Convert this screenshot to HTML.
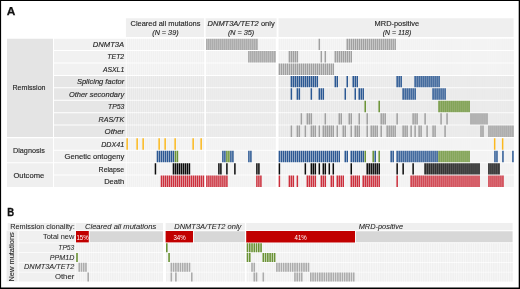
<!DOCTYPE html>
<html><head><meta charset="utf-8"><title>Figure</title>
<style>
html,body{margin:0;padding:0;background:#fff;}
body{width:520px;height:289px;overflow:hidden;font-family:"Liberation Sans",sans-serif;}
svg{display:block;will-change:transform;}
</style></head><body>
<svg width="520" height="289" viewBox="0 0 520 289" font-family="Liberation Sans, sans-serif">
<rect x="0" y="0" width="520" height="289" fill="#fff"/>
<text x="6.8" y="15.1" font-size="11.5" font-weight="bold" textLength="8.6" lengthAdjust="spacingAndGlyphs" fill="#111" stroke="#111" stroke-width="0.25">A</text>
<path fill="#efefef" d="M125.9 18.2h78.2v18.7h-78.2zM205.6 18.2h71v18.7h-71zM278.5 18.2h235.1v18.7h-235.1z"/>
<path fill="#e4e4e4" d="M7 38.65h46v98.39h-46z"/>
<path fill="#efefef" d="M7 138.31h46v23.87h-46zM7 163.15h46v23.87h-46z"/>
<path fill="#f1f1f1" d="M54 38.65h71.8v11.45h-71.8zM54 51.07h71.8v11.45h-71.8zM54 63.49h71.8v11.45h-71.8z"/>
<path fill="#e6e6e6" d="M54 75.91h71.8v11.45h-71.8zM54 88.33h71.8v11.45h-71.8zM54 100.75h71.8v11.45h-71.8zM54 113.17h71.8v11.45h-71.8zM54 125.59h71.8v11.45h-71.8z"/>
<path fill="#f1f1f1" d="M54 138.31h71.8v11.45h-71.8zM54 150.73h71.8v11.45h-71.8zM54 163.15h71.8v11.45h-71.8zM54 175.57h71.8v11.45h-71.8z"/>
<path fill="#f9f9f9" d="M126.7 38.65h77.5v11.45h-77.5zM206.15 38.65h69.5v11.45h-69.5zM278.65 38.65h235.03v11.45h-235.03z"/>
<path fill="#f1f1f1" d="M126.7 38.65h1.5v11.45h-1.5zM128.7 38.65h1.5v11.45h-1.5zM130.7 38.65h1.5v11.45h-1.5zM132.7 38.65h1.5v11.45h-1.5zM134.7 38.65h1.5v11.45h-1.5zM136.7 38.65h1.5v11.45h-1.5zM138.7 38.65h1.5v11.45h-1.5zM140.7 38.65h1.5v11.45h-1.5zM142.7 38.65h1.5v11.45h-1.5zM144.7 38.65h1.5v11.45h-1.5zM146.7 38.65h1.5v11.45h-1.5zM148.7 38.65h1.5v11.45h-1.5zM150.7 38.65h1.5v11.45h-1.5zM152.7 38.65h1.5v11.45h-1.5zM154.7 38.65h1.5v11.45h-1.5zM156.7 38.65h1.5v11.45h-1.5zM158.7 38.65h1.5v11.45h-1.5zM160.7 38.65h1.5v11.45h-1.5zM162.7 38.65h1.5v11.45h-1.5zM164.7 38.65h1.5v11.45h-1.5zM166.7 38.65h1.5v11.45h-1.5zM168.7 38.65h1.5v11.45h-1.5zM170.7 38.65h1.5v11.45h-1.5zM172.7 38.65h1.5v11.45h-1.5zM174.7 38.65h1.5v11.45h-1.5zM176.7 38.65h1.5v11.45h-1.5zM178.7 38.65h1.5v11.45h-1.5zM180.7 38.65h1.5v11.45h-1.5zM182.7 38.65h1.5v11.45h-1.5zM184.7 38.65h1.5v11.45h-1.5zM186.7 38.65h1.5v11.45h-1.5zM188.7 38.65h1.5v11.45h-1.5zM190.7 38.65h1.5v11.45h-1.5zM192.7 38.65h1.5v11.45h-1.5zM194.7 38.65h1.5v11.45h-1.5zM196.7 38.65h1.5v11.45h-1.5zM198.7 38.65h1.5v11.45h-1.5zM200.7 38.65h1.5v11.45h-1.5zM202.7 38.65h1.5v11.45h-1.5zM206.15 38.65h1.5v11.45h-1.5zM208.15 38.65h1.5v11.45h-1.5zM210.15 38.65h1.5v11.45h-1.5zM212.15 38.65h1.5v11.45h-1.5zM214.15 38.65h1.5v11.45h-1.5zM216.15 38.65h1.5v11.45h-1.5zM218.15 38.65h1.5v11.45h-1.5zM220.15 38.65h1.5v11.45h-1.5zM222.15 38.65h1.5v11.45h-1.5zM224.15 38.65h1.5v11.45h-1.5zM226.15 38.65h1.5v11.45h-1.5zM228.15 38.65h1.5v11.45h-1.5zM230.15 38.65h1.5v11.45h-1.5zM232.15 38.65h1.5v11.45h-1.5zM234.15 38.65h1.5v11.45h-1.5zM236.15 38.65h1.5v11.45h-1.5zM238.15 38.65h1.5v11.45h-1.5zM240.15 38.65h1.5v11.45h-1.5zM242.15 38.65h1.5v11.45h-1.5zM244.15 38.65h1.5v11.45h-1.5zM246.15 38.65h1.5v11.45h-1.5zM248.15 38.65h1.5v11.45h-1.5zM250.15 38.65h1.5v11.45h-1.5zM252.15 38.65h1.5v11.45h-1.5zM254.15 38.65h1.5v11.45h-1.5zM256.15 38.65h1.5v11.45h-1.5zM258.15 38.65h1.5v11.45h-1.5zM260.15 38.65h1.5v11.45h-1.5zM262.15 38.65h1.5v11.45h-1.5zM264.15 38.65h1.5v11.45h-1.5zM266.15 38.65h1.5v11.45h-1.5zM268.15 38.65h1.5v11.45h-1.5zM270.15 38.65h1.5v11.45h-1.5zM272.15 38.65h1.5v11.45h-1.5zM274.15 38.65h1.5v11.45h-1.5zM278.65 38.65h1.5v11.45h-1.5zM280.65 38.65h1.5v11.45h-1.5zM282.64 38.65h1.5v11.45h-1.5zM284.64 38.65h1.5v11.45h-1.5zM286.63 38.65h1.5v11.45h-1.5zM288.63 38.65h1.5v11.45h-1.5zM290.63 38.65h1.5v11.45h-1.5zM292.62 38.65h1.5v11.45h-1.5zM294.62 38.65h1.5v11.45h-1.5zM296.61 38.65h1.5v11.45h-1.5zM298.61 38.65h1.5v11.45h-1.5zM300.61 38.65h1.5v11.45h-1.5zM302.6 38.65h1.5v11.45h-1.5zM304.6 38.65h1.5v11.45h-1.5zM306.59 38.65h1.5v11.45h-1.5zM308.59 38.65h1.5v11.45h-1.5zM310.59 38.65h1.5v11.45h-1.5zM312.58 38.65h1.5v11.45h-1.5zM314.58 38.65h1.5v11.45h-1.5zM316.57 38.65h1.5v11.45h-1.5zM318.57 38.65h1.5v11.45h-1.5zM320.57 38.65h1.5v11.45h-1.5zM322.56 38.65h1.5v11.45h-1.5zM324.56 38.65h1.5v11.45h-1.5zM326.55 38.65h1.5v11.45h-1.5zM328.55 38.65h1.5v11.45h-1.5zM330.55 38.65h1.5v11.45h-1.5zM332.54 38.65h1.5v11.45h-1.5zM334.54 38.65h1.5v11.45h-1.5zM336.53 38.65h1.5v11.45h-1.5zM338.53 38.65h1.5v11.45h-1.5zM340.53 38.65h1.5v11.45h-1.5zM342.52 38.65h1.5v11.45h-1.5zM344.52 38.65h1.5v11.45h-1.5zM346.51 38.65h1.5v11.45h-1.5zM348.51 38.65h1.5v11.45h-1.5zM350.51 38.65h1.5v11.45h-1.5zM352.5 38.65h1.5v11.45h-1.5zM354.5 38.65h1.5v11.45h-1.5zM356.49 38.65h1.5v11.45h-1.5zM358.49 38.65h1.5v11.45h-1.5zM360.49 38.65h1.5v11.45h-1.5zM362.48 38.65h1.5v11.45h-1.5zM364.48 38.65h1.5v11.45h-1.5zM366.47 38.65h1.5v11.45h-1.5zM368.47 38.65h1.5v11.45h-1.5zM370.47 38.65h1.5v11.45h-1.5zM372.46 38.65h1.5v11.45h-1.5zM374.46 38.65h1.5v11.45h-1.5zM376.45 38.65h1.5v11.45h-1.5zM378.45 38.65h1.5v11.45h-1.5zM380.45 38.65h1.5v11.45h-1.5zM382.44 38.65h1.5v11.45h-1.5zM384.44 38.65h1.5v11.45h-1.5zM386.43 38.65h1.5v11.45h-1.5zM388.43 38.65h1.5v11.45h-1.5zM390.43 38.65h1.5v11.45h-1.5zM392.42 38.65h1.5v11.45h-1.5zM394.42 38.65h1.5v11.45h-1.5zM396.41 38.65h1.5v11.45h-1.5zM398.41 38.65h1.5v11.45h-1.5zM400.41 38.65h1.5v11.45h-1.5zM402.4 38.65h1.5v11.45h-1.5zM404.4 38.65h1.5v11.45h-1.5zM406.39 38.65h1.5v11.45h-1.5zM408.39 38.65h1.5v11.45h-1.5zM410.39 38.65h1.5v11.45h-1.5zM412.38 38.65h1.5v11.45h-1.5zM414.38 38.65h1.5v11.45h-1.5zM416.37 38.65h1.5v11.45h-1.5zM418.37 38.65h1.5v11.45h-1.5zM420.37 38.65h1.5v11.45h-1.5zM422.36 38.65h1.5v11.45h-1.5zM424.36 38.65h1.5v11.45h-1.5zM426.35 38.65h1.5v11.45h-1.5zM428.35 38.65h1.5v11.45h-1.5zM430.35 38.65h1.5v11.45h-1.5zM432.34 38.65h1.5v11.45h-1.5zM434.34 38.65h1.5v11.45h-1.5zM436.33 38.65h1.5v11.45h-1.5zM438.33 38.65h1.5v11.45h-1.5zM440.33 38.65h1.5v11.45h-1.5zM442.32 38.65h1.5v11.45h-1.5zM444.32 38.65h1.5v11.45h-1.5zM446.31 38.65h1.5v11.45h-1.5zM448.31 38.65h1.5v11.45h-1.5zM450.31 38.65h1.5v11.45h-1.5zM452.3 38.65h1.5v11.45h-1.5zM454.3 38.65h1.5v11.45h-1.5zM456.29 38.65h1.5v11.45h-1.5zM458.29 38.65h1.5v11.45h-1.5zM460.29 38.65h1.5v11.45h-1.5zM462.28 38.65h1.5v11.45h-1.5zM464.28 38.65h1.5v11.45h-1.5zM466.27 38.65h1.5v11.45h-1.5zM468.27 38.65h1.5v11.45h-1.5zM470.27 38.65h1.5v11.45h-1.5zM472.26 38.65h1.5v11.45h-1.5zM474.26 38.65h1.5v11.45h-1.5zM476.25 38.65h1.5v11.45h-1.5zM478.25 38.65h1.5v11.45h-1.5zM480.25 38.65h1.5v11.45h-1.5zM482.24 38.65h1.5v11.45h-1.5zM484.24 38.65h1.5v11.45h-1.5zM486.23 38.65h1.5v11.45h-1.5zM488.23 38.65h1.5v11.45h-1.5zM490.23 38.65h1.5v11.45h-1.5zM492.22 38.65h1.5v11.45h-1.5zM494.22 38.65h1.5v11.45h-1.5zM496.21 38.65h1.5v11.45h-1.5zM498.21 38.65h1.5v11.45h-1.5zM500.21 38.65h1.5v11.45h-1.5zM502.2 38.65h1.5v11.45h-1.5zM504.2 38.65h1.5v11.45h-1.5zM506.19 38.65h1.5v11.45h-1.5zM508.19 38.65h1.5v11.45h-1.5zM510.19 38.65h1.5v11.45h-1.5zM512.18 38.65h1.5v11.45h-1.5z"/>
<path fill="#f9f9f9" d="M126.7 51.07h77.5v11.45h-77.5zM206.15 51.07h69.5v11.45h-69.5zM278.65 51.07h235.03v11.45h-235.03z"/>
<path fill="#f1f1f1" d="M126.7 51.07h1.5v11.45h-1.5zM128.7 51.07h1.5v11.45h-1.5zM130.7 51.07h1.5v11.45h-1.5zM132.7 51.07h1.5v11.45h-1.5zM134.7 51.07h1.5v11.45h-1.5zM136.7 51.07h1.5v11.45h-1.5zM138.7 51.07h1.5v11.45h-1.5zM140.7 51.07h1.5v11.45h-1.5zM142.7 51.07h1.5v11.45h-1.5zM144.7 51.07h1.5v11.45h-1.5zM146.7 51.07h1.5v11.45h-1.5zM148.7 51.07h1.5v11.45h-1.5zM150.7 51.07h1.5v11.45h-1.5zM152.7 51.07h1.5v11.45h-1.5zM154.7 51.07h1.5v11.45h-1.5zM156.7 51.07h1.5v11.45h-1.5zM158.7 51.07h1.5v11.45h-1.5zM160.7 51.07h1.5v11.45h-1.5zM162.7 51.07h1.5v11.45h-1.5zM164.7 51.07h1.5v11.45h-1.5zM166.7 51.07h1.5v11.45h-1.5zM168.7 51.07h1.5v11.45h-1.5zM170.7 51.07h1.5v11.45h-1.5zM172.7 51.07h1.5v11.45h-1.5zM174.7 51.07h1.5v11.45h-1.5zM176.7 51.07h1.5v11.45h-1.5zM178.7 51.07h1.5v11.45h-1.5zM180.7 51.07h1.5v11.45h-1.5zM182.7 51.07h1.5v11.45h-1.5zM184.7 51.07h1.5v11.45h-1.5zM186.7 51.07h1.5v11.45h-1.5zM188.7 51.07h1.5v11.45h-1.5zM190.7 51.07h1.5v11.45h-1.5zM192.7 51.07h1.5v11.45h-1.5zM194.7 51.07h1.5v11.45h-1.5zM196.7 51.07h1.5v11.45h-1.5zM198.7 51.07h1.5v11.45h-1.5zM200.7 51.07h1.5v11.45h-1.5zM202.7 51.07h1.5v11.45h-1.5zM206.15 51.07h1.5v11.45h-1.5zM208.15 51.07h1.5v11.45h-1.5zM210.15 51.07h1.5v11.45h-1.5zM212.15 51.07h1.5v11.45h-1.5zM214.15 51.07h1.5v11.45h-1.5zM216.15 51.07h1.5v11.45h-1.5zM218.15 51.07h1.5v11.45h-1.5zM220.15 51.07h1.5v11.45h-1.5zM222.15 51.07h1.5v11.45h-1.5zM224.15 51.07h1.5v11.45h-1.5zM226.15 51.07h1.5v11.45h-1.5zM228.15 51.07h1.5v11.45h-1.5zM230.15 51.07h1.5v11.45h-1.5zM232.15 51.07h1.5v11.45h-1.5zM234.15 51.07h1.5v11.45h-1.5zM236.15 51.07h1.5v11.45h-1.5zM238.15 51.07h1.5v11.45h-1.5zM240.15 51.07h1.5v11.45h-1.5zM242.15 51.07h1.5v11.45h-1.5zM244.15 51.07h1.5v11.45h-1.5zM246.15 51.07h1.5v11.45h-1.5zM248.15 51.07h1.5v11.45h-1.5zM250.15 51.07h1.5v11.45h-1.5zM252.15 51.07h1.5v11.45h-1.5zM254.15 51.07h1.5v11.45h-1.5zM256.15 51.07h1.5v11.45h-1.5zM258.15 51.07h1.5v11.45h-1.5zM260.15 51.07h1.5v11.45h-1.5zM262.15 51.07h1.5v11.45h-1.5zM264.15 51.07h1.5v11.45h-1.5zM266.15 51.07h1.5v11.45h-1.5zM268.15 51.07h1.5v11.45h-1.5zM270.15 51.07h1.5v11.45h-1.5zM272.15 51.07h1.5v11.45h-1.5zM274.15 51.07h1.5v11.45h-1.5zM278.65 51.07h1.5v11.45h-1.5zM280.65 51.07h1.5v11.45h-1.5zM282.64 51.07h1.5v11.45h-1.5zM284.64 51.07h1.5v11.45h-1.5zM286.63 51.07h1.5v11.45h-1.5zM288.63 51.07h1.5v11.45h-1.5zM290.63 51.07h1.5v11.45h-1.5zM292.62 51.07h1.5v11.45h-1.5zM294.62 51.07h1.5v11.45h-1.5zM296.61 51.07h1.5v11.45h-1.5zM298.61 51.07h1.5v11.45h-1.5zM300.61 51.07h1.5v11.45h-1.5zM302.6 51.07h1.5v11.45h-1.5zM304.6 51.07h1.5v11.45h-1.5zM306.59 51.07h1.5v11.45h-1.5zM308.59 51.07h1.5v11.45h-1.5zM310.59 51.07h1.5v11.45h-1.5zM312.58 51.07h1.5v11.45h-1.5zM314.58 51.07h1.5v11.45h-1.5zM316.57 51.07h1.5v11.45h-1.5zM318.57 51.07h1.5v11.45h-1.5zM320.57 51.07h1.5v11.45h-1.5zM322.56 51.07h1.5v11.45h-1.5zM324.56 51.07h1.5v11.45h-1.5zM326.55 51.07h1.5v11.45h-1.5zM328.55 51.07h1.5v11.45h-1.5zM330.55 51.07h1.5v11.45h-1.5zM332.54 51.07h1.5v11.45h-1.5zM334.54 51.07h1.5v11.45h-1.5zM336.53 51.07h1.5v11.45h-1.5zM338.53 51.07h1.5v11.45h-1.5zM340.53 51.07h1.5v11.45h-1.5zM342.52 51.07h1.5v11.45h-1.5zM344.52 51.07h1.5v11.45h-1.5zM346.51 51.07h1.5v11.45h-1.5zM348.51 51.07h1.5v11.45h-1.5zM350.51 51.07h1.5v11.45h-1.5zM352.5 51.07h1.5v11.45h-1.5zM354.5 51.07h1.5v11.45h-1.5zM356.49 51.07h1.5v11.45h-1.5zM358.49 51.07h1.5v11.45h-1.5zM360.49 51.07h1.5v11.45h-1.5zM362.48 51.07h1.5v11.45h-1.5zM364.48 51.07h1.5v11.45h-1.5zM366.47 51.07h1.5v11.45h-1.5zM368.47 51.07h1.5v11.45h-1.5zM370.47 51.07h1.5v11.45h-1.5zM372.46 51.07h1.5v11.45h-1.5zM374.46 51.07h1.5v11.45h-1.5zM376.45 51.07h1.5v11.45h-1.5zM378.45 51.07h1.5v11.45h-1.5zM380.45 51.07h1.5v11.45h-1.5zM382.44 51.07h1.5v11.45h-1.5zM384.44 51.07h1.5v11.45h-1.5zM386.43 51.07h1.5v11.45h-1.5zM388.43 51.07h1.5v11.45h-1.5zM390.43 51.07h1.5v11.45h-1.5zM392.42 51.07h1.5v11.45h-1.5zM394.42 51.07h1.5v11.45h-1.5zM396.41 51.07h1.5v11.45h-1.5zM398.41 51.07h1.5v11.45h-1.5zM400.41 51.07h1.5v11.45h-1.5zM402.4 51.07h1.5v11.45h-1.5zM404.4 51.07h1.5v11.45h-1.5zM406.39 51.07h1.5v11.45h-1.5zM408.39 51.07h1.5v11.45h-1.5zM410.39 51.07h1.5v11.45h-1.5zM412.38 51.07h1.5v11.45h-1.5zM414.38 51.07h1.5v11.45h-1.5zM416.37 51.07h1.5v11.45h-1.5zM418.37 51.07h1.5v11.45h-1.5zM420.37 51.07h1.5v11.45h-1.5zM422.36 51.07h1.5v11.45h-1.5zM424.36 51.07h1.5v11.45h-1.5zM426.35 51.07h1.5v11.45h-1.5zM428.35 51.07h1.5v11.45h-1.5zM430.35 51.07h1.5v11.45h-1.5zM432.34 51.07h1.5v11.45h-1.5zM434.34 51.07h1.5v11.45h-1.5zM436.33 51.07h1.5v11.45h-1.5zM438.33 51.07h1.5v11.45h-1.5zM440.33 51.07h1.5v11.45h-1.5zM442.32 51.07h1.5v11.45h-1.5zM444.32 51.07h1.5v11.45h-1.5zM446.31 51.07h1.5v11.45h-1.5zM448.31 51.07h1.5v11.45h-1.5zM450.31 51.07h1.5v11.45h-1.5zM452.3 51.07h1.5v11.45h-1.5zM454.3 51.07h1.5v11.45h-1.5zM456.29 51.07h1.5v11.45h-1.5zM458.29 51.07h1.5v11.45h-1.5zM460.29 51.07h1.5v11.45h-1.5zM462.28 51.07h1.5v11.45h-1.5zM464.28 51.07h1.5v11.45h-1.5zM466.27 51.07h1.5v11.45h-1.5zM468.27 51.07h1.5v11.45h-1.5zM470.27 51.07h1.5v11.45h-1.5zM472.26 51.07h1.5v11.45h-1.5zM474.26 51.07h1.5v11.45h-1.5zM476.25 51.07h1.5v11.45h-1.5zM478.25 51.07h1.5v11.45h-1.5zM480.25 51.07h1.5v11.45h-1.5zM482.24 51.07h1.5v11.45h-1.5zM484.24 51.07h1.5v11.45h-1.5zM486.23 51.07h1.5v11.45h-1.5zM488.23 51.07h1.5v11.45h-1.5zM490.23 51.07h1.5v11.45h-1.5zM492.22 51.07h1.5v11.45h-1.5zM494.22 51.07h1.5v11.45h-1.5zM496.21 51.07h1.5v11.45h-1.5zM498.21 51.07h1.5v11.45h-1.5zM500.21 51.07h1.5v11.45h-1.5zM502.2 51.07h1.5v11.45h-1.5zM504.2 51.07h1.5v11.45h-1.5zM506.19 51.07h1.5v11.45h-1.5zM508.19 51.07h1.5v11.45h-1.5zM510.19 51.07h1.5v11.45h-1.5zM512.18 51.07h1.5v11.45h-1.5z"/>
<path fill="#f9f9f9" d="M126.7 63.49h77.5v11.45h-77.5zM206.15 63.49h69.5v11.45h-69.5zM278.65 63.49h235.03v11.45h-235.03z"/>
<path fill="#f1f1f1" d="M126.7 63.49h1.5v11.45h-1.5zM128.7 63.49h1.5v11.45h-1.5zM130.7 63.49h1.5v11.45h-1.5zM132.7 63.49h1.5v11.45h-1.5zM134.7 63.49h1.5v11.45h-1.5zM136.7 63.49h1.5v11.45h-1.5zM138.7 63.49h1.5v11.45h-1.5zM140.7 63.49h1.5v11.45h-1.5zM142.7 63.49h1.5v11.45h-1.5zM144.7 63.49h1.5v11.45h-1.5zM146.7 63.49h1.5v11.45h-1.5zM148.7 63.49h1.5v11.45h-1.5zM150.7 63.49h1.5v11.45h-1.5zM152.7 63.49h1.5v11.45h-1.5zM154.7 63.49h1.5v11.45h-1.5zM156.7 63.49h1.5v11.45h-1.5zM158.7 63.49h1.5v11.45h-1.5zM160.7 63.49h1.5v11.45h-1.5zM162.7 63.49h1.5v11.45h-1.5zM164.7 63.49h1.5v11.45h-1.5zM166.7 63.49h1.5v11.45h-1.5zM168.7 63.49h1.5v11.45h-1.5zM170.7 63.49h1.5v11.45h-1.5zM172.7 63.49h1.5v11.45h-1.5zM174.7 63.49h1.5v11.45h-1.5zM176.7 63.49h1.5v11.45h-1.5zM178.7 63.49h1.5v11.45h-1.5zM180.7 63.49h1.5v11.45h-1.5zM182.7 63.49h1.5v11.45h-1.5zM184.7 63.49h1.5v11.45h-1.5zM186.7 63.49h1.5v11.45h-1.5zM188.7 63.49h1.5v11.45h-1.5zM190.7 63.49h1.5v11.45h-1.5zM192.7 63.49h1.5v11.45h-1.5zM194.7 63.49h1.5v11.45h-1.5zM196.7 63.49h1.5v11.45h-1.5zM198.7 63.49h1.5v11.45h-1.5zM200.7 63.49h1.5v11.45h-1.5zM202.7 63.49h1.5v11.45h-1.5zM206.15 63.49h1.5v11.45h-1.5zM208.15 63.49h1.5v11.45h-1.5zM210.15 63.49h1.5v11.45h-1.5zM212.15 63.49h1.5v11.45h-1.5zM214.15 63.49h1.5v11.45h-1.5zM216.15 63.49h1.5v11.45h-1.5zM218.15 63.49h1.5v11.45h-1.5zM220.15 63.49h1.5v11.45h-1.5zM222.15 63.49h1.5v11.45h-1.5zM224.15 63.49h1.5v11.45h-1.5zM226.15 63.49h1.5v11.45h-1.5zM228.15 63.49h1.5v11.45h-1.5zM230.15 63.49h1.5v11.45h-1.5zM232.15 63.49h1.5v11.45h-1.5zM234.15 63.49h1.5v11.45h-1.5zM236.15 63.49h1.5v11.45h-1.5zM238.15 63.49h1.5v11.45h-1.5zM240.15 63.49h1.5v11.45h-1.5zM242.15 63.49h1.5v11.45h-1.5zM244.15 63.49h1.5v11.45h-1.5zM246.15 63.49h1.5v11.45h-1.5zM248.15 63.49h1.5v11.45h-1.5zM250.15 63.49h1.5v11.45h-1.5zM252.15 63.49h1.5v11.45h-1.5zM254.15 63.49h1.5v11.45h-1.5zM256.15 63.49h1.5v11.45h-1.5zM258.15 63.49h1.5v11.45h-1.5zM260.15 63.49h1.5v11.45h-1.5zM262.15 63.49h1.5v11.45h-1.5zM264.15 63.49h1.5v11.45h-1.5zM266.15 63.49h1.5v11.45h-1.5zM268.15 63.49h1.5v11.45h-1.5zM270.15 63.49h1.5v11.45h-1.5zM272.15 63.49h1.5v11.45h-1.5zM274.15 63.49h1.5v11.45h-1.5zM278.65 63.49h1.5v11.45h-1.5zM280.65 63.49h1.5v11.45h-1.5zM282.64 63.49h1.5v11.45h-1.5zM284.64 63.49h1.5v11.45h-1.5zM286.63 63.49h1.5v11.45h-1.5zM288.63 63.49h1.5v11.45h-1.5zM290.63 63.49h1.5v11.45h-1.5zM292.62 63.49h1.5v11.45h-1.5zM294.62 63.49h1.5v11.45h-1.5zM296.61 63.49h1.5v11.45h-1.5zM298.61 63.49h1.5v11.45h-1.5zM300.61 63.49h1.5v11.45h-1.5zM302.6 63.49h1.5v11.45h-1.5zM304.6 63.49h1.5v11.45h-1.5zM306.59 63.49h1.5v11.45h-1.5zM308.59 63.49h1.5v11.45h-1.5zM310.59 63.49h1.5v11.45h-1.5zM312.58 63.49h1.5v11.45h-1.5zM314.58 63.49h1.5v11.45h-1.5zM316.57 63.49h1.5v11.45h-1.5zM318.57 63.49h1.5v11.45h-1.5zM320.57 63.49h1.5v11.45h-1.5zM322.56 63.49h1.5v11.45h-1.5zM324.56 63.49h1.5v11.45h-1.5zM326.55 63.49h1.5v11.45h-1.5zM328.55 63.49h1.5v11.45h-1.5zM330.55 63.49h1.5v11.45h-1.5zM332.54 63.49h1.5v11.45h-1.5zM334.54 63.49h1.5v11.45h-1.5zM336.53 63.49h1.5v11.45h-1.5zM338.53 63.49h1.5v11.45h-1.5zM340.53 63.49h1.5v11.45h-1.5zM342.52 63.49h1.5v11.45h-1.5zM344.52 63.49h1.5v11.45h-1.5zM346.51 63.49h1.5v11.45h-1.5zM348.51 63.49h1.5v11.45h-1.5zM350.51 63.49h1.5v11.45h-1.5zM352.5 63.49h1.5v11.45h-1.5zM354.5 63.49h1.5v11.45h-1.5zM356.49 63.49h1.5v11.45h-1.5zM358.49 63.49h1.5v11.45h-1.5zM360.49 63.49h1.5v11.45h-1.5zM362.48 63.49h1.5v11.45h-1.5zM364.48 63.49h1.5v11.45h-1.5zM366.47 63.49h1.5v11.45h-1.5zM368.47 63.49h1.5v11.45h-1.5zM370.47 63.49h1.5v11.45h-1.5zM372.46 63.49h1.5v11.45h-1.5zM374.46 63.49h1.5v11.45h-1.5zM376.45 63.49h1.5v11.45h-1.5zM378.45 63.49h1.5v11.45h-1.5zM380.45 63.49h1.5v11.45h-1.5zM382.44 63.49h1.5v11.45h-1.5zM384.44 63.49h1.5v11.45h-1.5zM386.43 63.49h1.5v11.45h-1.5zM388.43 63.49h1.5v11.45h-1.5zM390.43 63.49h1.5v11.45h-1.5zM392.42 63.49h1.5v11.45h-1.5zM394.42 63.49h1.5v11.45h-1.5zM396.41 63.49h1.5v11.45h-1.5zM398.41 63.49h1.5v11.45h-1.5zM400.41 63.49h1.5v11.45h-1.5zM402.4 63.49h1.5v11.45h-1.5zM404.4 63.49h1.5v11.45h-1.5zM406.39 63.49h1.5v11.45h-1.5zM408.39 63.49h1.5v11.45h-1.5zM410.39 63.49h1.5v11.45h-1.5zM412.38 63.49h1.5v11.45h-1.5zM414.38 63.49h1.5v11.45h-1.5zM416.37 63.49h1.5v11.45h-1.5zM418.37 63.49h1.5v11.45h-1.5zM420.37 63.49h1.5v11.45h-1.5zM422.36 63.49h1.5v11.45h-1.5zM424.36 63.49h1.5v11.45h-1.5zM426.35 63.49h1.5v11.45h-1.5zM428.35 63.49h1.5v11.45h-1.5zM430.35 63.49h1.5v11.45h-1.5zM432.34 63.49h1.5v11.45h-1.5zM434.34 63.49h1.5v11.45h-1.5zM436.33 63.49h1.5v11.45h-1.5zM438.33 63.49h1.5v11.45h-1.5zM440.33 63.49h1.5v11.45h-1.5zM442.32 63.49h1.5v11.45h-1.5zM444.32 63.49h1.5v11.45h-1.5zM446.31 63.49h1.5v11.45h-1.5zM448.31 63.49h1.5v11.45h-1.5zM450.31 63.49h1.5v11.45h-1.5zM452.3 63.49h1.5v11.45h-1.5zM454.3 63.49h1.5v11.45h-1.5zM456.29 63.49h1.5v11.45h-1.5zM458.29 63.49h1.5v11.45h-1.5zM460.29 63.49h1.5v11.45h-1.5zM462.28 63.49h1.5v11.45h-1.5zM464.28 63.49h1.5v11.45h-1.5zM466.27 63.49h1.5v11.45h-1.5zM468.27 63.49h1.5v11.45h-1.5zM470.27 63.49h1.5v11.45h-1.5zM472.26 63.49h1.5v11.45h-1.5zM474.26 63.49h1.5v11.45h-1.5zM476.25 63.49h1.5v11.45h-1.5zM478.25 63.49h1.5v11.45h-1.5zM480.25 63.49h1.5v11.45h-1.5zM482.24 63.49h1.5v11.45h-1.5zM484.24 63.49h1.5v11.45h-1.5zM486.23 63.49h1.5v11.45h-1.5zM488.23 63.49h1.5v11.45h-1.5zM490.23 63.49h1.5v11.45h-1.5zM492.22 63.49h1.5v11.45h-1.5zM494.22 63.49h1.5v11.45h-1.5zM496.21 63.49h1.5v11.45h-1.5zM498.21 63.49h1.5v11.45h-1.5zM500.21 63.49h1.5v11.45h-1.5zM502.2 63.49h1.5v11.45h-1.5zM504.2 63.49h1.5v11.45h-1.5zM506.19 63.49h1.5v11.45h-1.5zM508.19 63.49h1.5v11.45h-1.5zM510.19 63.49h1.5v11.45h-1.5zM512.18 63.49h1.5v11.45h-1.5z"/>
<path fill="#f3f3f3" d="M126.7 75.91h77.5v11.45h-77.5zM206.15 75.91h69.5v11.45h-69.5zM278.65 75.91h235.03v11.45h-235.03z"/>
<path fill="#e8e8e8" d="M126.7 75.91h1.5v11.45h-1.5zM128.7 75.91h1.5v11.45h-1.5zM130.7 75.91h1.5v11.45h-1.5zM132.7 75.91h1.5v11.45h-1.5zM134.7 75.91h1.5v11.45h-1.5zM136.7 75.91h1.5v11.45h-1.5zM138.7 75.91h1.5v11.45h-1.5zM140.7 75.91h1.5v11.45h-1.5zM142.7 75.91h1.5v11.45h-1.5zM144.7 75.91h1.5v11.45h-1.5zM146.7 75.91h1.5v11.45h-1.5zM148.7 75.91h1.5v11.45h-1.5zM150.7 75.91h1.5v11.45h-1.5zM152.7 75.91h1.5v11.45h-1.5zM154.7 75.91h1.5v11.45h-1.5zM156.7 75.91h1.5v11.45h-1.5zM158.7 75.91h1.5v11.45h-1.5zM160.7 75.91h1.5v11.45h-1.5zM162.7 75.91h1.5v11.45h-1.5zM164.7 75.91h1.5v11.45h-1.5zM166.7 75.91h1.5v11.45h-1.5zM168.7 75.91h1.5v11.45h-1.5zM170.7 75.91h1.5v11.45h-1.5zM172.7 75.91h1.5v11.45h-1.5zM174.7 75.91h1.5v11.45h-1.5zM176.7 75.91h1.5v11.45h-1.5zM178.7 75.91h1.5v11.45h-1.5zM180.7 75.91h1.5v11.45h-1.5zM182.7 75.91h1.5v11.45h-1.5zM184.7 75.91h1.5v11.45h-1.5zM186.7 75.91h1.5v11.45h-1.5zM188.7 75.91h1.5v11.45h-1.5zM190.7 75.91h1.5v11.45h-1.5zM192.7 75.91h1.5v11.45h-1.5zM194.7 75.91h1.5v11.45h-1.5zM196.7 75.91h1.5v11.45h-1.5zM198.7 75.91h1.5v11.45h-1.5zM200.7 75.91h1.5v11.45h-1.5zM202.7 75.91h1.5v11.45h-1.5zM206.15 75.91h1.5v11.45h-1.5zM208.15 75.91h1.5v11.45h-1.5zM210.15 75.91h1.5v11.45h-1.5zM212.15 75.91h1.5v11.45h-1.5zM214.15 75.91h1.5v11.45h-1.5zM216.15 75.91h1.5v11.45h-1.5zM218.15 75.91h1.5v11.45h-1.5zM220.15 75.91h1.5v11.45h-1.5zM222.15 75.91h1.5v11.45h-1.5zM224.15 75.91h1.5v11.45h-1.5zM226.15 75.91h1.5v11.45h-1.5zM228.15 75.91h1.5v11.45h-1.5zM230.15 75.91h1.5v11.45h-1.5zM232.15 75.91h1.5v11.45h-1.5zM234.15 75.91h1.5v11.45h-1.5zM236.15 75.91h1.5v11.45h-1.5zM238.15 75.91h1.5v11.45h-1.5zM240.15 75.91h1.5v11.45h-1.5zM242.15 75.91h1.5v11.45h-1.5zM244.15 75.91h1.5v11.45h-1.5zM246.15 75.91h1.5v11.45h-1.5zM248.15 75.91h1.5v11.45h-1.5zM250.15 75.91h1.5v11.45h-1.5zM252.15 75.91h1.5v11.45h-1.5zM254.15 75.91h1.5v11.45h-1.5zM256.15 75.91h1.5v11.45h-1.5zM258.15 75.91h1.5v11.45h-1.5zM260.15 75.91h1.5v11.45h-1.5zM262.15 75.91h1.5v11.45h-1.5zM264.15 75.91h1.5v11.45h-1.5zM266.15 75.91h1.5v11.45h-1.5zM268.15 75.91h1.5v11.45h-1.5zM270.15 75.91h1.5v11.45h-1.5zM272.15 75.91h1.5v11.45h-1.5zM274.15 75.91h1.5v11.45h-1.5zM278.65 75.91h1.5v11.45h-1.5zM280.65 75.91h1.5v11.45h-1.5zM282.64 75.91h1.5v11.45h-1.5zM284.64 75.91h1.5v11.45h-1.5zM286.63 75.91h1.5v11.45h-1.5zM288.63 75.91h1.5v11.45h-1.5zM290.63 75.91h1.5v11.45h-1.5zM292.62 75.91h1.5v11.45h-1.5zM294.62 75.91h1.5v11.45h-1.5zM296.61 75.91h1.5v11.45h-1.5zM298.61 75.91h1.5v11.45h-1.5zM300.61 75.91h1.5v11.45h-1.5zM302.6 75.91h1.5v11.45h-1.5zM304.6 75.91h1.5v11.45h-1.5zM306.59 75.91h1.5v11.45h-1.5zM308.59 75.91h1.5v11.45h-1.5zM310.59 75.91h1.5v11.45h-1.5zM312.58 75.91h1.5v11.45h-1.5zM314.58 75.91h1.5v11.45h-1.5zM316.57 75.91h1.5v11.45h-1.5zM318.57 75.91h1.5v11.45h-1.5zM320.57 75.91h1.5v11.45h-1.5zM322.56 75.91h1.5v11.45h-1.5zM324.56 75.91h1.5v11.45h-1.5zM326.55 75.91h1.5v11.45h-1.5zM328.55 75.91h1.5v11.45h-1.5zM330.55 75.91h1.5v11.45h-1.5zM332.54 75.91h1.5v11.45h-1.5zM334.54 75.91h1.5v11.45h-1.5zM336.53 75.91h1.5v11.45h-1.5zM338.53 75.91h1.5v11.45h-1.5zM340.53 75.91h1.5v11.45h-1.5zM342.52 75.91h1.5v11.45h-1.5zM344.52 75.91h1.5v11.45h-1.5zM346.51 75.91h1.5v11.45h-1.5zM348.51 75.91h1.5v11.45h-1.5zM350.51 75.91h1.5v11.45h-1.5zM352.5 75.91h1.5v11.45h-1.5zM354.5 75.91h1.5v11.45h-1.5zM356.49 75.91h1.5v11.45h-1.5zM358.49 75.91h1.5v11.45h-1.5zM360.49 75.91h1.5v11.45h-1.5zM362.48 75.91h1.5v11.45h-1.5zM364.48 75.91h1.5v11.45h-1.5zM366.47 75.91h1.5v11.45h-1.5zM368.47 75.91h1.5v11.45h-1.5zM370.47 75.91h1.5v11.45h-1.5zM372.46 75.91h1.5v11.45h-1.5zM374.46 75.91h1.5v11.45h-1.5zM376.45 75.91h1.5v11.45h-1.5zM378.45 75.91h1.5v11.45h-1.5zM380.45 75.91h1.5v11.45h-1.5zM382.44 75.91h1.5v11.45h-1.5zM384.44 75.91h1.5v11.45h-1.5zM386.43 75.91h1.5v11.45h-1.5zM388.43 75.91h1.5v11.45h-1.5zM390.43 75.91h1.5v11.45h-1.5zM392.42 75.91h1.5v11.45h-1.5zM394.42 75.91h1.5v11.45h-1.5zM396.41 75.91h1.5v11.45h-1.5zM398.41 75.91h1.5v11.45h-1.5zM400.41 75.91h1.5v11.45h-1.5zM402.4 75.91h1.5v11.45h-1.5zM404.4 75.91h1.5v11.45h-1.5zM406.39 75.91h1.5v11.45h-1.5zM408.39 75.91h1.5v11.45h-1.5zM410.39 75.91h1.5v11.45h-1.5zM412.38 75.91h1.5v11.45h-1.5zM414.38 75.91h1.5v11.45h-1.5zM416.37 75.91h1.5v11.45h-1.5zM418.37 75.91h1.5v11.45h-1.5zM420.37 75.91h1.5v11.45h-1.5zM422.36 75.91h1.5v11.45h-1.5zM424.36 75.91h1.5v11.45h-1.5zM426.35 75.91h1.5v11.45h-1.5zM428.35 75.91h1.5v11.45h-1.5zM430.35 75.91h1.5v11.45h-1.5zM432.34 75.91h1.5v11.45h-1.5zM434.34 75.91h1.5v11.45h-1.5zM436.33 75.91h1.5v11.45h-1.5zM438.33 75.91h1.5v11.45h-1.5zM440.33 75.91h1.5v11.45h-1.5zM442.32 75.91h1.5v11.45h-1.5zM444.32 75.91h1.5v11.45h-1.5zM446.31 75.91h1.5v11.45h-1.5zM448.31 75.91h1.5v11.45h-1.5zM450.31 75.91h1.5v11.45h-1.5zM452.3 75.91h1.5v11.45h-1.5zM454.3 75.91h1.5v11.45h-1.5zM456.29 75.91h1.5v11.45h-1.5zM458.29 75.91h1.5v11.45h-1.5zM460.29 75.91h1.5v11.45h-1.5zM462.28 75.91h1.5v11.45h-1.5zM464.28 75.91h1.5v11.45h-1.5zM466.27 75.91h1.5v11.45h-1.5zM468.27 75.91h1.5v11.45h-1.5zM470.27 75.91h1.5v11.45h-1.5zM472.26 75.91h1.5v11.45h-1.5zM474.26 75.91h1.5v11.45h-1.5zM476.25 75.91h1.5v11.45h-1.5zM478.25 75.91h1.5v11.45h-1.5zM480.25 75.91h1.5v11.45h-1.5zM482.24 75.91h1.5v11.45h-1.5zM484.24 75.91h1.5v11.45h-1.5zM486.23 75.91h1.5v11.45h-1.5zM488.23 75.91h1.5v11.45h-1.5zM490.23 75.91h1.5v11.45h-1.5zM492.22 75.91h1.5v11.45h-1.5zM494.22 75.91h1.5v11.45h-1.5zM496.21 75.91h1.5v11.45h-1.5zM498.21 75.91h1.5v11.45h-1.5zM500.21 75.91h1.5v11.45h-1.5zM502.2 75.91h1.5v11.45h-1.5zM504.2 75.91h1.5v11.45h-1.5zM506.19 75.91h1.5v11.45h-1.5zM508.19 75.91h1.5v11.45h-1.5zM510.19 75.91h1.5v11.45h-1.5zM512.18 75.91h1.5v11.45h-1.5z"/>
<path fill="#f3f3f3" d="M126.7 88.33h77.5v11.45h-77.5zM206.15 88.33h69.5v11.45h-69.5zM278.65 88.33h235.03v11.45h-235.03z"/>
<path fill="#e8e8e8" d="M126.7 88.33h1.5v11.45h-1.5zM128.7 88.33h1.5v11.45h-1.5zM130.7 88.33h1.5v11.45h-1.5zM132.7 88.33h1.5v11.45h-1.5zM134.7 88.33h1.5v11.45h-1.5zM136.7 88.33h1.5v11.45h-1.5zM138.7 88.33h1.5v11.45h-1.5zM140.7 88.33h1.5v11.45h-1.5zM142.7 88.33h1.5v11.45h-1.5zM144.7 88.33h1.5v11.45h-1.5zM146.7 88.33h1.5v11.45h-1.5zM148.7 88.33h1.5v11.45h-1.5zM150.7 88.33h1.5v11.45h-1.5zM152.7 88.33h1.5v11.45h-1.5zM154.7 88.33h1.5v11.45h-1.5zM156.7 88.33h1.5v11.45h-1.5zM158.7 88.33h1.5v11.45h-1.5zM160.7 88.33h1.5v11.45h-1.5zM162.7 88.33h1.5v11.45h-1.5zM164.7 88.33h1.5v11.45h-1.5zM166.7 88.33h1.5v11.45h-1.5zM168.7 88.33h1.5v11.45h-1.5zM170.7 88.33h1.5v11.45h-1.5zM172.7 88.33h1.5v11.45h-1.5zM174.7 88.33h1.5v11.45h-1.5zM176.7 88.33h1.5v11.45h-1.5zM178.7 88.33h1.5v11.45h-1.5zM180.7 88.33h1.5v11.45h-1.5zM182.7 88.33h1.5v11.45h-1.5zM184.7 88.33h1.5v11.45h-1.5zM186.7 88.33h1.5v11.45h-1.5zM188.7 88.33h1.5v11.45h-1.5zM190.7 88.33h1.5v11.45h-1.5zM192.7 88.33h1.5v11.45h-1.5zM194.7 88.33h1.5v11.45h-1.5zM196.7 88.33h1.5v11.45h-1.5zM198.7 88.33h1.5v11.45h-1.5zM200.7 88.33h1.5v11.45h-1.5zM202.7 88.33h1.5v11.45h-1.5zM206.15 88.33h1.5v11.45h-1.5zM208.15 88.33h1.5v11.45h-1.5zM210.15 88.33h1.5v11.45h-1.5zM212.15 88.33h1.5v11.45h-1.5zM214.15 88.33h1.5v11.45h-1.5zM216.15 88.33h1.5v11.45h-1.5zM218.15 88.33h1.5v11.45h-1.5zM220.15 88.33h1.5v11.45h-1.5zM222.15 88.33h1.5v11.45h-1.5zM224.15 88.33h1.5v11.45h-1.5zM226.15 88.33h1.5v11.45h-1.5zM228.15 88.33h1.5v11.45h-1.5zM230.15 88.33h1.5v11.45h-1.5zM232.15 88.33h1.5v11.45h-1.5zM234.15 88.33h1.5v11.45h-1.5zM236.15 88.33h1.5v11.45h-1.5zM238.15 88.33h1.5v11.45h-1.5zM240.15 88.33h1.5v11.45h-1.5zM242.15 88.33h1.5v11.45h-1.5zM244.15 88.33h1.5v11.45h-1.5zM246.15 88.33h1.5v11.45h-1.5zM248.15 88.33h1.5v11.45h-1.5zM250.15 88.33h1.5v11.45h-1.5zM252.15 88.33h1.5v11.45h-1.5zM254.15 88.33h1.5v11.45h-1.5zM256.15 88.33h1.5v11.45h-1.5zM258.15 88.33h1.5v11.45h-1.5zM260.15 88.33h1.5v11.45h-1.5zM262.15 88.33h1.5v11.45h-1.5zM264.15 88.33h1.5v11.45h-1.5zM266.15 88.33h1.5v11.45h-1.5zM268.15 88.33h1.5v11.45h-1.5zM270.15 88.33h1.5v11.45h-1.5zM272.15 88.33h1.5v11.45h-1.5zM274.15 88.33h1.5v11.45h-1.5zM278.65 88.33h1.5v11.45h-1.5zM280.65 88.33h1.5v11.45h-1.5zM282.64 88.33h1.5v11.45h-1.5zM284.64 88.33h1.5v11.45h-1.5zM286.63 88.33h1.5v11.45h-1.5zM288.63 88.33h1.5v11.45h-1.5zM290.63 88.33h1.5v11.45h-1.5zM292.62 88.33h1.5v11.45h-1.5zM294.62 88.33h1.5v11.45h-1.5zM296.61 88.33h1.5v11.45h-1.5zM298.61 88.33h1.5v11.45h-1.5zM300.61 88.33h1.5v11.45h-1.5zM302.6 88.33h1.5v11.45h-1.5zM304.6 88.33h1.5v11.45h-1.5zM306.59 88.33h1.5v11.45h-1.5zM308.59 88.33h1.5v11.45h-1.5zM310.59 88.33h1.5v11.45h-1.5zM312.58 88.33h1.5v11.45h-1.5zM314.58 88.33h1.5v11.45h-1.5zM316.57 88.33h1.5v11.45h-1.5zM318.57 88.33h1.5v11.45h-1.5zM320.57 88.33h1.5v11.45h-1.5zM322.56 88.33h1.5v11.45h-1.5zM324.56 88.33h1.5v11.45h-1.5zM326.55 88.33h1.5v11.45h-1.5zM328.55 88.33h1.5v11.45h-1.5zM330.55 88.33h1.5v11.45h-1.5zM332.54 88.33h1.5v11.45h-1.5zM334.54 88.33h1.5v11.45h-1.5zM336.53 88.33h1.5v11.45h-1.5zM338.53 88.33h1.5v11.45h-1.5zM340.53 88.33h1.5v11.45h-1.5zM342.52 88.33h1.5v11.45h-1.5zM344.52 88.33h1.5v11.45h-1.5zM346.51 88.33h1.5v11.45h-1.5zM348.51 88.33h1.5v11.45h-1.5zM350.51 88.33h1.5v11.45h-1.5zM352.5 88.33h1.5v11.45h-1.5zM354.5 88.33h1.5v11.45h-1.5zM356.49 88.33h1.5v11.45h-1.5zM358.49 88.33h1.5v11.45h-1.5zM360.49 88.33h1.5v11.45h-1.5zM362.48 88.33h1.5v11.45h-1.5zM364.48 88.33h1.5v11.45h-1.5zM366.47 88.33h1.5v11.45h-1.5zM368.47 88.33h1.5v11.45h-1.5zM370.47 88.33h1.5v11.45h-1.5zM372.46 88.33h1.5v11.45h-1.5zM374.46 88.33h1.5v11.45h-1.5zM376.45 88.33h1.5v11.45h-1.5zM378.45 88.33h1.5v11.45h-1.5zM380.45 88.33h1.5v11.45h-1.5zM382.44 88.33h1.5v11.45h-1.5zM384.44 88.33h1.5v11.45h-1.5zM386.43 88.33h1.5v11.45h-1.5zM388.43 88.33h1.5v11.45h-1.5zM390.43 88.33h1.5v11.45h-1.5zM392.42 88.33h1.5v11.45h-1.5zM394.42 88.33h1.5v11.45h-1.5zM396.41 88.33h1.5v11.45h-1.5zM398.41 88.33h1.5v11.45h-1.5zM400.41 88.33h1.5v11.45h-1.5zM402.4 88.33h1.5v11.45h-1.5zM404.4 88.33h1.5v11.45h-1.5zM406.39 88.33h1.5v11.45h-1.5zM408.39 88.33h1.5v11.45h-1.5zM410.39 88.33h1.5v11.45h-1.5zM412.38 88.33h1.5v11.45h-1.5zM414.38 88.33h1.5v11.45h-1.5zM416.37 88.33h1.5v11.45h-1.5zM418.37 88.33h1.5v11.45h-1.5zM420.37 88.33h1.5v11.45h-1.5zM422.36 88.33h1.5v11.45h-1.5zM424.36 88.33h1.5v11.45h-1.5zM426.35 88.33h1.5v11.45h-1.5zM428.35 88.33h1.5v11.45h-1.5zM430.35 88.33h1.5v11.45h-1.5zM432.34 88.33h1.5v11.45h-1.5zM434.34 88.33h1.5v11.45h-1.5zM436.33 88.33h1.5v11.45h-1.5zM438.33 88.33h1.5v11.45h-1.5zM440.33 88.33h1.5v11.45h-1.5zM442.32 88.33h1.5v11.45h-1.5zM444.32 88.33h1.5v11.45h-1.5zM446.31 88.33h1.5v11.45h-1.5zM448.31 88.33h1.5v11.45h-1.5zM450.31 88.33h1.5v11.45h-1.5zM452.3 88.33h1.5v11.45h-1.5zM454.3 88.33h1.5v11.45h-1.5zM456.29 88.33h1.5v11.45h-1.5zM458.29 88.33h1.5v11.45h-1.5zM460.29 88.33h1.5v11.45h-1.5zM462.28 88.33h1.5v11.45h-1.5zM464.28 88.33h1.5v11.45h-1.5zM466.27 88.33h1.5v11.45h-1.5zM468.27 88.33h1.5v11.45h-1.5zM470.27 88.33h1.5v11.45h-1.5zM472.26 88.33h1.5v11.45h-1.5zM474.26 88.33h1.5v11.45h-1.5zM476.25 88.33h1.5v11.45h-1.5zM478.25 88.33h1.5v11.45h-1.5zM480.25 88.33h1.5v11.45h-1.5zM482.24 88.33h1.5v11.45h-1.5zM484.24 88.33h1.5v11.45h-1.5zM486.23 88.33h1.5v11.45h-1.5zM488.23 88.33h1.5v11.45h-1.5zM490.23 88.33h1.5v11.45h-1.5zM492.22 88.33h1.5v11.45h-1.5zM494.22 88.33h1.5v11.45h-1.5zM496.21 88.33h1.5v11.45h-1.5zM498.21 88.33h1.5v11.45h-1.5zM500.21 88.33h1.5v11.45h-1.5zM502.2 88.33h1.5v11.45h-1.5zM504.2 88.33h1.5v11.45h-1.5zM506.19 88.33h1.5v11.45h-1.5zM508.19 88.33h1.5v11.45h-1.5zM510.19 88.33h1.5v11.45h-1.5zM512.18 88.33h1.5v11.45h-1.5z"/>
<path fill="#f3f3f3" d="M126.7 100.75h77.5v11.45h-77.5zM206.15 100.75h69.5v11.45h-69.5zM278.65 100.75h235.03v11.45h-235.03z"/>
<path fill="#e8e8e8" d="M126.7 100.75h1.5v11.45h-1.5zM128.7 100.75h1.5v11.45h-1.5zM130.7 100.75h1.5v11.45h-1.5zM132.7 100.75h1.5v11.45h-1.5zM134.7 100.75h1.5v11.45h-1.5zM136.7 100.75h1.5v11.45h-1.5zM138.7 100.75h1.5v11.45h-1.5zM140.7 100.75h1.5v11.45h-1.5zM142.7 100.75h1.5v11.45h-1.5zM144.7 100.75h1.5v11.45h-1.5zM146.7 100.75h1.5v11.45h-1.5zM148.7 100.75h1.5v11.45h-1.5zM150.7 100.75h1.5v11.45h-1.5zM152.7 100.75h1.5v11.45h-1.5zM154.7 100.75h1.5v11.45h-1.5zM156.7 100.75h1.5v11.45h-1.5zM158.7 100.75h1.5v11.45h-1.5zM160.7 100.75h1.5v11.45h-1.5zM162.7 100.75h1.5v11.45h-1.5zM164.7 100.75h1.5v11.45h-1.5zM166.7 100.75h1.5v11.45h-1.5zM168.7 100.75h1.5v11.45h-1.5zM170.7 100.75h1.5v11.45h-1.5zM172.7 100.75h1.5v11.45h-1.5zM174.7 100.75h1.5v11.45h-1.5zM176.7 100.75h1.5v11.45h-1.5zM178.7 100.75h1.5v11.45h-1.5zM180.7 100.75h1.5v11.45h-1.5zM182.7 100.75h1.5v11.45h-1.5zM184.7 100.75h1.5v11.45h-1.5zM186.7 100.75h1.5v11.45h-1.5zM188.7 100.75h1.5v11.45h-1.5zM190.7 100.75h1.5v11.45h-1.5zM192.7 100.75h1.5v11.45h-1.5zM194.7 100.75h1.5v11.45h-1.5zM196.7 100.75h1.5v11.45h-1.5zM198.7 100.75h1.5v11.45h-1.5zM200.7 100.75h1.5v11.45h-1.5zM202.7 100.75h1.5v11.45h-1.5zM206.15 100.75h1.5v11.45h-1.5zM208.15 100.75h1.5v11.45h-1.5zM210.15 100.75h1.5v11.45h-1.5zM212.15 100.75h1.5v11.45h-1.5zM214.15 100.75h1.5v11.45h-1.5zM216.15 100.75h1.5v11.45h-1.5zM218.15 100.75h1.5v11.45h-1.5zM220.15 100.75h1.5v11.45h-1.5zM222.15 100.75h1.5v11.45h-1.5zM224.15 100.75h1.5v11.45h-1.5zM226.15 100.75h1.5v11.45h-1.5zM228.15 100.75h1.5v11.45h-1.5zM230.15 100.75h1.5v11.45h-1.5zM232.15 100.75h1.5v11.45h-1.5zM234.15 100.75h1.5v11.45h-1.5zM236.15 100.75h1.5v11.45h-1.5zM238.15 100.75h1.5v11.45h-1.5zM240.15 100.75h1.5v11.45h-1.5zM242.15 100.75h1.5v11.45h-1.5zM244.15 100.75h1.5v11.45h-1.5zM246.15 100.75h1.5v11.45h-1.5zM248.15 100.75h1.5v11.45h-1.5zM250.15 100.75h1.5v11.45h-1.5zM252.15 100.75h1.5v11.45h-1.5zM254.15 100.75h1.5v11.45h-1.5zM256.15 100.75h1.5v11.45h-1.5zM258.15 100.75h1.5v11.45h-1.5zM260.15 100.75h1.5v11.45h-1.5zM262.15 100.75h1.5v11.45h-1.5zM264.15 100.75h1.5v11.45h-1.5zM266.15 100.75h1.5v11.45h-1.5zM268.15 100.75h1.5v11.45h-1.5zM270.15 100.75h1.5v11.45h-1.5zM272.15 100.75h1.5v11.45h-1.5zM274.15 100.75h1.5v11.45h-1.5zM278.65 100.75h1.5v11.45h-1.5zM280.65 100.75h1.5v11.45h-1.5zM282.64 100.75h1.5v11.45h-1.5zM284.64 100.75h1.5v11.45h-1.5zM286.63 100.75h1.5v11.45h-1.5zM288.63 100.75h1.5v11.45h-1.5zM290.63 100.75h1.5v11.45h-1.5zM292.62 100.75h1.5v11.45h-1.5zM294.62 100.75h1.5v11.45h-1.5zM296.61 100.75h1.5v11.45h-1.5zM298.61 100.75h1.5v11.45h-1.5zM300.61 100.75h1.5v11.45h-1.5zM302.6 100.75h1.5v11.45h-1.5zM304.6 100.75h1.5v11.45h-1.5zM306.59 100.75h1.5v11.45h-1.5zM308.59 100.75h1.5v11.45h-1.5zM310.59 100.75h1.5v11.45h-1.5zM312.58 100.75h1.5v11.45h-1.5zM314.58 100.75h1.5v11.45h-1.5zM316.57 100.75h1.5v11.45h-1.5zM318.57 100.75h1.5v11.45h-1.5zM320.57 100.75h1.5v11.45h-1.5zM322.56 100.75h1.5v11.45h-1.5zM324.56 100.75h1.5v11.45h-1.5zM326.55 100.75h1.5v11.45h-1.5zM328.55 100.75h1.5v11.45h-1.5zM330.55 100.75h1.5v11.45h-1.5zM332.54 100.75h1.5v11.45h-1.5zM334.54 100.75h1.5v11.45h-1.5zM336.53 100.75h1.5v11.45h-1.5zM338.53 100.75h1.5v11.45h-1.5zM340.53 100.75h1.5v11.45h-1.5zM342.52 100.75h1.5v11.45h-1.5zM344.52 100.75h1.5v11.45h-1.5zM346.51 100.75h1.5v11.45h-1.5zM348.51 100.75h1.5v11.45h-1.5zM350.51 100.75h1.5v11.45h-1.5zM352.5 100.75h1.5v11.45h-1.5zM354.5 100.75h1.5v11.45h-1.5zM356.49 100.75h1.5v11.45h-1.5zM358.49 100.75h1.5v11.45h-1.5zM360.49 100.75h1.5v11.45h-1.5zM362.48 100.75h1.5v11.45h-1.5zM364.48 100.75h1.5v11.45h-1.5zM366.47 100.75h1.5v11.45h-1.5zM368.47 100.75h1.5v11.45h-1.5zM370.47 100.75h1.5v11.45h-1.5zM372.46 100.75h1.5v11.45h-1.5zM374.46 100.75h1.5v11.45h-1.5zM376.45 100.75h1.5v11.45h-1.5zM378.45 100.75h1.5v11.45h-1.5zM380.45 100.75h1.5v11.45h-1.5zM382.44 100.75h1.5v11.45h-1.5zM384.44 100.75h1.5v11.45h-1.5zM386.43 100.75h1.5v11.45h-1.5zM388.43 100.75h1.5v11.45h-1.5zM390.43 100.75h1.5v11.45h-1.5zM392.42 100.75h1.5v11.45h-1.5zM394.42 100.75h1.5v11.45h-1.5zM396.41 100.75h1.5v11.45h-1.5zM398.41 100.75h1.5v11.45h-1.5zM400.41 100.75h1.5v11.45h-1.5zM402.4 100.75h1.5v11.45h-1.5zM404.4 100.75h1.5v11.45h-1.5zM406.39 100.75h1.5v11.45h-1.5zM408.39 100.75h1.5v11.45h-1.5zM410.39 100.75h1.5v11.45h-1.5zM412.38 100.75h1.5v11.45h-1.5zM414.38 100.75h1.5v11.45h-1.5zM416.37 100.75h1.5v11.45h-1.5zM418.37 100.75h1.5v11.45h-1.5zM420.37 100.75h1.5v11.45h-1.5zM422.36 100.75h1.5v11.45h-1.5zM424.36 100.75h1.5v11.45h-1.5zM426.35 100.75h1.5v11.45h-1.5zM428.35 100.75h1.5v11.45h-1.5zM430.35 100.75h1.5v11.45h-1.5zM432.34 100.75h1.5v11.45h-1.5zM434.34 100.75h1.5v11.45h-1.5zM436.33 100.75h1.5v11.45h-1.5zM438.33 100.75h1.5v11.45h-1.5zM440.33 100.75h1.5v11.45h-1.5zM442.32 100.75h1.5v11.45h-1.5zM444.32 100.75h1.5v11.45h-1.5zM446.31 100.75h1.5v11.45h-1.5zM448.31 100.75h1.5v11.45h-1.5zM450.31 100.75h1.5v11.45h-1.5zM452.3 100.75h1.5v11.45h-1.5zM454.3 100.75h1.5v11.45h-1.5zM456.29 100.75h1.5v11.45h-1.5zM458.29 100.75h1.5v11.45h-1.5zM460.29 100.75h1.5v11.45h-1.5zM462.28 100.75h1.5v11.45h-1.5zM464.28 100.75h1.5v11.45h-1.5zM466.27 100.75h1.5v11.45h-1.5zM468.27 100.75h1.5v11.45h-1.5zM470.27 100.75h1.5v11.45h-1.5zM472.26 100.75h1.5v11.45h-1.5zM474.26 100.75h1.5v11.45h-1.5zM476.25 100.75h1.5v11.45h-1.5zM478.25 100.75h1.5v11.45h-1.5zM480.25 100.75h1.5v11.45h-1.5zM482.24 100.75h1.5v11.45h-1.5zM484.24 100.75h1.5v11.45h-1.5zM486.23 100.75h1.5v11.45h-1.5zM488.23 100.75h1.5v11.45h-1.5zM490.23 100.75h1.5v11.45h-1.5zM492.22 100.75h1.5v11.45h-1.5zM494.22 100.75h1.5v11.45h-1.5zM496.21 100.75h1.5v11.45h-1.5zM498.21 100.75h1.5v11.45h-1.5zM500.21 100.75h1.5v11.45h-1.5zM502.2 100.75h1.5v11.45h-1.5zM504.2 100.75h1.5v11.45h-1.5zM506.19 100.75h1.5v11.45h-1.5zM508.19 100.75h1.5v11.45h-1.5zM510.19 100.75h1.5v11.45h-1.5zM512.18 100.75h1.5v11.45h-1.5z"/>
<path fill="#f3f3f3" d="M126.7 113.17h77.5v11.45h-77.5zM206.15 113.17h69.5v11.45h-69.5zM278.65 113.17h235.03v11.45h-235.03z"/>
<path fill="#e8e8e8" d="M126.7 113.17h1.5v11.45h-1.5zM128.7 113.17h1.5v11.45h-1.5zM130.7 113.17h1.5v11.45h-1.5zM132.7 113.17h1.5v11.45h-1.5zM134.7 113.17h1.5v11.45h-1.5zM136.7 113.17h1.5v11.45h-1.5zM138.7 113.17h1.5v11.45h-1.5zM140.7 113.17h1.5v11.45h-1.5zM142.7 113.17h1.5v11.45h-1.5zM144.7 113.17h1.5v11.45h-1.5zM146.7 113.17h1.5v11.45h-1.5zM148.7 113.17h1.5v11.45h-1.5zM150.7 113.17h1.5v11.45h-1.5zM152.7 113.17h1.5v11.45h-1.5zM154.7 113.17h1.5v11.45h-1.5zM156.7 113.17h1.5v11.45h-1.5zM158.7 113.17h1.5v11.45h-1.5zM160.7 113.17h1.5v11.45h-1.5zM162.7 113.17h1.5v11.45h-1.5zM164.7 113.17h1.5v11.45h-1.5zM166.7 113.17h1.5v11.45h-1.5zM168.7 113.17h1.5v11.45h-1.5zM170.7 113.17h1.5v11.45h-1.5zM172.7 113.17h1.5v11.45h-1.5zM174.7 113.17h1.5v11.45h-1.5zM176.7 113.17h1.5v11.45h-1.5zM178.7 113.17h1.5v11.45h-1.5zM180.7 113.17h1.5v11.45h-1.5zM182.7 113.17h1.5v11.45h-1.5zM184.7 113.17h1.5v11.45h-1.5zM186.7 113.17h1.5v11.45h-1.5zM188.7 113.17h1.5v11.45h-1.5zM190.7 113.17h1.5v11.45h-1.5zM192.7 113.17h1.5v11.45h-1.5zM194.7 113.17h1.5v11.45h-1.5zM196.7 113.17h1.5v11.45h-1.5zM198.7 113.17h1.5v11.45h-1.5zM200.7 113.17h1.5v11.45h-1.5zM202.7 113.17h1.5v11.45h-1.5zM206.15 113.17h1.5v11.45h-1.5zM208.15 113.17h1.5v11.45h-1.5zM210.15 113.17h1.5v11.45h-1.5zM212.15 113.17h1.5v11.45h-1.5zM214.15 113.17h1.5v11.45h-1.5zM216.15 113.17h1.5v11.45h-1.5zM218.15 113.17h1.5v11.45h-1.5zM220.15 113.17h1.5v11.45h-1.5zM222.15 113.17h1.5v11.45h-1.5zM224.15 113.17h1.5v11.45h-1.5zM226.15 113.17h1.5v11.45h-1.5zM228.15 113.17h1.5v11.45h-1.5zM230.15 113.17h1.5v11.45h-1.5zM232.15 113.17h1.5v11.45h-1.5zM234.15 113.17h1.5v11.45h-1.5zM236.15 113.17h1.5v11.45h-1.5zM238.15 113.17h1.5v11.45h-1.5zM240.15 113.17h1.5v11.45h-1.5zM242.15 113.17h1.5v11.45h-1.5zM244.15 113.17h1.5v11.45h-1.5zM246.15 113.17h1.5v11.45h-1.5zM248.15 113.17h1.5v11.45h-1.5zM250.15 113.17h1.5v11.45h-1.5zM252.15 113.17h1.5v11.45h-1.5zM254.15 113.17h1.5v11.45h-1.5zM256.15 113.17h1.5v11.45h-1.5zM258.15 113.17h1.5v11.45h-1.5zM260.15 113.17h1.5v11.45h-1.5zM262.15 113.17h1.5v11.45h-1.5zM264.15 113.17h1.5v11.45h-1.5zM266.15 113.17h1.5v11.45h-1.5zM268.15 113.17h1.5v11.45h-1.5zM270.15 113.17h1.5v11.45h-1.5zM272.15 113.17h1.5v11.45h-1.5zM274.15 113.17h1.5v11.45h-1.5zM278.65 113.17h1.5v11.45h-1.5zM280.65 113.17h1.5v11.45h-1.5zM282.64 113.17h1.5v11.45h-1.5zM284.64 113.17h1.5v11.45h-1.5zM286.63 113.17h1.5v11.45h-1.5zM288.63 113.17h1.5v11.45h-1.5zM290.63 113.17h1.5v11.45h-1.5zM292.62 113.17h1.5v11.45h-1.5zM294.62 113.17h1.5v11.45h-1.5zM296.61 113.17h1.5v11.45h-1.5zM298.61 113.17h1.5v11.45h-1.5zM300.61 113.17h1.5v11.45h-1.5zM302.6 113.17h1.5v11.45h-1.5zM304.6 113.17h1.5v11.45h-1.5zM306.59 113.17h1.5v11.45h-1.5zM308.59 113.17h1.5v11.45h-1.5zM310.59 113.17h1.5v11.45h-1.5zM312.58 113.17h1.5v11.45h-1.5zM314.58 113.17h1.5v11.45h-1.5zM316.57 113.17h1.5v11.45h-1.5zM318.57 113.17h1.5v11.45h-1.5zM320.57 113.17h1.5v11.45h-1.5zM322.56 113.17h1.5v11.45h-1.5zM324.56 113.17h1.5v11.45h-1.5zM326.55 113.17h1.5v11.45h-1.5zM328.55 113.17h1.5v11.45h-1.5zM330.55 113.17h1.5v11.45h-1.5zM332.54 113.17h1.5v11.45h-1.5zM334.54 113.17h1.5v11.45h-1.5zM336.53 113.17h1.5v11.45h-1.5zM338.53 113.17h1.5v11.45h-1.5zM340.53 113.17h1.5v11.45h-1.5zM342.52 113.17h1.5v11.45h-1.5zM344.52 113.17h1.5v11.45h-1.5zM346.51 113.17h1.5v11.45h-1.5zM348.51 113.17h1.5v11.45h-1.5zM350.51 113.17h1.5v11.45h-1.5zM352.5 113.17h1.5v11.45h-1.5zM354.5 113.17h1.5v11.45h-1.5zM356.49 113.17h1.5v11.45h-1.5zM358.49 113.17h1.5v11.45h-1.5zM360.49 113.17h1.5v11.45h-1.5zM362.48 113.17h1.5v11.45h-1.5zM364.48 113.17h1.5v11.45h-1.5zM366.47 113.17h1.5v11.45h-1.5zM368.47 113.17h1.5v11.45h-1.5zM370.47 113.17h1.5v11.45h-1.5zM372.46 113.17h1.5v11.45h-1.5zM374.46 113.17h1.5v11.45h-1.5zM376.45 113.17h1.5v11.45h-1.5zM378.45 113.17h1.5v11.45h-1.5zM380.45 113.17h1.5v11.45h-1.5zM382.44 113.17h1.5v11.45h-1.5zM384.44 113.17h1.5v11.45h-1.5zM386.43 113.17h1.5v11.45h-1.5zM388.43 113.17h1.5v11.45h-1.5zM390.43 113.17h1.5v11.45h-1.5zM392.42 113.17h1.5v11.45h-1.5zM394.42 113.17h1.5v11.45h-1.5zM396.41 113.17h1.5v11.45h-1.5zM398.41 113.17h1.5v11.45h-1.5zM400.41 113.17h1.5v11.45h-1.5zM402.4 113.17h1.5v11.45h-1.5zM404.4 113.17h1.5v11.45h-1.5zM406.39 113.17h1.5v11.45h-1.5zM408.39 113.17h1.5v11.45h-1.5zM410.39 113.17h1.5v11.45h-1.5zM412.38 113.17h1.5v11.45h-1.5zM414.38 113.17h1.5v11.45h-1.5zM416.37 113.17h1.5v11.45h-1.5zM418.37 113.17h1.5v11.45h-1.5zM420.37 113.17h1.5v11.45h-1.5zM422.36 113.17h1.5v11.45h-1.5zM424.36 113.17h1.5v11.45h-1.5zM426.35 113.17h1.5v11.45h-1.5zM428.35 113.17h1.5v11.45h-1.5zM430.35 113.17h1.5v11.45h-1.5zM432.34 113.17h1.5v11.45h-1.5zM434.34 113.17h1.5v11.45h-1.5zM436.33 113.17h1.5v11.45h-1.5zM438.33 113.17h1.5v11.45h-1.5zM440.33 113.17h1.5v11.45h-1.5zM442.32 113.17h1.5v11.45h-1.5zM444.32 113.17h1.5v11.45h-1.5zM446.31 113.17h1.5v11.45h-1.5zM448.31 113.17h1.5v11.45h-1.5zM450.31 113.17h1.5v11.45h-1.5zM452.3 113.17h1.5v11.45h-1.5zM454.3 113.17h1.5v11.45h-1.5zM456.29 113.17h1.5v11.45h-1.5zM458.29 113.17h1.5v11.45h-1.5zM460.29 113.17h1.5v11.45h-1.5zM462.28 113.17h1.5v11.45h-1.5zM464.28 113.17h1.5v11.45h-1.5zM466.27 113.17h1.5v11.45h-1.5zM468.27 113.17h1.5v11.45h-1.5zM470.27 113.17h1.5v11.45h-1.5zM472.26 113.17h1.5v11.45h-1.5zM474.26 113.17h1.5v11.45h-1.5zM476.25 113.17h1.5v11.45h-1.5zM478.25 113.17h1.5v11.45h-1.5zM480.25 113.17h1.5v11.45h-1.5zM482.24 113.17h1.5v11.45h-1.5zM484.24 113.17h1.5v11.45h-1.5zM486.23 113.17h1.5v11.45h-1.5zM488.23 113.17h1.5v11.45h-1.5zM490.23 113.17h1.5v11.45h-1.5zM492.22 113.17h1.5v11.45h-1.5zM494.22 113.17h1.5v11.45h-1.5zM496.21 113.17h1.5v11.45h-1.5zM498.21 113.17h1.5v11.45h-1.5zM500.21 113.17h1.5v11.45h-1.5zM502.2 113.17h1.5v11.45h-1.5zM504.2 113.17h1.5v11.45h-1.5zM506.19 113.17h1.5v11.45h-1.5zM508.19 113.17h1.5v11.45h-1.5zM510.19 113.17h1.5v11.45h-1.5zM512.18 113.17h1.5v11.45h-1.5z"/>
<path fill="#f3f3f3" d="M126.7 125.59h77.5v11.45h-77.5zM206.15 125.59h69.5v11.45h-69.5zM278.65 125.59h235.03v11.45h-235.03z"/>
<path fill="#e8e8e8" d="M126.7 125.59h1.5v11.45h-1.5zM128.7 125.59h1.5v11.45h-1.5zM130.7 125.59h1.5v11.45h-1.5zM132.7 125.59h1.5v11.45h-1.5zM134.7 125.59h1.5v11.45h-1.5zM136.7 125.59h1.5v11.45h-1.5zM138.7 125.59h1.5v11.45h-1.5zM140.7 125.59h1.5v11.45h-1.5zM142.7 125.59h1.5v11.45h-1.5zM144.7 125.59h1.5v11.45h-1.5zM146.7 125.59h1.5v11.45h-1.5zM148.7 125.59h1.5v11.45h-1.5zM150.7 125.59h1.5v11.45h-1.5zM152.7 125.59h1.5v11.45h-1.5zM154.7 125.59h1.5v11.45h-1.5zM156.7 125.59h1.5v11.45h-1.5zM158.7 125.59h1.5v11.45h-1.5zM160.7 125.59h1.5v11.45h-1.5zM162.7 125.59h1.5v11.45h-1.5zM164.7 125.59h1.5v11.45h-1.5zM166.7 125.59h1.5v11.45h-1.5zM168.7 125.59h1.5v11.45h-1.5zM170.7 125.59h1.5v11.45h-1.5zM172.7 125.59h1.5v11.45h-1.5zM174.7 125.59h1.5v11.45h-1.5zM176.7 125.59h1.5v11.45h-1.5zM178.7 125.59h1.5v11.45h-1.5zM180.7 125.59h1.5v11.45h-1.5zM182.7 125.59h1.5v11.45h-1.5zM184.7 125.59h1.5v11.45h-1.5zM186.7 125.59h1.5v11.45h-1.5zM188.7 125.59h1.5v11.45h-1.5zM190.7 125.59h1.5v11.45h-1.5zM192.7 125.59h1.5v11.45h-1.5zM194.7 125.59h1.5v11.45h-1.5zM196.7 125.59h1.5v11.45h-1.5zM198.7 125.59h1.5v11.45h-1.5zM200.7 125.59h1.5v11.45h-1.5zM202.7 125.59h1.5v11.45h-1.5zM206.15 125.59h1.5v11.45h-1.5zM208.15 125.59h1.5v11.45h-1.5zM210.15 125.59h1.5v11.45h-1.5zM212.15 125.59h1.5v11.45h-1.5zM214.15 125.59h1.5v11.45h-1.5zM216.15 125.59h1.5v11.45h-1.5zM218.15 125.59h1.5v11.45h-1.5zM220.15 125.59h1.5v11.45h-1.5zM222.15 125.59h1.5v11.45h-1.5zM224.15 125.59h1.5v11.45h-1.5zM226.15 125.59h1.5v11.45h-1.5zM228.15 125.59h1.5v11.45h-1.5zM230.15 125.59h1.5v11.45h-1.5zM232.15 125.59h1.5v11.45h-1.5zM234.15 125.59h1.5v11.45h-1.5zM236.15 125.59h1.5v11.45h-1.5zM238.15 125.59h1.5v11.45h-1.5zM240.15 125.59h1.5v11.45h-1.5zM242.15 125.59h1.5v11.45h-1.5zM244.15 125.59h1.5v11.45h-1.5zM246.15 125.59h1.5v11.45h-1.5zM248.15 125.59h1.5v11.45h-1.5zM250.15 125.59h1.5v11.45h-1.5zM252.15 125.59h1.5v11.45h-1.5zM254.15 125.59h1.5v11.45h-1.5zM256.15 125.59h1.5v11.45h-1.5zM258.15 125.59h1.5v11.45h-1.5zM260.15 125.59h1.5v11.45h-1.5zM262.15 125.59h1.5v11.45h-1.5zM264.15 125.59h1.5v11.45h-1.5zM266.15 125.59h1.5v11.45h-1.5zM268.15 125.59h1.5v11.45h-1.5zM270.15 125.59h1.5v11.45h-1.5zM272.15 125.59h1.5v11.45h-1.5zM274.15 125.59h1.5v11.45h-1.5zM278.65 125.59h1.5v11.45h-1.5zM280.65 125.59h1.5v11.45h-1.5zM282.64 125.59h1.5v11.45h-1.5zM284.64 125.59h1.5v11.45h-1.5zM286.63 125.59h1.5v11.45h-1.5zM288.63 125.59h1.5v11.45h-1.5zM290.63 125.59h1.5v11.45h-1.5zM292.62 125.59h1.5v11.45h-1.5zM294.62 125.59h1.5v11.45h-1.5zM296.61 125.59h1.5v11.45h-1.5zM298.61 125.59h1.5v11.45h-1.5zM300.61 125.59h1.5v11.45h-1.5zM302.6 125.59h1.5v11.45h-1.5zM304.6 125.59h1.5v11.45h-1.5zM306.59 125.59h1.5v11.45h-1.5zM308.59 125.59h1.5v11.45h-1.5zM310.59 125.59h1.5v11.45h-1.5zM312.58 125.59h1.5v11.45h-1.5zM314.58 125.59h1.5v11.45h-1.5zM316.57 125.59h1.5v11.45h-1.5zM318.57 125.59h1.5v11.45h-1.5zM320.57 125.59h1.5v11.45h-1.5zM322.56 125.59h1.5v11.45h-1.5zM324.56 125.59h1.5v11.45h-1.5zM326.55 125.59h1.5v11.45h-1.5zM328.55 125.59h1.5v11.45h-1.5zM330.55 125.59h1.5v11.45h-1.5zM332.54 125.59h1.5v11.45h-1.5zM334.54 125.59h1.5v11.45h-1.5zM336.53 125.59h1.5v11.45h-1.5zM338.53 125.59h1.5v11.45h-1.5zM340.53 125.59h1.5v11.45h-1.5zM342.52 125.59h1.5v11.45h-1.5zM344.52 125.59h1.5v11.45h-1.5zM346.51 125.59h1.5v11.45h-1.5zM348.51 125.59h1.5v11.45h-1.5zM350.51 125.59h1.5v11.45h-1.5zM352.5 125.59h1.5v11.45h-1.5zM354.5 125.59h1.5v11.45h-1.5zM356.49 125.59h1.5v11.45h-1.5zM358.49 125.59h1.5v11.45h-1.5zM360.49 125.59h1.5v11.45h-1.5zM362.48 125.59h1.5v11.45h-1.5zM364.48 125.59h1.5v11.45h-1.5zM366.47 125.59h1.5v11.45h-1.5zM368.47 125.59h1.5v11.45h-1.5zM370.47 125.59h1.5v11.45h-1.5zM372.46 125.59h1.5v11.45h-1.5zM374.46 125.59h1.5v11.45h-1.5zM376.45 125.59h1.5v11.45h-1.5zM378.45 125.59h1.5v11.45h-1.5zM380.45 125.59h1.5v11.45h-1.5zM382.44 125.59h1.5v11.45h-1.5zM384.44 125.59h1.5v11.45h-1.5zM386.43 125.59h1.5v11.45h-1.5zM388.43 125.59h1.5v11.45h-1.5zM390.43 125.59h1.5v11.45h-1.5zM392.42 125.59h1.5v11.45h-1.5zM394.42 125.59h1.5v11.45h-1.5zM396.41 125.59h1.5v11.45h-1.5zM398.41 125.59h1.5v11.45h-1.5zM400.41 125.59h1.5v11.45h-1.5zM402.4 125.59h1.5v11.45h-1.5zM404.4 125.59h1.5v11.45h-1.5zM406.39 125.59h1.5v11.45h-1.5zM408.39 125.59h1.5v11.45h-1.5zM410.39 125.59h1.5v11.45h-1.5zM412.38 125.59h1.5v11.45h-1.5zM414.38 125.59h1.5v11.45h-1.5zM416.37 125.59h1.5v11.45h-1.5zM418.37 125.59h1.5v11.45h-1.5zM420.37 125.59h1.5v11.45h-1.5zM422.36 125.59h1.5v11.45h-1.5zM424.36 125.59h1.5v11.45h-1.5zM426.35 125.59h1.5v11.45h-1.5zM428.35 125.59h1.5v11.45h-1.5zM430.35 125.59h1.5v11.45h-1.5zM432.34 125.59h1.5v11.45h-1.5zM434.34 125.59h1.5v11.45h-1.5zM436.33 125.59h1.5v11.45h-1.5zM438.33 125.59h1.5v11.45h-1.5zM440.33 125.59h1.5v11.45h-1.5zM442.32 125.59h1.5v11.45h-1.5zM444.32 125.59h1.5v11.45h-1.5zM446.31 125.59h1.5v11.45h-1.5zM448.31 125.59h1.5v11.45h-1.5zM450.31 125.59h1.5v11.45h-1.5zM452.3 125.59h1.5v11.45h-1.5zM454.3 125.59h1.5v11.45h-1.5zM456.29 125.59h1.5v11.45h-1.5zM458.29 125.59h1.5v11.45h-1.5zM460.29 125.59h1.5v11.45h-1.5zM462.28 125.59h1.5v11.45h-1.5zM464.28 125.59h1.5v11.45h-1.5zM466.27 125.59h1.5v11.45h-1.5zM468.27 125.59h1.5v11.45h-1.5zM470.27 125.59h1.5v11.45h-1.5zM472.26 125.59h1.5v11.45h-1.5zM474.26 125.59h1.5v11.45h-1.5zM476.25 125.59h1.5v11.45h-1.5zM478.25 125.59h1.5v11.45h-1.5zM480.25 125.59h1.5v11.45h-1.5zM482.24 125.59h1.5v11.45h-1.5zM484.24 125.59h1.5v11.45h-1.5zM486.23 125.59h1.5v11.45h-1.5zM488.23 125.59h1.5v11.45h-1.5zM490.23 125.59h1.5v11.45h-1.5zM492.22 125.59h1.5v11.45h-1.5zM494.22 125.59h1.5v11.45h-1.5zM496.21 125.59h1.5v11.45h-1.5zM498.21 125.59h1.5v11.45h-1.5zM500.21 125.59h1.5v11.45h-1.5zM502.2 125.59h1.5v11.45h-1.5zM504.2 125.59h1.5v11.45h-1.5zM506.19 125.59h1.5v11.45h-1.5zM508.19 125.59h1.5v11.45h-1.5zM510.19 125.59h1.5v11.45h-1.5zM512.18 125.59h1.5v11.45h-1.5z"/>
<path fill="#f9f9f9" d="M126.7 138.31h77.5v11.45h-77.5zM206.15 138.31h69.5v11.45h-69.5zM278.65 138.31h235.03v11.45h-235.03z"/>
<path fill="#f1f1f1" d="M126.7 138.31h1.5v11.45h-1.5zM128.7 138.31h1.5v11.45h-1.5zM130.7 138.31h1.5v11.45h-1.5zM132.7 138.31h1.5v11.45h-1.5zM134.7 138.31h1.5v11.45h-1.5zM136.7 138.31h1.5v11.45h-1.5zM138.7 138.31h1.5v11.45h-1.5zM140.7 138.31h1.5v11.45h-1.5zM142.7 138.31h1.5v11.45h-1.5zM144.7 138.31h1.5v11.45h-1.5zM146.7 138.31h1.5v11.45h-1.5zM148.7 138.31h1.5v11.45h-1.5zM150.7 138.31h1.5v11.45h-1.5zM152.7 138.31h1.5v11.45h-1.5zM154.7 138.31h1.5v11.45h-1.5zM156.7 138.31h1.5v11.45h-1.5zM158.7 138.31h1.5v11.45h-1.5zM160.7 138.31h1.5v11.45h-1.5zM162.7 138.31h1.5v11.45h-1.5zM164.7 138.31h1.5v11.45h-1.5zM166.7 138.31h1.5v11.45h-1.5zM168.7 138.31h1.5v11.45h-1.5zM170.7 138.31h1.5v11.45h-1.5zM172.7 138.31h1.5v11.45h-1.5zM174.7 138.31h1.5v11.45h-1.5zM176.7 138.31h1.5v11.45h-1.5zM178.7 138.31h1.5v11.45h-1.5zM180.7 138.31h1.5v11.45h-1.5zM182.7 138.31h1.5v11.45h-1.5zM184.7 138.31h1.5v11.45h-1.5zM186.7 138.31h1.5v11.45h-1.5zM188.7 138.31h1.5v11.45h-1.5zM190.7 138.31h1.5v11.45h-1.5zM192.7 138.31h1.5v11.45h-1.5zM194.7 138.31h1.5v11.45h-1.5zM196.7 138.31h1.5v11.45h-1.5zM198.7 138.31h1.5v11.45h-1.5zM200.7 138.31h1.5v11.45h-1.5zM202.7 138.31h1.5v11.45h-1.5zM206.15 138.31h1.5v11.45h-1.5zM208.15 138.31h1.5v11.45h-1.5zM210.15 138.31h1.5v11.45h-1.5zM212.15 138.31h1.5v11.45h-1.5zM214.15 138.31h1.5v11.45h-1.5zM216.15 138.31h1.5v11.45h-1.5zM218.15 138.31h1.5v11.45h-1.5zM220.15 138.31h1.5v11.45h-1.5zM222.15 138.31h1.5v11.45h-1.5zM224.15 138.31h1.5v11.45h-1.5zM226.15 138.31h1.5v11.45h-1.5zM228.15 138.31h1.5v11.45h-1.5zM230.15 138.31h1.5v11.45h-1.5zM232.15 138.31h1.5v11.45h-1.5zM234.15 138.31h1.5v11.45h-1.5zM236.15 138.31h1.5v11.45h-1.5zM238.15 138.31h1.5v11.45h-1.5zM240.15 138.31h1.5v11.45h-1.5zM242.15 138.31h1.5v11.45h-1.5zM244.15 138.31h1.5v11.45h-1.5zM246.15 138.31h1.5v11.45h-1.5zM248.15 138.31h1.5v11.45h-1.5zM250.15 138.31h1.5v11.45h-1.5zM252.15 138.31h1.5v11.45h-1.5zM254.15 138.31h1.5v11.45h-1.5zM256.15 138.31h1.5v11.45h-1.5zM258.15 138.31h1.5v11.45h-1.5zM260.15 138.31h1.5v11.45h-1.5zM262.15 138.31h1.5v11.45h-1.5zM264.15 138.31h1.5v11.45h-1.5zM266.15 138.31h1.5v11.45h-1.5zM268.15 138.31h1.5v11.45h-1.5zM270.15 138.31h1.5v11.45h-1.5zM272.15 138.31h1.5v11.45h-1.5zM274.15 138.31h1.5v11.45h-1.5zM278.65 138.31h1.5v11.45h-1.5zM280.65 138.31h1.5v11.45h-1.5zM282.64 138.31h1.5v11.45h-1.5zM284.64 138.31h1.5v11.45h-1.5zM286.63 138.31h1.5v11.45h-1.5zM288.63 138.31h1.5v11.45h-1.5zM290.63 138.31h1.5v11.45h-1.5zM292.62 138.31h1.5v11.45h-1.5zM294.62 138.31h1.5v11.45h-1.5zM296.61 138.31h1.5v11.45h-1.5zM298.61 138.31h1.5v11.45h-1.5zM300.61 138.31h1.5v11.45h-1.5zM302.6 138.31h1.5v11.45h-1.5zM304.6 138.31h1.5v11.45h-1.5zM306.59 138.31h1.5v11.45h-1.5zM308.59 138.31h1.5v11.45h-1.5zM310.59 138.31h1.5v11.45h-1.5zM312.58 138.31h1.5v11.45h-1.5zM314.58 138.31h1.5v11.45h-1.5zM316.57 138.31h1.5v11.45h-1.5zM318.57 138.31h1.5v11.45h-1.5zM320.57 138.31h1.5v11.45h-1.5zM322.56 138.31h1.5v11.45h-1.5zM324.56 138.31h1.5v11.45h-1.5zM326.55 138.31h1.5v11.45h-1.5zM328.55 138.31h1.5v11.45h-1.5zM330.55 138.31h1.5v11.45h-1.5zM332.54 138.31h1.5v11.45h-1.5zM334.54 138.31h1.5v11.45h-1.5zM336.53 138.31h1.5v11.45h-1.5zM338.53 138.31h1.5v11.45h-1.5zM340.53 138.31h1.5v11.45h-1.5zM342.52 138.31h1.5v11.45h-1.5zM344.52 138.31h1.5v11.45h-1.5zM346.51 138.31h1.5v11.45h-1.5zM348.51 138.31h1.5v11.45h-1.5zM350.51 138.31h1.5v11.45h-1.5zM352.5 138.31h1.5v11.45h-1.5zM354.5 138.31h1.5v11.45h-1.5zM356.49 138.31h1.5v11.45h-1.5zM358.49 138.31h1.5v11.45h-1.5zM360.49 138.31h1.5v11.45h-1.5zM362.48 138.31h1.5v11.45h-1.5zM364.48 138.31h1.5v11.45h-1.5zM366.47 138.31h1.5v11.45h-1.5zM368.47 138.31h1.5v11.45h-1.5zM370.47 138.31h1.5v11.45h-1.5zM372.46 138.31h1.5v11.45h-1.5zM374.46 138.31h1.5v11.45h-1.5zM376.45 138.31h1.5v11.45h-1.5zM378.45 138.31h1.5v11.45h-1.5zM380.45 138.31h1.5v11.45h-1.5zM382.44 138.31h1.5v11.45h-1.5zM384.44 138.31h1.5v11.45h-1.5zM386.43 138.31h1.5v11.45h-1.5zM388.43 138.31h1.5v11.45h-1.5zM390.43 138.31h1.5v11.45h-1.5zM392.42 138.31h1.5v11.45h-1.5zM394.42 138.31h1.5v11.45h-1.5zM396.41 138.31h1.5v11.45h-1.5zM398.41 138.31h1.5v11.45h-1.5zM400.41 138.31h1.5v11.45h-1.5zM402.4 138.31h1.5v11.45h-1.5zM404.4 138.31h1.5v11.45h-1.5zM406.39 138.31h1.5v11.45h-1.5zM408.39 138.31h1.5v11.45h-1.5zM410.39 138.31h1.5v11.45h-1.5zM412.38 138.31h1.5v11.45h-1.5zM414.38 138.31h1.5v11.45h-1.5zM416.37 138.31h1.5v11.45h-1.5zM418.37 138.31h1.5v11.45h-1.5zM420.37 138.31h1.5v11.45h-1.5zM422.36 138.31h1.5v11.45h-1.5zM424.36 138.31h1.5v11.45h-1.5zM426.35 138.31h1.5v11.45h-1.5zM428.35 138.31h1.5v11.45h-1.5zM430.35 138.31h1.5v11.45h-1.5zM432.34 138.31h1.5v11.45h-1.5zM434.34 138.31h1.5v11.45h-1.5zM436.33 138.31h1.5v11.45h-1.5zM438.33 138.31h1.5v11.45h-1.5zM440.33 138.31h1.5v11.45h-1.5zM442.32 138.31h1.5v11.45h-1.5zM444.32 138.31h1.5v11.45h-1.5zM446.31 138.31h1.5v11.45h-1.5zM448.31 138.31h1.5v11.45h-1.5zM450.31 138.31h1.5v11.45h-1.5zM452.3 138.31h1.5v11.45h-1.5zM454.3 138.31h1.5v11.45h-1.5zM456.29 138.31h1.5v11.45h-1.5zM458.29 138.31h1.5v11.45h-1.5zM460.29 138.31h1.5v11.45h-1.5zM462.28 138.31h1.5v11.45h-1.5zM464.28 138.31h1.5v11.45h-1.5zM466.27 138.31h1.5v11.45h-1.5zM468.27 138.31h1.5v11.45h-1.5zM470.27 138.31h1.5v11.45h-1.5zM472.26 138.31h1.5v11.45h-1.5zM474.26 138.31h1.5v11.45h-1.5zM476.25 138.31h1.5v11.45h-1.5zM478.25 138.31h1.5v11.45h-1.5zM480.25 138.31h1.5v11.45h-1.5zM482.24 138.31h1.5v11.45h-1.5zM484.24 138.31h1.5v11.45h-1.5zM486.23 138.31h1.5v11.45h-1.5zM488.23 138.31h1.5v11.45h-1.5zM490.23 138.31h1.5v11.45h-1.5zM492.22 138.31h1.5v11.45h-1.5zM494.22 138.31h1.5v11.45h-1.5zM496.21 138.31h1.5v11.45h-1.5zM498.21 138.31h1.5v11.45h-1.5zM500.21 138.31h1.5v11.45h-1.5zM502.2 138.31h1.5v11.45h-1.5zM504.2 138.31h1.5v11.45h-1.5zM506.19 138.31h1.5v11.45h-1.5zM508.19 138.31h1.5v11.45h-1.5zM510.19 138.31h1.5v11.45h-1.5zM512.18 138.31h1.5v11.45h-1.5z"/>
<path fill="#f9f9f9" d="M126.7 150.73h77.5v11.45h-77.5zM206.15 150.73h69.5v11.45h-69.5zM278.65 150.73h235.03v11.45h-235.03z"/>
<path fill="#f1f1f1" d="M126.7 150.73h1.5v11.45h-1.5zM128.7 150.73h1.5v11.45h-1.5zM130.7 150.73h1.5v11.45h-1.5zM132.7 150.73h1.5v11.45h-1.5zM134.7 150.73h1.5v11.45h-1.5zM136.7 150.73h1.5v11.45h-1.5zM138.7 150.73h1.5v11.45h-1.5zM140.7 150.73h1.5v11.45h-1.5zM142.7 150.73h1.5v11.45h-1.5zM144.7 150.73h1.5v11.45h-1.5zM146.7 150.73h1.5v11.45h-1.5zM148.7 150.73h1.5v11.45h-1.5zM150.7 150.73h1.5v11.45h-1.5zM152.7 150.73h1.5v11.45h-1.5zM154.7 150.73h1.5v11.45h-1.5zM156.7 150.73h1.5v11.45h-1.5zM158.7 150.73h1.5v11.45h-1.5zM160.7 150.73h1.5v11.45h-1.5zM162.7 150.73h1.5v11.45h-1.5zM164.7 150.73h1.5v11.45h-1.5zM166.7 150.73h1.5v11.45h-1.5zM168.7 150.73h1.5v11.45h-1.5zM170.7 150.73h1.5v11.45h-1.5zM172.7 150.73h1.5v11.45h-1.5zM174.7 150.73h1.5v11.45h-1.5zM176.7 150.73h1.5v11.45h-1.5zM178.7 150.73h1.5v11.45h-1.5zM180.7 150.73h1.5v11.45h-1.5zM182.7 150.73h1.5v11.45h-1.5zM184.7 150.73h1.5v11.45h-1.5zM186.7 150.73h1.5v11.45h-1.5zM188.7 150.73h1.5v11.45h-1.5zM190.7 150.73h1.5v11.45h-1.5zM192.7 150.73h1.5v11.45h-1.5zM194.7 150.73h1.5v11.45h-1.5zM196.7 150.73h1.5v11.45h-1.5zM198.7 150.73h1.5v11.45h-1.5zM200.7 150.73h1.5v11.45h-1.5zM202.7 150.73h1.5v11.45h-1.5zM206.15 150.73h1.5v11.45h-1.5zM208.15 150.73h1.5v11.45h-1.5zM210.15 150.73h1.5v11.45h-1.5zM212.15 150.73h1.5v11.45h-1.5zM214.15 150.73h1.5v11.45h-1.5zM216.15 150.73h1.5v11.45h-1.5zM218.15 150.73h1.5v11.45h-1.5zM220.15 150.73h1.5v11.45h-1.5zM222.15 150.73h1.5v11.45h-1.5zM224.15 150.73h1.5v11.45h-1.5zM226.15 150.73h1.5v11.45h-1.5zM228.15 150.73h1.5v11.45h-1.5zM230.15 150.73h1.5v11.45h-1.5zM232.15 150.73h1.5v11.45h-1.5zM234.15 150.73h1.5v11.45h-1.5zM236.15 150.73h1.5v11.45h-1.5zM238.15 150.73h1.5v11.45h-1.5zM240.15 150.73h1.5v11.45h-1.5zM242.15 150.73h1.5v11.45h-1.5zM244.15 150.73h1.5v11.45h-1.5zM246.15 150.73h1.5v11.45h-1.5zM248.15 150.73h1.5v11.45h-1.5zM250.15 150.73h1.5v11.45h-1.5zM252.15 150.73h1.5v11.45h-1.5zM254.15 150.73h1.5v11.45h-1.5zM256.15 150.73h1.5v11.45h-1.5zM258.15 150.73h1.5v11.45h-1.5zM260.15 150.73h1.5v11.45h-1.5zM262.15 150.73h1.5v11.45h-1.5zM264.15 150.73h1.5v11.45h-1.5zM266.15 150.73h1.5v11.45h-1.5zM268.15 150.73h1.5v11.45h-1.5zM270.15 150.73h1.5v11.45h-1.5zM272.15 150.73h1.5v11.45h-1.5zM274.15 150.73h1.5v11.45h-1.5zM278.65 150.73h1.5v11.45h-1.5zM280.65 150.73h1.5v11.45h-1.5zM282.64 150.73h1.5v11.45h-1.5zM284.64 150.73h1.5v11.45h-1.5zM286.63 150.73h1.5v11.45h-1.5zM288.63 150.73h1.5v11.45h-1.5zM290.63 150.73h1.5v11.45h-1.5zM292.62 150.73h1.5v11.45h-1.5zM294.62 150.73h1.5v11.45h-1.5zM296.61 150.73h1.5v11.45h-1.5zM298.61 150.73h1.5v11.45h-1.5zM300.61 150.73h1.5v11.45h-1.5zM302.6 150.73h1.5v11.45h-1.5zM304.6 150.73h1.5v11.45h-1.5zM306.59 150.73h1.5v11.45h-1.5zM308.59 150.73h1.5v11.45h-1.5zM310.59 150.73h1.5v11.45h-1.5zM312.58 150.73h1.5v11.45h-1.5zM314.58 150.73h1.5v11.45h-1.5zM316.57 150.73h1.5v11.45h-1.5zM318.57 150.73h1.5v11.45h-1.5zM320.57 150.73h1.5v11.45h-1.5zM322.56 150.73h1.5v11.45h-1.5zM324.56 150.73h1.5v11.45h-1.5zM326.55 150.73h1.5v11.45h-1.5zM328.55 150.73h1.5v11.45h-1.5zM330.55 150.73h1.5v11.45h-1.5zM332.54 150.73h1.5v11.45h-1.5zM334.54 150.73h1.5v11.45h-1.5zM336.53 150.73h1.5v11.45h-1.5zM338.53 150.73h1.5v11.45h-1.5zM340.53 150.73h1.5v11.45h-1.5zM342.52 150.73h1.5v11.45h-1.5zM344.52 150.73h1.5v11.45h-1.5zM346.51 150.73h1.5v11.45h-1.5zM348.51 150.73h1.5v11.45h-1.5zM350.51 150.73h1.5v11.45h-1.5zM352.5 150.73h1.5v11.45h-1.5zM354.5 150.73h1.5v11.45h-1.5zM356.49 150.73h1.5v11.45h-1.5zM358.49 150.73h1.5v11.45h-1.5zM360.49 150.73h1.5v11.45h-1.5zM362.48 150.73h1.5v11.45h-1.5zM364.48 150.73h1.5v11.45h-1.5zM366.47 150.73h1.5v11.45h-1.5zM368.47 150.73h1.5v11.45h-1.5zM370.47 150.73h1.5v11.45h-1.5zM372.46 150.73h1.5v11.45h-1.5zM374.46 150.73h1.5v11.45h-1.5zM376.45 150.73h1.5v11.45h-1.5zM378.45 150.73h1.5v11.45h-1.5zM380.45 150.73h1.5v11.45h-1.5zM382.44 150.73h1.5v11.45h-1.5zM384.44 150.73h1.5v11.45h-1.5zM386.43 150.73h1.5v11.45h-1.5zM388.43 150.73h1.5v11.45h-1.5zM390.43 150.73h1.5v11.45h-1.5zM392.42 150.73h1.5v11.45h-1.5zM394.42 150.73h1.5v11.45h-1.5zM396.41 150.73h1.5v11.45h-1.5zM398.41 150.73h1.5v11.45h-1.5zM400.41 150.73h1.5v11.45h-1.5zM402.4 150.73h1.5v11.45h-1.5zM404.4 150.73h1.5v11.45h-1.5zM406.39 150.73h1.5v11.45h-1.5zM408.39 150.73h1.5v11.45h-1.5zM410.39 150.73h1.5v11.45h-1.5zM412.38 150.73h1.5v11.45h-1.5zM414.38 150.73h1.5v11.45h-1.5zM416.37 150.73h1.5v11.45h-1.5zM418.37 150.73h1.5v11.45h-1.5zM420.37 150.73h1.5v11.45h-1.5zM422.36 150.73h1.5v11.45h-1.5zM424.36 150.73h1.5v11.45h-1.5zM426.35 150.73h1.5v11.45h-1.5zM428.35 150.73h1.5v11.45h-1.5zM430.35 150.73h1.5v11.45h-1.5zM432.34 150.73h1.5v11.45h-1.5zM434.34 150.73h1.5v11.45h-1.5zM436.33 150.73h1.5v11.45h-1.5zM438.33 150.73h1.5v11.45h-1.5zM440.33 150.73h1.5v11.45h-1.5zM442.32 150.73h1.5v11.45h-1.5zM444.32 150.73h1.5v11.45h-1.5zM446.31 150.73h1.5v11.45h-1.5zM448.31 150.73h1.5v11.45h-1.5zM450.31 150.73h1.5v11.45h-1.5zM452.3 150.73h1.5v11.45h-1.5zM454.3 150.73h1.5v11.45h-1.5zM456.29 150.73h1.5v11.45h-1.5zM458.29 150.73h1.5v11.45h-1.5zM460.29 150.73h1.5v11.45h-1.5zM462.28 150.73h1.5v11.45h-1.5zM464.28 150.73h1.5v11.45h-1.5zM466.27 150.73h1.5v11.45h-1.5zM468.27 150.73h1.5v11.45h-1.5zM470.27 150.73h1.5v11.45h-1.5zM472.26 150.73h1.5v11.45h-1.5zM474.26 150.73h1.5v11.45h-1.5zM476.25 150.73h1.5v11.45h-1.5zM478.25 150.73h1.5v11.45h-1.5zM480.25 150.73h1.5v11.45h-1.5zM482.24 150.73h1.5v11.45h-1.5zM484.24 150.73h1.5v11.45h-1.5zM486.23 150.73h1.5v11.45h-1.5zM488.23 150.73h1.5v11.45h-1.5zM490.23 150.73h1.5v11.45h-1.5zM492.22 150.73h1.5v11.45h-1.5zM494.22 150.73h1.5v11.45h-1.5zM496.21 150.73h1.5v11.45h-1.5zM498.21 150.73h1.5v11.45h-1.5zM500.21 150.73h1.5v11.45h-1.5zM502.2 150.73h1.5v11.45h-1.5zM504.2 150.73h1.5v11.45h-1.5zM506.19 150.73h1.5v11.45h-1.5zM508.19 150.73h1.5v11.45h-1.5zM510.19 150.73h1.5v11.45h-1.5zM512.18 150.73h1.5v11.45h-1.5z"/>
<path fill="#f9f9f9" d="M126.7 163.15h77.5v11.45h-77.5zM206.15 163.15h69.5v11.45h-69.5zM278.65 163.15h235.03v11.45h-235.03z"/>
<path fill="#f1f1f1" d="M126.7 163.15h1.5v11.45h-1.5zM128.7 163.15h1.5v11.45h-1.5zM130.7 163.15h1.5v11.45h-1.5zM132.7 163.15h1.5v11.45h-1.5zM134.7 163.15h1.5v11.45h-1.5zM136.7 163.15h1.5v11.45h-1.5zM138.7 163.15h1.5v11.45h-1.5zM140.7 163.15h1.5v11.45h-1.5zM142.7 163.15h1.5v11.45h-1.5zM144.7 163.15h1.5v11.45h-1.5zM146.7 163.15h1.5v11.45h-1.5zM148.7 163.15h1.5v11.45h-1.5zM150.7 163.15h1.5v11.45h-1.5zM152.7 163.15h1.5v11.45h-1.5zM154.7 163.15h1.5v11.45h-1.5zM156.7 163.15h1.5v11.45h-1.5zM158.7 163.15h1.5v11.45h-1.5zM160.7 163.15h1.5v11.45h-1.5zM162.7 163.15h1.5v11.45h-1.5zM164.7 163.15h1.5v11.45h-1.5zM166.7 163.15h1.5v11.45h-1.5zM168.7 163.15h1.5v11.45h-1.5zM170.7 163.15h1.5v11.45h-1.5zM172.7 163.15h1.5v11.45h-1.5zM174.7 163.15h1.5v11.45h-1.5zM176.7 163.15h1.5v11.45h-1.5zM178.7 163.15h1.5v11.45h-1.5zM180.7 163.15h1.5v11.45h-1.5zM182.7 163.15h1.5v11.45h-1.5zM184.7 163.15h1.5v11.45h-1.5zM186.7 163.15h1.5v11.45h-1.5zM188.7 163.15h1.5v11.45h-1.5zM190.7 163.15h1.5v11.45h-1.5zM192.7 163.15h1.5v11.45h-1.5zM194.7 163.15h1.5v11.45h-1.5zM196.7 163.15h1.5v11.45h-1.5zM198.7 163.15h1.5v11.45h-1.5zM200.7 163.15h1.5v11.45h-1.5zM202.7 163.15h1.5v11.45h-1.5zM206.15 163.15h1.5v11.45h-1.5zM208.15 163.15h1.5v11.45h-1.5zM210.15 163.15h1.5v11.45h-1.5zM212.15 163.15h1.5v11.45h-1.5zM214.15 163.15h1.5v11.45h-1.5zM216.15 163.15h1.5v11.45h-1.5zM218.15 163.15h1.5v11.45h-1.5zM220.15 163.15h1.5v11.45h-1.5zM222.15 163.15h1.5v11.45h-1.5zM224.15 163.15h1.5v11.45h-1.5zM226.15 163.15h1.5v11.45h-1.5zM228.15 163.15h1.5v11.45h-1.5zM230.15 163.15h1.5v11.45h-1.5zM232.15 163.15h1.5v11.45h-1.5zM234.15 163.15h1.5v11.45h-1.5zM236.15 163.15h1.5v11.45h-1.5zM238.15 163.15h1.5v11.45h-1.5zM240.15 163.15h1.5v11.45h-1.5zM242.15 163.15h1.5v11.45h-1.5zM244.15 163.15h1.5v11.45h-1.5zM246.15 163.15h1.5v11.45h-1.5zM248.15 163.15h1.5v11.45h-1.5zM250.15 163.15h1.5v11.45h-1.5zM252.15 163.15h1.5v11.45h-1.5zM254.15 163.15h1.5v11.45h-1.5zM256.15 163.15h1.5v11.45h-1.5zM258.15 163.15h1.5v11.45h-1.5zM260.15 163.15h1.5v11.45h-1.5zM262.15 163.15h1.5v11.45h-1.5zM264.15 163.15h1.5v11.45h-1.5zM266.15 163.15h1.5v11.45h-1.5zM268.15 163.15h1.5v11.45h-1.5zM270.15 163.15h1.5v11.45h-1.5zM272.15 163.15h1.5v11.45h-1.5zM274.15 163.15h1.5v11.45h-1.5zM278.65 163.15h1.5v11.45h-1.5zM280.65 163.15h1.5v11.45h-1.5zM282.64 163.15h1.5v11.45h-1.5zM284.64 163.15h1.5v11.45h-1.5zM286.63 163.15h1.5v11.45h-1.5zM288.63 163.15h1.5v11.45h-1.5zM290.63 163.15h1.5v11.45h-1.5zM292.62 163.15h1.5v11.45h-1.5zM294.62 163.15h1.5v11.45h-1.5zM296.61 163.15h1.5v11.45h-1.5zM298.61 163.15h1.5v11.45h-1.5zM300.61 163.15h1.5v11.45h-1.5zM302.6 163.15h1.5v11.45h-1.5zM304.6 163.15h1.5v11.45h-1.5zM306.59 163.15h1.5v11.45h-1.5zM308.59 163.15h1.5v11.45h-1.5zM310.59 163.15h1.5v11.45h-1.5zM312.58 163.15h1.5v11.45h-1.5zM314.58 163.15h1.5v11.45h-1.5zM316.57 163.15h1.5v11.45h-1.5zM318.57 163.15h1.5v11.45h-1.5zM320.57 163.15h1.5v11.45h-1.5zM322.56 163.15h1.5v11.45h-1.5zM324.56 163.15h1.5v11.45h-1.5zM326.55 163.15h1.5v11.45h-1.5zM328.55 163.15h1.5v11.45h-1.5zM330.55 163.15h1.5v11.45h-1.5zM332.54 163.15h1.5v11.45h-1.5zM334.54 163.15h1.5v11.45h-1.5zM336.53 163.15h1.5v11.45h-1.5zM338.53 163.15h1.5v11.45h-1.5zM340.53 163.15h1.5v11.45h-1.5zM342.52 163.15h1.5v11.45h-1.5zM344.52 163.15h1.5v11.45h-1.5zM346.51 163.15h1.5v11.45h-1.5zM348.51 163.15h1.5v11.45h-1.5zM350.51 163.15h1.5v11.45h-1.5zM352.5 163.15h1.5v11.45h-1.5zM354.5 163.15h1.5v11.45h-1.5zM356.49 163.15h1.5v11.45h-1.5zM358.49 163.15h1.5v11.45h-1.5zM360.49 163.15h1.5v11.45h-1.5zM362.48 163.15h1.5v11.45h-1.5zM364.48 163.15h1.5v11.45h-1.5zM366.47 163.15h1.5v11.45h-1.5zM368.47 163.15h1.5v11.45h-1.5zM370.47 163.15h1.5v11.45h-1.5zM372.46 163.15h1.5v11.45h-1.5zM374.46 163.15h1.5v11.45h-1.5zM376.45 163.15h1.5v11.45h-1.5zM378.45 163.15h1.5v11.45h-1.5zM380.45 163.15h1.5v11.45h-1.5zM382.44 163.15h1.5v11.45h-1.5zM384.44 163.15h1.5v11.45h-1.5zM386.43 163.15h1.5v11.45h-1.5zM388.43 163.15h1.5v11.45h-1.5zM390.43 163.15h1.5v11.45h-1.5zM392.42 163.15h1.5v11.45h-1.5zM394.42 163.15h1.5v11.45h-1.5zM396.41 163.15h1.5v11.45h-1.5zM398.41 163.15h1.5v11.45h-1.5zM400.41 163.15h1.5v11.45h-1.5zM402.4 163.15h1.5v11.45h-1.5zM404.4 163.15h1.5v11.45h-1.5zM406.39 163.15h1.5v11.45h-1.5zM408.39 163.15h1.5v11.45h-1.5zM410.39 163.15h1.5v11.45h-1.5zM412.38 163.15h1.5v11.45h-1.5zM414.38 163.15h1.5v11.45h-1.5zM416.37 163.15h1.5v11.45h-1.5zM418.37 163.15h1.5v11.45h-1.5zM420.37 163.15h1.5v11.45h-1.5zM422.36 163.15h1.5v11.45h-1.5zM424.36 163.15h1.5v11.45h-1.5zM426.35 163.15h1.5v11.45h-1.5zM428.35 163.15h1.5v11.45h-1.5zM430.35 163.15h1.5v11.45h-1.5zM432.34 163.15h1.5v11.45h-1.5zM434.34 163.15h1.5v11.45h-1.5zM436.33 163.15h1.5v11.45h-1.5zM438.33 163.15h1.5v11.45h-1.5zM440.33 163.15h1.5v11.45h-1.5zM442.32 163.15h1.5v11.45h-1.5zM444.32 163.15h1.5v11.45h-1.5zM446.31 163.15h1.5v11.45h-1.5zM448.31 163.15h1.5v11.45h-1.5zM450.31 163.15h1.5v11.45h-1.5zM452.3 163.15h1.5v11.45h-1.5zM454.3 163.15h1.5v11.45h-1.5zM456.29 163.15h1.5v11.45h-1.5zM458.29 163.15h1.5v11.45h-1.5zM460.29 163.15h1.5v11.45h-1.5zM462.28 163.15h1.5v11.45h-1.5zM464.28 163.15h1.5v11.45h-1.5zM466.27 163.15h1.5v11.45h-1.5zM468.27 163.15h1.5v11.45h-1.5zM470.27 163.15h1.5v11.45h-1.5zM472.26 163.15h1.5v11.45h-1.5zM474.26 163.15h1.5v11.45h-1.5zM476.25 163.15h1.5v11.45h-1.5zM478.25 163.15h1.5v11.45h-1.5zM480.25 163.15h1.5v11.45h-1.5zM482.24 163.15h1.5v11.45h-1.5zM484.24 163.15h1.5v11.45h-1.5zM486.23 163.15h1.5v11.45h-1.5zM488.23 163.15h1.5v11.45h-1.5zM490.23 163.15h1.5v11.45h-1.5zM492.22 163.15h1.5v11.45h-1.5zM494.22 163.15h1.5v11.45h-1.5zM496.21 163.15h1.5v11.45h-1.5zM498.21 163.15h1.5v11.45h-1.5zM500.21 163.15h1.5v11.45h-1.5zM502.2 163.15h1.5v11.45h-1.5zM504.2 163.15h1.5v11.45h-1.5zM506.19 163.15h1.5v11.45h-1.5zM508.19 163.15h1.5v11.45h-1.5zM510.19 163.15h1.5v11.45h-1.5zM512.18 163.15h1.5v11.45h-1.5z"/>
<path fill="#f9f9f9" d="M126.7 175.57h77.5v11.45h-77.5zM206.15 175.57h69.5v11.45h-69.5zM278.65 175.57h235.03v11.45h-235.03z"/>
<path fill="#f1f1f1" d="M126.7 175.57h1.5v11.45h-1.5zM128.7 175.57h1.5v11.45h-1.5zM130.7 175.57h1.5v11.45h-1.5zM132.7 175.57h1.5v11.45h-1.5zM134.7 175.57h1.5v11.45h-1.5zM136.7 175.57h1.5v11.45h-1.5zM138.7 175.57h1.5v11.45h-1.5zM140.7 175.57h1.5v11.45h-1.5zM142.7 175.57h1.5v11.45h-1.5zM144.7 175.57h1.5v11.45h-1.5zM146.7 175.57h1.5v11.45h-1.5zM148.7 175.57h1.5v11.45h-1.5zM150.7 175.57h1.5v11.45h-1.5zM152.7 175.57h1.5v11.45h-1.5zM154.7 175.57h1.5v11.45h-1.5zM156.7 175.57h1.5v11.45h-1.5zM158.7 175.57h1.5v11.45h-1.5zM160.7 175.57h1.5v11.45h-1.5zM162.7 175.57h1.5v11.45h-1.5zM164.7 175.57h1.5v11.45h-1.5zM166.7 175.57h1.5v11.45h-1.5zM168.7 175.57h1.5v11.45h-1.5zM170.7 175.57h1.5v11.45h-1.5zM172.7 175.57h1.5v11.45h-1.5zM174.7 175.57h1.5v11.45h-1.5zM176.7 175.57h1.5v11.45h-1.5zM178.7 175.57h1.5v11.45h-1.5zM180.7 175.57h1.5v11.45h-1.5zM182.7 175.57h1.5v11.45h-1.5zM184.7 175.57h1.5v11.45h-1.5zM186.7 175.57h1.5v11.45h-1.5zM188.7 175.57h1.5v11.45h-1.5zM190.7 175.57h1.5v11.45h-1.5zM192.7 175.57h1.5v11.45h-1.5zM194.7 175.57h1.5v11.45h-1.5zM196.7 175.57h1.5v11.45h-1.5zM198.7 175.57h1.5v11.45h-1.5zM200.7 175.57h1.5v11.45h-1.5zM202.7 175.57h1.5v11.45h-1.5zM206.15 175.57h1.5v11.45h-1.5zM208.15 175.57h1.5v11.45h-1.5zM210.15 175.57h1.5v11.45h-1.5zM212.15 175.57h1.5v11.45h-1.5zM214.15 175.57h1.5v11.45h-1.5zM216.15 175.57h1.5v11.45h-1.5zM218.15 175.57h1.5v11.45h-1.5zM220.15 175.57h1.5v11.45h-1.5zM222.15 175.57h1.5v11.45h-1.5zM224.15 175.57h1.5v11.45h-1.5zM226.15 175.57h1.5v11.45h-1.5zM228.15 175.57h1.5v11.45h-1.5zM230.15 175.57h1.5v11.45h-1.5zM232.15 175.57h1.5v11.45h-1.5zM234.15 175.57h1.5v11.45h-1.5zM236.15 175.57h1.5v11.45h-1.5zM238.15 175.57h1.5v11.45h-1.5zM240.15 175.57h1.5v11.45h-1.5zM242.15 175.57h1.5v11.45h-1.5zM244.15 175.57h1.5v11.45h-1.5zM246.15 175.57h1.5v11.45h-1.5zM248.15 175.57h1.5v11.45h-1.5zM250.15 175.57h1.5v11.45h-1.5zM252.15 175.57h1.5v11.45h-1.5zM254.15 175.57h1.5v11.45h-1.5zM256.15 175.57h1.5v11.45h-1.5zM258.15 175.57h1.5v11.45h-1.5zM260.15 175.57h1.5v11.45h-1.5zM262.15 175.57h1.5v11.45h-1.5zM264.15 175.57h1.5v11.45h-1.5zM266.15 175.57h1.5v11.45h-1.5zM268.15 175.57h1.5v11.45h-1.5zM270.15 175.57h1.5v11.45h-1.5zM272.15 175.57h1.5v11.45h-1.5zM274.15 175.57h1.5v11.45h-1.5zM278.65 175.57h1.5v11.45h-1.5zM280.65 175.57h1.5v11.45h-1.5zM282.64 175.57h1.5v11.45h-1.5zM284.64 175.57h1.5v11.45h-1.5zM286.63 175.57h1.5v11.45h-1.5zM288.63 175.57h1.5v11.45h-1.5zM290.63 175.57h1.5v11.45h-1.5zM292.62 175.57h1.5v11.45h-1.5zM294.62 175.57h1.5v11.45h-1.5zM296.61 175.57h1.5v11.45h-1.5zM298.61 175.57h1.5v11.45h-1.5zM300.61 175.57h1.5v11.45h-1.5zM302.6 175.57h1.5v11.45h-1.5zM304.6 175.57h1.5v11.45h-1.5zM306.59 175.57h1.5v11.45h-1.5zM308.59 175.57h1.5v11.45h-1.5zM310.59 175.57h1.5v11.45h-1.5zM312.58 175.57h1.5v11.45h-1.5zM314.58 175.57h1.5v11.45h-1.5zM316.57 175.57h1.5v11.45h-1.5zM318.57 175.57h1.5v11.45h-1.5zM320.57 175.57h1.5v11.45h-1.5zM322.56 175.57h1.5v11.45h-1.5zM324.56 175.57h1.5v11.45h-1.5zM326.55 175.57h1.5v11.45h-1.5zM328.55 175.57h1.5v11.45h-1.5zM330.55 175.57h1.5v11.45h-1.5zM332.54 175.57h1.5v11.45h-1.5zM334.54 175.57h1.5v11.45h-1.5zM336.53 175.57h1.5v11.45h-1.5zM338.53 175.57h1.5v11.45h-1.5zM340.53 175.57h1.5v11.45h-1.5zM342.52 175.57h1.5v11.45h-1.5zM344.52 175.57h1.5v11.45h-1.5zM346.51 175.57h1.5v11.45h-1.5zM348.51 175.57h1.5v11.45h-1.5zM350.51 175.57h1.5v11.45h-1.5zM352.5 175.57h1.5v11.45h-1.5zM354.5 175.57h1.5v11.45h-1.5zM356.49 175.57h1.5v11.45h-1.5zM358.49 175.57h1.5v11.45h-1.5zM360.49 175.57h1.5v11.45h-1.5zM362.48 175.57h1.5v11.45h-1.5zM364.48 175.57h1.5v11.45h-1.5zM366.47 175.57h1.5v11.45h-1.5zM368.47 175.57h1.5v11.45h-1.5zM370.47 175.57h1.5v11.45h-1.5zM372.46 175.57h1.5v11.45h-1.5zM374.46 175.57h1.5v11.45h-1.5zM376.45 175.57h1.5v11.45h-1.5zM378.45 175.57h1.5v11.45h-1.5zM380.45 175.57h1.5v11.45h-1.5zM382.44 175.57h1.5v11.45h-1.5zM384.44 175.57h1.5v11.45h-1.5zM386.43 175.57h1.5v11.45h-1.5zM388.43 175.57h1.5v11.45h-1.5zM390.43 175.57h1.5v11.45h-1.5zM392.42 175.57h1.5v11.45h-1.5zM394.42 175.57h1.5v11.45h-1.5zM396.41 175.57h1.5v11.45h-1.5zM398.41 175.57h1.5v11.45h-1.5zM400.41 175.57h1.5v11.45h-1.5zM402.4 175.57h1.5v11.45h-1.5zM404.4 175.57h1.5v11.45h-1.5zM406.39 175.57h1.5v11.45h-1.5zM408.39 175.57h1.5v11.45h-1.5zM410.39 175.57h1.5v11.45h-1.5zM412.38 175.57h1.5v11.45h-1.5zM414.38 175.57h1.5v11.45h-1.5zM416.37 175.57h1.5v11.45h-1.5zM418.37 175.57h1.5v11.45h-1.5zM420.37 175.57h1.5v11.45h-1.5zM422.36 175.57h1.5v11.45h-1.5zM424.36 175.57h1.5v11.45h-1.5zM426.35 175.57h1.5v11.45h-1.5zM428.35 175.57h1.5v11.45h-1.5zM430.35 175.57h1.5v11.45h-1.5zM432.34 175.57h1.5v11.45h-1.5zM434.34 175.57h1.5v11.45h-1.5zM436.33 175.57h1.5v11.45h-1.5zM438.33 175.57h1.5v11.45h-1.5zM440.33 175.57h1.5v11.45h-1.5zM442.32 175.57h1.5v11.45h-1.5zM444.32 175.57h1.5v11.45h-1.5zM446.31 175.57h1.5v11.45h-1.5zM448.31 175.57h1.5v11.45h-1.5zM450.31 175.57h1.5v11.45h-1.5zM452.3 175.57h1.5v11.45h-1.5zM454.3 175.57h1.5v11.45h-1.5zM456.29 175.57h1.5v11.45h-1.5zM458.29 175.57h1.5v11.45h-1.5zM460.29 175.57h1.5v11.45h-1.5zM462.28 175.57h1.5v11.45h-1.5zM464.28 175.57h1.5v11.45h-1.5zM466.27 175.57h1.5v11.45h-1.5zM468.27 175.57h1.5v11.45h-1.5zM470.27 175.57h1.5v11.45h-1.5zM472.26 175.57h1.5v11.45h-1.5zM474.26 175.57h1.5v11.45h-1.5zM476.25 175.57h1.5v11.45h-1.5zM478.25 175.57h1.5v11.45h-1.5zM480.25 175.57h1.5v11.45h-1.5zM482.24 175.57h1.5v11.45h-1.5zM484.24 175.57h1.5v11.45h-1.5zM486.23 175.57h1.5v11.45h-1.5zM488.23 175.57h1.5v11.45h-1.5zM490.23 175.57h1.5v11.45h-1.5zM492.22 175.57h1.5v11.45h-1.5zM494.22 175.57h1.5v11.45h-1.5zM496.21 175.57h1.5v11.45h-1.5zM498.21 175.57h1.5v11.45h-1.5zM500.21 175.57h1.5v11.45h-1.5zM502.2 175.57h1.5v11.45h-1.5zM504.2 175.57h1.5v11.45h-1.5zM506.19 175.57h1.5v11.45h-1.5zM508.19 175.57h1.5v11.45h-1.5zM510.19 175.57h1.5v11.45h-1.5zM512.18 175.57h1.5v11.45h-1.5z"/>
<path fill="#a0a0a0" d="M206.15 38.65h1.5v11.45h-1.5zM208.15 38.65h1.5v11.45h-1.5zM210.15 38.65h1.5v11.45h-1.5zM212.15 38.65h1.5v11.45h-1.5zM214.15 38.65h1.5v11.45h-1.5zM216.15 38.65h1.5v11.45h-1.5zM218.15 38.65h1.5v11.45h-1.5zM220.15 38.65h1.5v11.45h-1.5zM222.15 38.65h1.5v11.45h-1.5zM224.15 38.65h1.5v11.45h-1.5zM226.15 38.65h1.5v11.45h-1.5zM228.15 38.65h1.5v11.45h-1.5zM230.15 38.65h1.5v11.45h-1.5zM232.15 38.65h1.5v11.45h-1.5zM234.15 38.65h1.5v11.45h-1.5zM236.15 38.65h1.5v11.45h-1.5zM238.15 38.65h1.5v11.45h-1.5zM240.15 38.65h1.5v11.45h-1.5zM242.15 38.65h1.5v11.45h-1.5zM244.15 38.65h1.5v11.45h-1.5zM246.15 38.65h1.5v11.45h-1.5zM248.15 38.65h1.5v11.45h-1.5zM250.15 38.65h1.5v11.45h-1.5zM252.15 38.65h1.5v11.45h-1.5zM254.15 38.65h1.5v11.45h-1.5zM256.15 38.65h1.5v11.45h-1.5zM318.57 38.65h1.5v11.45h-1.5zM346.51 38.65h1.5v11.45h-1.5zM348.51 38.65h1.5v11.45h-1.5zM350.51 38.65h1.5v11.45h-1.5zM352.5 38.65h1.5v11.45h-1.5zM354.5 38.65h1.5v11.45h-1.5zM356.49 38.65h1.5v11.45h-1.5zM358.49 38.65h1.5v11.45h-1.5zM360.49 38.65h1.5v11.45h-1.5zM362.48 38.65h1.5v11.45h-1.5zM364.48 38.65h1.5v11.45h-1.5zM366.47 38.65h1.5v11.45h-1.5zM368.47 38.65h1.5v11.45h-1.5zM370.47 38.65h1.5v11.45h-1.5zM372.46 38.65h1.5v11.45h-1.5zM374.46 38.65h1.5v11.45h-1.5zM376.45 38.65h1.5v11.45h-1.5zM378.45 38.65h1.5v11.45h-1.5zM380.45 38.65h1.5v11.45h-1.5zM382.44 38.65h1.5v11.45h-1.5zM384.44 38.65h1.5v11.45h-1.5zM386.43 38.65h1.5v11.45h-1.5zM388.43 38.65h1.5v11.45h-1.5zM390.43 38.65h1.5v11.45h-1.5zM392.42 38.65h1.5v11.45h-1.5zM394.42 38.65h1.5v11.45h-1.5zM248.15 51.07h1.5v11.45h-1.5zM250.15 51.07h1.5v11.45h-1.5zM252.15 51.07h1.5v11.45h-1.5zM254.15 51.07h1.5v11.45h-1.5zM256.15 51.07h1.5v11.45h-1.5zM258.15 51.07h1.5v11.45h-1.5zM260.15 51.07h1.5v11.45h-1.5zM262.15 51.07h1.5v11.45h-1.5zM264.15 51.07h1.5v11.45h-1.5zM266.15 51.07h1.5v11.45h-1.5zM268.15 51.07h1.5v11.45h-1.5zM270.15 51.07h1.5v11.45h-1.5zM272.15 51.07h1.5v11.45h-1.5zM274.15 51.07h1.5v11.45h-1.5zM288.63 51.07h1.5v11.45h-1.5zM290.63 51.07h1.5v11.45h-1.5zM292.62 51.07h1.5v11.45h-1.5zM294.62 51.07h1.5v11.45h-1.5zM296.61 51.07h1.5v11.45h-1.5zM320.57 51.07h1.5v11.45h-1.5zM324.56 51.07h1.5v11.45h-1.5zM334.54 51.07h1.5v11.45h-1.5zM336.53 51.07h1.5v11.45h-1.5zM338.53 51.07h1.5v11.45h-1.5zM340.53 51.07h1.5v11.45h-1.5zM342.52 51.07h1.5v11.45h-1.5zM344.52 51.07h1.5v11.45h-1.5zM346.51 51.07h1.5v11.45h-1.5zM348.51 51.07h1.5v11.45h-1.5zM350.51 51.07h1.5v11.45h-1.5zM278.65 63.49h1.5v11.45h-1.5zM280.65 63.49h1.5v11.45h-1.5zM282.64 63.49h1.5v11.45h-1.5zM284.64 63.49h1.5v11.45h-1.5zM286.63 63.49h1.5v11.45h-1.5zM288.63 63.49h1.5v11.45h-1.5zM290.63 63.49h1.5v11.45h-1.5zM292.62 63.49h1.5v11.45h-1.5zM294.62 63.49h1.5v11.45h-1.5zM296.61 63.49h1.5v11.45h-1.5zM298.61 63.49h1.5v11.45h-1.5zM300.61 63.49h1.5v11.45h-1.5zM302.6 63.49h1.5v11.45h-1.5zM304.6 63.49h1.5v11.45h-1.5zM306.59 63.49h1.5v11.45h-1.5zM308.59 63.49h1.5v11.45h-1.5zM310.59 63.49h1.5v11.45h-1.5zM312.58 63.49h1.5v11.45h-1.5zM314.58 63.49h1.5v11.45h-1.5zM316.57 63.49h1.5v11.45h-1.5zM318.57 63.49h1.5v11.45h-1.5zM320.57 63.49h1.5v11.45h-1.5zM322.56 63.49h1.5v11.45h-1.5zM324.56 63.49h1.5v11.45h-1.5zM326.55 63.49h1.5v11.45h-1.5zM328.55 63.49h1.5v11.45h-1.5zM330.55 63.49h1.5v11.45h-1.5zM332.54 63.49h1.5v11.45h-1.5z"/>
<path fill="#2b5893" d="M290.63 75.91h1.5v11.45h-1.5zM292.62 75.91h1.5v11.45h-1.5zM294.62 75.91h1.5v11.45h-1.5zM296.61 75.91h1.5v11.45h-1.5zM298.61 75.91h1.5v11.45h-1.5zM300.61 75.91h1.5v11.45h-1.5zM302.6 75.91h1.5v11.45h-1.5zM304.6 75.91h1.5v11.45h-1.5zM306.59 75.91h1.5v11.45h-1.5zM308.59 75.91h1.5v11.45h-1.5zM310.59 75.91h1.5v11.45h-1.5zM312.58 75.91h1.5v11.45h-1.5zM314.58 75.91h1.5v11.45h-1.5zM316.57 75.91h1.5v11.45h-1.5zM334.54 75.91h1.5v11.45h-1.5zM336.53 75.91h1.5v11.45h-1.5zM346.51 75.91h1.5v11.45h-1.5zM352.5 75.91h1.5v11.45h-1.5zM354.5 75.91h1.5v11.45h-1.5zM356.49 75.91h1.5v11.45h-1.5zM396.41 75.91h1.5v11.45h-1.5zM398.41 75.91h1.5v11.45h-1.5zM400.41 75.91h1.5v11.45h-1.5zM414.38 75.91h1.5v11.45h-1.5zM416.37 75.91h1.5v11.45h-1.5zM418.37 75.91h1.5v11.45h-1.5zM420.37 75.91h1.5v11.45h-1.5zM422.36 75.91h1.5v11.45h-1.5zM424.36 75.91h1.5v11.45h-1.5zM426.35 75.91h1.5v11.45h-1.5zM428.35 75.91h1.5v11.45h-1.5zM430.35 75.91h1.5v11.45h-1.5zM432.34 75.91h1.5v11.45h-1.5zM434.34 75.91h1.5v11.45h-1.5zM436.33 75.91h1.5v11.45h-1.5zM438.33 75.91h1.5v11.45h-1.5zM290.63 88.33h1.5v11.45h-1.5zM296.61 88.33h1.5v11.45h-1.5zM298.61 88.33h1.5v11.45h-1.5zM310.59 88.33h1.5v11.45h-1.5zM318.57 88.33h1.5v11.45h-1.5zM320.57 88.33h1.5v11.45h-1.5zM322.56 88.33h1.5v11.45h-1.5zM344.52 88.33h1.5v11.45h-1.5zM354.5 88.33h1.5v11.45h-1.5zM358.49 88.33h1.5v11.45h-1.5zM360.49 88.33h1.5v11.45h-1.5zM362.48 88.33h1.5v11.45h-1.5zM402.4 88.33h1.5v11.45h-1.5zM404.4 88.33h1.5v11.45h-1.5zM406.39 88.33h1.5v11.45h-1.5zM408.39 88.33h1.5v11.45h-1.5zM410.39 88.33h1.5v11.45h-1.5zM412.38 88.33h1.5v11.45h-1.5zM414.38 88.33h1.5v11.45h-1.5zM432.34 88.33h1.5v11.45h-1.5zM434.34 88.33h1.5v11.45h-1.5zM436.33 88.33h1.5v11.45h-1.5zM438.33 88.33h1.5v11.45h-1.5zM440.33 88.33h1.5v11.45h-1.5zM442.32 88.33h1.5v11.45h-1.5zM444.32 88.33h1.5v11.45h-1.5z"/>
<path fill="#6a9234" d="M364.48 100.75h1.5v11.45h-1.5zM378.45 100.75h1.5v11.45h-1.5zM438.33 100.75h1.5v11.45h-1.5zM440.33 100.75h1.5v11.45h-1.5zM442.32 100.75h1.5v11.45h-1.5zM444.32 100.75h1.5v11.45h-1.5zM446.31 100.75h1.5v11.45h-1.5zM448.31 100.75h1.5v11.45h-1.5zM450.31 100.75h1.5v11.45h-1.5zM452.3 100.75h1.5v11.45h-1.5zM454.3 100.75h1.5v11.45h-1.5zM456.29 100.75h1.5v11.45h-1.5zM458.29 100.75h1.5v11.45h-1.5zM460.29 100.75h1.5v11.45h-1.5zM462.28 100.75h1.5v11.45h-1.5zM464.28 100.75h1.5v11.45h-1.5zM466.27 100.75h1.5v11.45h-1.5zM468.27 100.75h1.5v11.45h-1.5z"/>
<path fill="#a0a0a0" d="M300.61 113.17h1.5v11.45h-1.5zM306.59 113.17h1.5v11.45h-1.5zM308.59 113.17h1.5v11.45h-1.5zM310.59 113.17h1.5v11.45h-1.5zM324.56 113.17h1.5v11.45h-1.5zM338.53 113.17h1.5v11.45h-1.5zM340.53 113.17h1.5v11.45h-1.5zM348.51 113.17h1.5v11.45h-1.5zM350.51 113.17h1.5v11.45h-1.5zM358.49 113.17h1.5v11.45h-1.5zM366.47 113.17h1.5v11.45h-1.5zM380.45 113.17h1.5v11.45h-1.5zM382.44 113.17h1.5v11.45h-1.5zM384.44 113.17h1.5v11.45h-1.5zM396.41 113.17h1.5v11.45h-1.5zM412.38 113.17h1.5v11.45h-1.5zM414.38 113.17h1.5v11.45h-1.5zM416.37 113.17h1.5v11.45h-1.5zM424.36 113.17h1.5v11.45h-1.5zM440.33 113.17h1.5v11.45h-1.5zM446.31 113.17h1.5v11.45h-1.5zM470.27 113.17h1.5v11.45h-1.5zM472.26 113.17h1.5v11.45h-1.5zM474.26 113.17h1.5v11.45h-1.5zM476.25 113.17h1.5v11.45h-1.5zM478.25 113.17h1.5v11.45h-1.5zM480.25 113.17h1.5v11.45h-1.5zM482.24 113.17h1.5v11.45h-1.5zM484.24 113.17h1.5v11.45h-1.5zM486.23 113.17h1.5v11.45h-1.5zM290.63 125.59h1.5v11.45h-1.5zM296.61 125.59h1.5v11.45h-1.5zM298.61 125.59h1.5v11.45h-1.5zM304.6 125.59h1.5v11.45h-1.5zM310.59 125.59h1.5v11.45h-1.5zM312.58 125.59h1.5v11.45h-1.5zM314.58 125.59h1.5v11.45h-1.5zM318.57 125.59h1.5v11.45h-1.5zM322.56 125.59h1.5v11.45h-1.5zM324.56 125.59h1.5v11.45h-1.5zM326.55 125.59h1.5v11.45h-1.5zM328.55 125.59h1.5v11.45h-1.5zM330.55 125.59h1.5v11.45h-1.5zM332.54 125.59h1.5v11.45h-1.5zM336.53 125.59h1.5v11.45h-1.5zM342.52 125.59h1.5v11.45h-1.5zM344.52 125.59h1.5v11.45h-1.5zM350.51 125.59h1.5v11.45h-1.5zM354.5 125.59h1.5v11.45h-1.5zM356.49 125.59h1.5v11.45h-1.5zM358.49 125.59h1.5v11.45h-1.5zM366.47 125.59h1.5v11.45h-1.5zM370.47 125.59h1.5v11.45h-1.5zM372.46 125.59h1.5v11.45h-1.5zM374.46 125.59h1.5v11.45h-1.5zM376.45 125.59h1.5v11.45h-1.5zM380.45 125.59h1.5v11.45h-1.5zM386.43 125.59h1.5v11.45h-1.5zM388.43 125.59h1.5v11.45h-1.5zM390.43 125.59h1.5v11.45h-1.5zM392.42 125.59h1.5v11.45h-1.5zM394.42 125.59h1.5v11.45h-1.5zM402.4 125.59h1.5v11.45h-1.5zM404.4 125.59h1.5v11.45h-1.5zM406.39 125.59h1.5v11.45h-1.5zM410.39 125.59h1.5v11.45h-1.5zM414.38 125.59h1.5v11.45h-1.5zM418.37 125.59h1.5v11.45h-1.5zM420.37 125.59h1.5v11.45h-1.5zM426.35 125.59h1.5v11.45h-1.5zM432.34 125.59h1.5v11.45h-1.5zM434.34 125.59h1.5v11.45h-1.5zM444.32 125.59h1.5v11.45h-1.5zM480.25 125.59h1.5v11.45h-1.5zM482.24 125.59h1.5v11.45h-1.5zM488.23 125.59h1.5v11.45h-1.5zM490.23 125.59h1.5v11.45h-1.5zM492.22 125.59h1.5v11.45h-1.5zM494.22 125.59h1.5v11.45h-1.5zM496.21 125.59h1.5v11.45h-1.5zM498.21 125.59h1.5v11.45h-1.5zM500.21 125.59h1.5v11.45h-1.5zM502.2 125.59h1.5v11.45h-1.5zM504.2 125.59h1.5v11.45h-1.5zM506.19 125.59h1.5v11.45h-1.5zM508.19 125.59h1.5v11.45h-1.5zM510.19 125.59h1.5v11.45h-1.5zM512.18 125.59h1.5v11.45h-1.5z"/>
<path fill="#fbb81f" d="M126.4 138.31h1.5v11.45h-1.5zM136.4 138.31h1.5v11.45h-1.5zM142.4 138.31h1.5v11.45h-1.5zM158.4 138.31h1.5v11.45h-1.5zM164.4 138.31h1.5v11.45h-1.5zM174.4 138.31h1.5v11.45h-1.5zM192.4 138.31h1.5v11.45h-1.5zM200.4 138.31h1.5v11.45h-1.5zM493.92 138.31h1.5v11.45h-1.5zM501.9 138.31h1.5v11.45h-1.5z"/>
<path fill="#2b5893" d="M156.7 150.73h1.5v11.45h-1.5zM158.7 150.73h1.5v11.45h-1.5zM160.7 150.73h1.5v11.45h-1.5zM162.7 150.73h1.5v11.45h-1.5zM164.7 150.73h1.5v11.45h-1.5zM166.7 150.73h1.5v11.45h-1.5zM168.7 150.73h1.5v11.45h-1.5zM170.7 150.73h1.5v11.45h-1.5zM172.7 150.73h1.5v11.45h-1.5z"/>
<path fill="#6a9234" d="M174.7 150.73h1.5v11.45h-1.5zM176.7 150.73h1.5v11.45h-1.5z"/>
<path fill="#2b5893" d="M222.15 150.73h1.5v11.45h-1.5zM224.15 150.73h1.5v11.45h-1.5zM230.15 150.73h1.5v11.45h-1.5zM232.15 150.73h1.5v11.45h-1.5zM248.15 150.73h1.5v11.45h-1.5zM250.15 150.73h1.5v11.45h-1.5z"/>
<path fill="#6a9234" d="M226.15 150.73h1.5v11.45h-1.5zM228.15 150.73h1.5v11.45h-1.5z"/>
<path fill="#2b5893" d="M278.65 150.73h1.5v11.45h-1.5zM280.65 150.73h1.5v11.45h-1.5zM282.64 150.73h1.5v11.45h-1.5zM284.64 150.73h1.5v11.45h-1.5zM286.63 150.73h1.5v11.45h-1.5zM288.63 150.73h1.5v11.45h-1.5zM290.63 150.73h1.5v11.45h-1.5zM292.62 150.73h1.5v11.45h-1.5zM294.62 150.73h1.5v11.45h-1.5zM296.61 150.73h1.5v11.45h-1.5zM298.61 150.73h1.5v11.45h-1.5zM300.61 150.73h1.5v11.45h-1.5zM302.6 150.73h1.5v11.45h-1.5zM304.6 150.73h1.5v11.45h-1.5zM306.59 150.73h1.5v11.45h-1.5zM308.59 150.73h1.5v11.45h-1.5zM310.59 150.73h1.5v11.45h-1.5zM312.58 150.73h1.5v11.45h-1.5zM314.58 150.73h1.5v11.45h-1.5zM316.57 150.73h1.5v11.45h-1.5zM318.57 150.73h1.5v11.45h-1.5zM320.57 150.73h1.5v11.45h-1.5zM322.56 150.73h1.5v11.45h-1.5zM324.56 150.73h1.5v11.45h-1.5zM326.55 150.73h1.5v11.45h-1.5zM328.55 150.73h1.5v11.45h-1.5zM330.55 150.73h1.5v11.45h-1.5zM332.54 150.73h1.5v11.45h-1.5zM334.54 150.73h1.5v11.45h-1.5zM336.53 150.73h1.5v11.45h-1.5zM338.53 150.73h1.5v11.45h-1.5zM344.52 150.73h1.5v11.45h-1.5zM346.51 150.73h1.5v11.45h-1.5zM350.51 150.73h1.5v11.45h-1.5zM352.5 150.73h1.5v11.45h-1.5zM354.5 150.73h1.5v11.45h-1.5zM356.49 150.73h1.5v11.45h-1.5zM358.49 150.73h1.5v11.45h-1.5zM360.49 150.73h1.5v11.45h-1.5zM362.48 150.73h1.5v11.45h-1.5zM374.46 150.73h1.5v11.45h-1.5zM390.43 150.73h1.5v11.45h-1.5zM392.42 150.73h1.5v11.45h-1.5zM396.41 150.73h1.5v11.45h-1.5zM398.41 150.73h1.5v11.45h-1.5zM400.41 150.73h1.5v11.45h-1.5zM402.4 150.73h1.5v11.45h-1.5zM404.4 150.73h1.5v11.45h-1.5zM406.39 150.73h1.5v11.45h-1.5zM408.39 150.73h1.5v11.45h-1.5zM410.39 150.73h1.5v11.45h-1.5zM412.38 150.73h1.5v11.45h-1.5zM414.38 150.73h1.5v11.45h-1.5zM416.37 150.73h1.5v11.45h-1.5zM418.37 150.73h1.5v11.45h-1.5zM420.37 150.73h1.5v11.45h-1.5zM422.36 150.73h1.5v11.45h-1.5zM424.36 150.73h1.5v11.45h-1.5zM426.35 150.73h1.5v11.45h-1.5zM428.35 150.73h1.5v11.45h-1.5zM430.35 150.73h1.5v11.45h-1.5zM432.34 150.73h1.5v11.45h-1.5zM434.34 150.73h1.5v11.45h-1.5zM436.33 150.73h1.5v11.45h-1.5zM494.22 150.73h1.5v11.45h-1.5zM496.21 150.73h1.5v11.45h-1.5zM502.2 150.73h1.5v11.45h-1.5zM512.18 150.73h1.5v11.45h-1.5z"/>
<path fill="#6a9234" d="M364.48 150.73h1.5v11.45h-1.5zM372.46 150.73h1.5v11.45h-1.5zM378.45 150.73h1.5v11.45h-1.5zM438.33 150.73h1.5v11.45h-1.5zM440.33 150.73h1.5v11.45h-1.5zM442.32 150.73h1.5v11.45h-1.5zM444.32 150.73h1.5v11.45h-1.5zM446.31 150.73h1.5v11.45h-1.5zM448.31 150.73h1.5v11.45h-1.5zM450.31 150.73h1.5v11.45h-1.5zM452.3 150.73h1.5v11.45h-1.5zM454.3 150.73h1.5v11.45h-1.5zM456.29 150.73h1.5v11.45h-1.5zM458.29 150.73h1.5v11.45h-1.5zM460.29 150.73h1.5v11.45h-1.5zM462.28 150.73h1.5v11.45h-1.5zM464.28 150.73h1.5v11.45h-1.5zM466.27 150.73h1.5v11.45h-1.5zM468.27 150.73h1.5v11.45h-1.5z"/>
<path fill="#0c0c0c" d="M154.7 163.15h1.5v11.45h-1.5zM172.7 163.15h1.5v11.45h-1.5zM174.7 163.15h1.5v11.45h-1.5zM176.7 163.15h1.5v11.45h-1.5zM178.7 163.15h1.5v11.45h-1.5zM180.7 163.15h1.5v11.45h-1.5zM182.7 163.15h1.5v11.45h-1.5zM184.7 163.15h1.5v11.45h-1.5zM186.7 163.15h1.5v11.45h-1.5zM188.7 163.15h1.5v11.45h-1.5zM218.15 163.15h1.5v11.45h-1.5zM220.15 163.15h1.5v11.45h-1.5zM226.15 163.15h1.5v11.45h-1.5zM234.15 163.15h1.5v11.45h-1.5zM256.15 163.15h1.5v11.45h-1.5zM258.15 163.15h1.5v11.45h-1.5zM278.65 163.15h1.5v11.45h-1.5zM304.6 163.15h1.5v11.45h-1.5zM310.59 163.15h1.5v11.45h-1.5zM312.58 163.15h1.5v11.45h-1.5zM314.58 163.15h1.5v11.45h-1.5zM318.57 163.15h1.5v11.45h-1.5zM322.56 163.15h1.5v11.45h-1.5zM324.56 163.15h1.5v11.45h-1.5zM328.55 163.15h1.5v11.45h-1.5zM332.54 163.15h1.5v11.45h-1.5zM350.51 163.15h1.5v11.45h-1.5zM366.47 163.15h1.5v11.45h-1.5zM368.47 163.15h1.5v11.45h-1.5zM370.47 163.15h1.5v11.45h-1.5zM372.46 163.15h1.5v11.45h-1.5zM374.46 163.15h1.5v11.45h-1.5zM376.45 163.15h1.5v11.45h-1.5zM378.45 163.15h1.5v11.45h-1.5zM396.41 163.15h1.5v11.45h-1.5zM402.4 163.15h1.5v11.45h-1.5zM412.38 163.15h1.5v11.45h-1.5zM424.36 163.15h1.5v11.45h-1.5zM426.35 163.15h1.5v11.45h-1.5zM428.35 163.15h1.5v11.45h-1.5zM430.35 163.15h1.5v11.45h-1.5zM432.34 163.15h1.5v11.45h-1.5zM434.34 163.15h1.5v11.45h-1.5zM436.33 163.15h1.5v11.45h-1.5zM438.33 163.15h1.5v11.45h-1.5zM440.33 163.15h1.5v11.45h-1.5zM442.32 163.15h1.5v11.45h-1.5zM444.32 163.15h1.5v11.45h-1.5zM446.31 163.15h1.5v11.45h-1.5zM448.31 163.15h1.5v11.45h-1.5zM450.31 163.15h1.5v11.45h-1.5zM452.3 163.15h1.5v11.45h-1.5zM454.3 163.15h1.5v11.45h-1.5zM456.29 163.15h1.5v11.45h-1.5zM458.29 163.15h1.5v11.45h-1.5zM460.29 163.15h1.5v11.45h-1.5zM462.28 163.15h1.5v11.45h-1.5zM464.28 163.15h1.5v11.45h-1.5zM466.27 163.15h1.5v11.45h-1.5zM468.27 163.15h1.5v11.45h-1.5zM470.27 163.15h1.5v11.45h-1.5zM472.26 163.15h1.5v11.45h-1.5zM474.26 163.15h1.5v11.45h-1.5zM476.25 163.15h1.5v11.45h-1.5zM478.25 163.15h1.5v11.45h-1.5zM488.23 163.15h1.5v11.45h-1.5zM490.23 163.15h1.5v11.45h-1.5zM492.22 163.15h1.5v11.45h-1.5zM494.22 163.15h1.5v11.45h-1.5zM496.21 163.15h1.5v11.45h-1.5zM498.21 163.15h1.5v11.45h-1.5z"/>
<path fill="#cc2f3c" d="M160.7 175.57h1.5v11.45h-1.5zM162.7 175.57h1.5v11.45h-1.5zM164.7 175.57h1.5v11.45h-1.5zM166.7 175.57h1.5v11.45h-1.5zM168.7 175.57h1.5v11.45h-1.5zM170.7 175.57h1.5v11.45h-1.5zM172.7 175.57h1.5v11.45h-1.5zM174.7 175.57h1.5v11.45h-1.5zM176.7 175.57h1.5v11.45h-1.5zM178.7 175.57h1.5v11.45h-1.5zM180.7 175.57h1.5v11.45h-1.5zM182.7 175.57h1.5v11.45h-1.5zM184.7 175.57h1.5v11.45h-1.5zM186.7 175.57h1.5v11.45h-1.5zM188.7 175.57h1.5v11.45h-1.5zM190.7 175.57h1.5v11.45h-1.5zM192.7 175.57h1.5v11.45h-1.5zM194.7 175.57h1.5v11.45h-1.5zM196.7 175.57h1.5v11.45h-1.5zM198.7 175.57h1.5v11.45h-1.5zM200.7 175.57h1.5v11.45h-1.5zM202.7 175.57h1.5v11.45h-1.5zM206.15 175.57h1.5v11.45h-1.5zM208.15 175.57h1.5v11.45h-1.5zM210.15 175.57h1.5v11.45h-1.5zM212.15 175.57h1.5v11.45h-1.5zM214.15 175.57h1.5v11.45h-1.5zM216.15 175.57h1.5v11.45h-1.5zM218.15 175.57h1.5v11.45h-1.5zM220.15 175.57h1.5v11.45h-1.5zM222.15 175.57h1.5v11.45h-1.5zM224.15 175.57h1.5v11.45h-1.5zM226.15 175.57h1.5v11.45h-1.5zM256.15 175.57h1.5v11.45h-1.5zM258.15 175.57h1.5v11.45h-1.5zM260.15 175.57h1.5v11.45h-1.5zM278.65 175.57h1.5v11.45h-1.5zM288.63 175.57h1.5v11.45h-1.5zM290.63 175.57h1.5v11.45h-1.5zM292.62 175.57h1.5v11.45h-1.5zM296.61 175.57h1.5v11.45h-1.5zM306.59 175.57h1.5v11.45h-1.5zM308.59 175.57h1.5v11.45h-1.5zM310.59 175.57h1.5v11.45h-1.5zM312.58 175.57h1.5v11.45h-1.5zM314.58 175.57h1.5v11.45h-1.5zM320.57 175.57h1.5v11.45h-1.5zM322.56 175.57h1.5v11.45h-1.5zM324.56 175.57h1.5v11.45h-1.5zM330.55 175.57h1.5v11.45h-1.5zM332.54 175.57h1.5v11.45h-1.5zM336.53 175.57h1.5v11.45h-1.5zM338.53 175.57h1.5v11.45h-1.5zM340.53 175.57h1.5v11.45h-1.5zM342.52 175.57h1.5v11.45h-1.5zM350.51 175.57h1.5v11.45h-1.5zM352.5 175.57h1.5v11.45h-1.5zM354.5 175.57h1.5v11.45h-1.5zM356.49 175.57h1.5v11.45h-1.5zM358.49 175.57h1.5v11.45h-1.5zM362.48 175.57h1.5v11.45h-1.5zM364.48 175.57h1.5v11.45h-1.5zM366.47 175.57h1.5v11.45h-1.5zM368.47 175.57h1.5v11.45h-1.5zM370.47 175.57h1.5v11.45h-1.5zM372.46 175.57h1.5v11.45h-1.5zM374.46 175.57h1.5v11.45h-1.5zM376.45 175.57h1.5v11.45h-1.5zM378.45 175.57h1.5v11.45h-1.5zM396.41 175.57h1.5v11.45h-1.5zM410.39 175.57h1.5v11.45h-1.5zM412.38 175.57h1.5v11.45h-1.5zM414.38 175.57h1.5v11.45h-1.5zM416.37 175.57h1.5v11.45h-1.5zM418.37 175.57h1.5v11.45h-1.5zM420.37 175.57h1.5v11.45h-1.5zM422.36 175.57h1.5v11.45h-1.5zM424.36 175.57h1.5v11.45h-1.5zM426.35 175.57h1.5v11.45h-1.5zM428.35 175.57h1.5v11.45h-1.5zM430.35 175.57h1.5v11.45h-1.5zM432.34 175.57h1.5v11.45h-1.5zM434.34 175.57h1.5v11.45h-1.5zM436.33 175.57h1.5v11.45h-1.5zM438.33 175.57h1.5v11.45h-1.5zM440.33 175.57h1.5v11.45h-1.5zM442.32 175.57h1.5v11.45h-1.5zM444.32 175.57h1.5v11.45h-1.5zM446.31 175.57h1.5v11.45h-1.5zM448.31 175.57h1.5v11.45h-1.5zM450.31 175.57h1.5v11.45h-1.5zM452.3 175.57h1.5v11.45h-1.5zM454.3 175.57h1.5v11.45h-1.5zM456.29 175.57h1.5v11.45h-1.5zM458.29 175.57h1.5v11.45h-1.5zM460.29 175.57h1.5v11.45h-1.5zM462.28 175.57h1.5v11.45h-1.5zM464.28 175.57h1.5v11.45h-1.5zM466.27 175.57h1.5v11.45h-1.5zM468.27 175.57h1.5v11.45h-1.5zM470.27 175.57h1.5v11.45h-1.5zM472.26 175.57h1.5v11.45h-1.5zM474.26 175.57h1.5v11.45h-1.5zM476.25 175.57h1.5v11.45h-1.5zM478.25 175.57h1.5v11.45h-1.5zM488.23 175.57h1.5v11.45h-1.5zM490.23 175.57h1.5v11.45h-1.5zM492.22 175.57h1.5v11.45h-1.5zM494.22 175.57h1.5v11.45h-1.5zM496.21 175.57h1.5v11.45h-1.5zM498.21 175.57h1.5v11.45h-1.5zM500.21 175.57h1.5v11.45h-1.5zM502.2 175.57h1.5v11.45h-1.5z"/>
<text x="165.5" y="26.3" font-size="7.8" text-anchor="middle" textLength="70" lengthAdjust="spacingAndGlyphs" fill="#262626" stroke="#262626" stroke-width="0.14">Cleared all mutations</text>
<text x="165.4" y="35.1" font-size="7.8" text-anchor="middle" font-style="italic" textLength="26.4" lengthAdjust="spacingAndGlyphs" fill="#262626" stroke="#262626" stroke-width="0.14">(<tspan font-style="italic">N</tspan> = 39)</text>
<text x="241.1" y="26.3" font-size="7.8" stroke="#2b2b2b" stroke-width="0.14" text-anchor="middle" fill="#262626" textLength="67.1" lengthAdjust="spacingAndGlyphs"><tspan font-style="italic">DNMT3A/TET2</tspan> only</text>
<text x="241.1" y="35.1" font-size="7.8" text-anchor="middle" font-style="italic" textLength="26.4" lengthAdjust="spacingAndGlyphs" fill="#262626" stroke="#262626" stroke-width="0.14">(N = 35)</text>
<text x="396.9" y="26.2" font-size="7.8" text-anchor="middle" textLength="44.6" lengthAdjust="spacingAndGlyphs" fill="#262626" stroke="#262626" stroke-width="0.14">MRD-positive</text>
<text x="397" y="34.9" font-size="7.8" text-anchor="middle" font-style="italic" textLength="28.5" lengthAdjust="spacingAndGlyphs" fill="#262626" stroke="#262626" stroke-width="0.14">(N = 118)</text>
<text x="29" y="89.8" font-size="7.8" text-anchor="middle" textLength="33" lengthAdjust="spacingAndGlyphs" fill="#262626" stroke="#262626" stroke-width="0.14">Remission</text>
<text x="28.9" y="152.5" font-size="7.8" text-anchor="middle" textLength="31.8" lengthAdjust="spacingAndGlyphs" fill="#262626" stroke="#262626" stroke-width="0.14">Diagnosis</text>
<text x="28.8" y="177.5" font-size="7.8" text-anchor="middle" textLength="30.8" lengthAdjust="spacingAndGlyphs" fill="#262626" stroke="#262626" stroke-width="0.14">Outcome</text>
<text x="124.2" y="47.05" font-size="7.9" text-anchor="end" font-style="italic" textLength="31.4" lengthAdjust="spacingAndGlyphs" fill="#262626" stroke="#262626" stroke-width="0.14">DNMT3A</text>
<text x="124.2" y="59.47" font-size="7.9" text-anchor="end" font-style="italic" textLength="16.9" lengthAdjust="spacingAndGlyphs" fill="#262626" stroke="#262626" stroke-width="0.14">TET2</text>
<text x="124.2" y="71.89" font-size="7.9" text-anchor="end" font-style="italic" textLength="21.3" lengthAdjust="spacingAndGlyphs" fill="#262626" stroke="#262626" stroke-width="0.14">ASXL1</text>
<text x="124.2" y="84.31" font-size="7.9" text-anchor="end" font-style="italic" textLength="47.3" lengthAdjust="spacingAndGlyphs" fill="#262626" stroke="#262626" stroke-width="0.14">Splicing factor</text>
<text x="124.2" y="96.73" font-size="7.9" text-anchor="end" font-style="italic" textLength="55.3" lengthAdjust="spacingAndGlyphs" fill="#262626" stroke="#262626" stroke-width="0.14">Other secondary</text>
<text x="124.2" y="109.15" font-size="7.9" text-anchor="end" font-style="italic" textLength="16.2" lengthAdjust="spacingAndGlyphs" fill="#262626" stroke="#262626" stroke-width="0.14">TP53</text>
<text x="124.2" y="121.57" font-size="7.9" text-anchor="end" font-style="italic" textLength="25.7" lengthAdjust="spacingAndGlyphs" fill="#262626" stroke="#262626" stroke-width="0.14">RAS/TK</text>
<text x="124.2" y="133.99" font-size="7.9" text-anchor="end" font-style="italic" textLength="19.7" lengthAdjust="spacingAndGlyphs" fill="#262626" stroke="#262626" stroke-width="0.14">Other</text>
<text x="124.2" y="146.71" font-size="7.9" text-anchor="end" font-style="italic" textLength="23" lengthAdjust="spacingAndGlyphs" fill="#262626" stroke="#262626" stroke-width="0.14">DDX41</text>
<text x="124.2" y="159.13" font-size="7.9" text-anchor="end" textLength="59.6" lengthAdjust="spacingAndGlyphs" fill="#262626" stroke="#262626" stroke-width="0.14">Genetic ontogeny</text>
<text x="124.2" y="171.55" font-size="7.9" text-anchor="end" textLength="25.6" lengthAdjust="spacingAndGlyphs" fill="#262626" stroke="#262626" stroke-width="0.14">Relapse</text>
<text x="124.2" y="183.97" font-size="7.9" text-anchor="end" textLength="20" lengthAdjust="spacingAndGlyphs" fill="#262626" stroke="#262626" stroke-width="0.14">Death</text>
<text x="7.3" y="215.9" font-size="10.8" font-weight="bold" textLength="6.9" lengthAdjust="spacingAndGlyphs" fill="#111" stroke="#111" stroke-width="0.3">B</text>
<path fill="#efefef" d="M7.7 222.9h67.8v7.3h-67.8zM76 222.9h87v7.3h-87zM165.6 222.9h79.3v7.3h-79.3zM246.2 222.9h266.4v7.3h-266.4z"/>
<text x="10.3" y="229.4" font-size="7.8" textLength="64.4" lengthAdjust="spacingAndGlyphs" fill="#262626" stroke="#262626" stroke-width="0.06">Remission clonality:</text>
<text x="120.6" y="229.4" font-size="7.8" text-anchor="middle" font-style="italic" textLength="71.2" lengthAdjust="spacingAndGlyphs" fill="#262626" stroke="#262626" stroke-width="0.06">Cleared all mutations</text>
<text x="207.8" y="229.4" font-size="7.8" text-anchor="middle" font-style="italic" textLength="67.1" lengthAdjust="spacingAndGlyphs" fill="#262626" stroke="#262626" stroke-width="0.06">DNMT3A/TET2 only</text>
<text x="380.9" y="229.2" font-size="7.8" text-anchor="middle" font-style="italic" textLength="44.4" lengthAdjust="spacingAndGlyphs" fill="#262626" stroke="#262626" stroke-width="0.06">MRD-positive</text>
<path fill="#ececec" d="M6.6 230.8h11v50.8h-11z"/>
<text x="0" y="0" font-size="7.8" fill="#262626" stroke="#262626" stroke-width="0.08" text-anchor="middle" textLength="49.4" lengthAdjust="spacingAndGlyphs" transform="translate(14.1 256.9) rotate(-90)">New mutations</text>
<path fill="#f0f0f0" d="M18.6 231h56.9v11.4h-56.9zM18.6 243.2h56.9v9.1h-56.9zM18.6 253h56.9v9h-56.9zM18.6 262.8h56.9v9h-56.9zM18.6 272.6h56.9v9h-56.9z"/>
<path fill="#d7d7d7" d="M89.6 231.2h73.4v11.1h-73.4zM193.8 231.2h51.1v11.1h-51.1zM355.8 231.2h156.8v11.1h-156.8z"/>
<path fill="#f9f9f9" d="M76.2 243.2h86.72v9.1h-86.72zM166 243.2h78.78v9.1h-78.78zM246.7 243.2h266.02v9.1h-266.02z"/>
<path fill="#f0f0f0" d="M76.2 243.2h1.6v9.1h-1.6zM78.44 243.2h1.6v9.1h-1.6zM80.68 243.2h1.6v9.1h-1.6zM82.92 243.2h1.6v9.1h-1.6zM85.16 243.2h1.6v9.1h-1.6zM87.4 243.2h1.6v9.1h-1.6zM89.64 243.2h1.6v9.1h-1.6zM91.88 243.2h1.6v9.1h-1.6zM94.12 243.2h1.6v9.1h-1.6zM96.36 243.2h1.6v9.1h-1.6zM98.6 243.2h1.6v9.1h-1.6zM100.84 243.2h1.6v9.1h-1.6zM103.08 243.2h1.6v9.1h-1.6zM105.32 243.2h1.6v9.1h-1.6zM107.56 243.2h1.6v9.1h-1.6zM109.8 243.2h1.6v9.1h-1.6zM112.04 243.2h1.6v9.1h-1.6zM114.28 243.2h1.6v9.1h-1.6zM116.52 243.2h1.6v9.1h-1.6zM118.76 243.2h1.6v9.1h-1.6zM121 243.2h1.6v9.1h-1.6zM123.24 243.2h1.6v9.1h-1.6zM125.48 243.2h1.6v9.1h-1.6zM127.72 243.2h1.6v9.1h-1.6zM129.96 243.2h1.6v9.1h-1.6zM132.2 243.2h1.6v9.1h-1.6zM134.44 243.2h1.6v9.1h-1.6zM136.68 243.2h1.6v9.1h-1.6zM138.92 243.2h1.6v9.1h-1.6zM141.16 243.2h1.6v9.1h-1.6zM143.4 243.2h1.6v9.1h-1.6zM145.64 243.2h1.6v9.1h-1.6zM147.88 243.2h1.6v9.1h-1.6zM150.12 243.2h1.6v9.1h-1.6zM152.36 243.2h1.6v9.1h-1.6zM154.6 243.2h1.6v9.1h-1.6zM156.84 243.2h1.6v9.1h-1.6zM159.08 243.2h1.6v9.1h-1.6zM161.32 243.2h1.6v9.1h-1.6zM166 243.2h1.6v9.1h-1.6zM168.27 243.2h1.6v9.1h-1.6zM170.54 243.2h1.6v9.1h-1.6zM172.81 243.2h1.6v9.1h-1.6zM175.08 243.2h1.6v9.1h-1.6zM177.35 243.2h1.6v9.1h-1.6zM179.62 243.2h1.6v9.1h-1.6zM181.89 243.2h1.6v9.1h-1.6zM184.16 243.2h1.6v9.1h-1.6zM186.43 243.2h1.6v9.1h-1.6zM188.7 243.2h1.6v9.1h-1.6zM190.97 243.2h1.6v9.1h-1.6zM193.24 243.2h1.6v9.1h-1.6zM195.51 243.2h1.6v9.1h-1.6zM197.78 243.2h1.6v9.1h-1.6zM200.05 243.2h1.6v9.1h-1.6zM202.32 243.2h1.6v9.1h-1.6zM204.59 243.2h1.6v9.1h-1.6zM206.86 243.2h1.6v9.1h-1.6zM209.13 243.2h1.6v9.1h-1.6zM211.4 243.2h1.6v9.1h-1.6zM213.67 243.2h1.6v9.1h-1.6zM215.94 243.2h1.6v9.1h-1.6zM218.21 243.2h1.6v9.1h-1.6zM220.48 243.2h1.6v9.1h-1.6zM222.75 243.2h1.6v9.1h-1.6zM225.02 243.2h1.6v9.1h-1.6zM227.29 243.2h1.6v9.1h-1.6zM229.56 243.2h1.6v9.1h-1.6zM231.83 243.2h1.6v9.1h-1.6zM234.1 243.2h1.6v9.1h-1.6zM236.37 243.2h1.6v9.1h-1.6zM238.64 243.2h1.6v9.1h-1.6zM240.91 243.2h1.6v9.1h-1.6zM243.18 243.2h1.6v9.1h-1.6zM246.7 243.2h1.6v9.1h-1.6zM248.96 243.2h1.6v9.1h-1.6zM251.22 243.2h1.6v9.1h-1.6zM253.48 243.2h1.6v9.1h-1.6zM255.74 243.2h1.6v9.1h-1.6zM258 243.2h1.6v9.1h-1.6zM260.26 243.2h1.6v9.1h-1.6zM262.52 243.2h1.6v9.1h-1.6zM264.78 243.2h1.6v9.1h-1.6zM267.04 243.2h1.6v9.1h-1.6zM269.3 243.2h1.6v9.1h-1.6zM271.56 243.2h1.6v9.1h-1.6zM273.82 243.2h1.6v9.1h-1.6zM276.08 243.2h1.6v9.1h-1.6zM278.34 243.2h1.6v9.1h-1.6zM280.6 243.2h1.6v9.1h-1.6zM282.86 243.2h1.6v9.1h-1.6zM285.12 243.2h1.6v9.1h-1.6zM287.38 243.2h1.6v9.1h-1.6zM289.64 243.2h1.6v9.1h-1.6zM291.9 243.2h1.6v9.1h-1.6zM294.16 243.2h1.6v9.1h-1.6zM296.42 243.2h1.6v9.1h-1.6zM298.68 243.2h1.6v9.1h-1.6zM300.94 243.2h1.6v9.1h-1.6zM303.2 243.2h1.6v9.1h-1.6zM305.46 243.2h1.6v9.1h-1.6zM307.72 243.2h1.6v9.1h-1.6zM309.98 243.2h1.6v9.1h-1.6zM312.24 243.2h1.6v9.1h-1.6zM314.5 243.2h1.6v9.1h-1.6zM316.76 243.2h1.6v9.1h-1.6zM319.02 243.2h1.6v9.1h-1.6zM321.28 243.2h1.6v9.1h-1.6zM323.54 243.2h1.6v9.1h-1.6zM325.8 243.2h1.6v9.1h-1.6zM328.06 243.2h1.6v9.1h-1.6zM330.32 243.2h1.6v9.1h-1.6zM332.58 243.2h1.6v9.1h-1.6zM334.84 243.2h1.6v9.1h-1.6zM337.1 243.2h1.6v9.1h-1.6zM339.36 243.2h1.6v9.1h-1.6zM341.62 243.2h1.6v9.1h-1.6zM343.88 243.2h1.6v9.1h-1.6zM346.14 243.2h1.6v9.1h-1.6zM348.4 243.2h1.6v9.1h-1.6zM350.66 243.2h1.6v9.1h-1.6zM352.92 243.2h1.6v9.1h-1.6zM355.18 243.2h1.6v9.1h-1.6zM357.44 243.2h1.6v9.1h-1.6zM359.7 243.2h1.6v9.1h-1.6zM361.96 243.2h1.6v9.1h-1.6zM364.22 243.2h1.6v9.1h-1.6zM366.48 243.2h1.6v9.1h-1.6zM368.74 243.2h1.6v9.1h-1.6zM371 243.2h1.6v9.1h-1.6zM373.26 243.2h1.6v9.1h-1.6zM375.52 243.2h1.6v9.1h-1.6zM377.78 243.2h1.6v9.1h-1.6zM380.04 243.2h1.6v9.1h-1.6zM382.3 243.2h1.6v9.1h-1.6zM384.56 243.2h1.6v9.1h-1.6zM386.82 243.2h1.6v9.1h-1.6zM389.08 243.2h1.6v9.1h-1.6zM391.34 243.2h1.6v9.1h-1.6zM393.6 243.2h1.6v9.1h-1.6zM395.86 243.2h1.6v9.1h-1.6zM398.12 243.2h1.6v9.1h-1.6zM400.38 243.2h1.6v9.1h-1.6zM402.64 243.2h1.6v9.1h-1.6zM404.9 243.2h1.6v9.1h-1.6zM407.16 243.2h1.6v9.1h-1.6zM409.42 243.2h1.6v9.1h-1.6zM411.68 243.2h1.6v9.1h-1.6zM413.94 243.2h1.6v9.1h-1.6zM416.2 243.2h1.6v9.1h-1.6zM418.46 243.2h1.6v9.1h-1.6zM420.72 243.2h1.6v9.1h-1.6zM422.98 243.2h1.6v9.1h-1.6zM425.24 243.2h1.6v9.1h-1.6zM427.5 243.2h1.6v9.1h-1.6zM429.76 243.2h1.6v9.1h-1.6zM432.02 243.2h1.6v9.1h-1.6zM434.28 243.2h1.6v9.1h-1.6zM436.54 243.2h1.6v9.1h-1.6zM438.8 243.2h1.6v9.1h-1.6zM441.06 243.2h1.6v9.1h-1.6zM443.32 243.2h1.6v9.1h-1.6zM445.58 243.2h1.6v9.1h-1.6zM447.84 243.2h1.6v9.1h-1.6zM450.1 243.2h1.6v9.1h-1.6zM452.36 243.2h1.6v9.1h-1.6zM454.62 243.2h1.6v9.1h-1.6zM456.88 243.2h1.6v9.1h-1.6zM459.14 243.2h1.6v9.1h-1.6zM461.4 243.2h1.6v9.1h-1.6zM463.66 243.2h1.6v9.1h-1.6zM465.92 243.2h1.6v9.1h-1.6zM468.18 243.2h1.6v9.1h-1.6zM470.44 243.2h1.6v9.1h-1.6zM472.7 243.2h1.6v9.1h-1.6zM474.96 243.2h1.6v9.1h-1.6zM477.22 243.2h1.6v9.1h-1.6zM479.48 243.2h1.6v9.1h-1.6zM481.74 243.2h1.6v9.1h-1.6zM484 243.2h1.6v9.1h-1.6zM486.26 243.2h1.6v9.1h-1.6zM488.52 243.2h1.6v9.1h-1.6zM490.78 243.2h1.6v9.1h-1.6zM493.04 243.2h1.6v9.1h-1.6zM495.3 243.2h1.6v9.1h-1.6zM497.56 243.2h1.6v9.1h-1.6zM499.82 243.2h1.6v9.1h-1.6zM502.08 243.2h1.6v9.1h-1.6zM504.34 243.2h1.6v9.1h-1.6zM506.6 243.2h1.6v9.1h-1.6zM508.86 243.2h1.6v9.1h-1.6zM511.12 243.2h1.6v9.1h-1.6z"/>
<path fill="#f9f9f9" d="M76.2 253h86.72v9h-86.72zM166 253h78.78v9h-78.78zM246.7 253h266.02v9h-266.02z"/>
<path fill="#f0f0f0" d="M76.2 253h1.6v9h-1.6zM78.44 253h1.6v9h-1.6zM80.68 253h1.6v9h-1.6zM82.92 253h1.6v9h-1.6zM85.16 253h1.6v9h-1.6zM87.4 253h1.6v9h-1.6zM89.64 253h1.6v9h-1.6zM91.88 253h1.6v9h-1.6zM94.12 253h1.6v9h-1.6zM96.36 253h1.6v9h-1.6zM98.6 253h1.6v9h-1.6zM100.84 253h1.6v9h-1.6zM103.08 253h1.6v9h-1.6zM105.32 253h1.6v9h-1.6zM107.56 253h1.6v9h-1.6zM109.8 253h1.6v9h-1.6zM112.04 253h1.6v9h-1.6zM114.28 253h1.6v9h-1.6zM116.52 253h1.6v9h-1.6zM118.76 253h1.6v9h-1.6zM121 253h1.6v9h-1.6zM123.24 253h1.6v9h-1.6zM125.48 253h1.6v9h-1.6zM127.72 253h1.6v9h-1.6zM129.96 253h1.6v9h-1.6zM132.2 253h1.6v9h-1.6zM134.44 253h1.6v9h-1.6zM136.68 253h1.6v9h-1.6zM138.92 253h1.6v9h-1.6zM141.16 253h1.6v9h-1.6zM143.4 253h1.6v9h-1.6zM145.64 253h1.6v9h-1.6zM147.88 253h1.6v9h-1.6zM150.12 253h1.6v9h-1.6zM152.36 253h1.6v9h-1.6zM154.6 253h1.6v9h-1.6zM156.84 253h1.6v9h-1.6zM159.08 253h1.6v9h-1.6zM161.32 253h1.6v9h-1.6zM166 253h1.6v9h-1.6zM168.27 253h1.6v9h-1.6zM170.54 253h1.6v9h-1.6zM172.81 253h1.6v9h-1.6zM175.08 253h1.6v9h-1.6zM177.35 253h1.6v9h-1.6zM179.62 253h1.6v9h-1.6zM181.89 253h1.6v9h-1.6zM184.16 253h1.6v9h-1.6zM186.43 253h1.6v9h-1.6zM188.7 253h1.6v9h-1.6zM190.97 253h1.6v9h-1.6zM193.24 253h1.6v9h-1.6zM195.51 253h1.6v9h-1.6zM197.78 253h1.6v9h-1.6zM200.05 253h1.6v9h-1.6zM202.32 253h1.6v9h-1.6zM204.59 253h1.6v9h-1.6zM206.86 253h1.6v9h-1.6zM209.13 253h1.6v9h-1.6zM211.4 253h1.6v9h-1.6zM213.67 253h1.6v9h-1.6zM215.94 253h1.6v9h-1.6zM218.21 253h1.6v9h-1.6zM220.48 253h1.6v9h-1.6zM222.75 253h1.6v9h-1.6zM225.02 253h1.6v9h-1.6zM227.29 253h1.6v9h-1.6zM229.56 253h1.6v9h-1.6zM231.83 253h1.6v9h-1.6zM234.1 253h1.6v9h-1.6zM236.37 253h1.6v9h-1.6zM238.64 253h1.6v9h-1.6zM240.91 253h1.6v9h-1.6zM243.18 253h1.6v9h-1.6zM246.7 253h1.6v9h-1.6zM248.96 253h1.6v9h-1.6zM251.22 253h1.6v9h-1.6zM253.48 253h1.6v9h-1.6zM255.74 253h1.6v9h-1.6zM258 253h1.6v9h-1.6zM260.26 253h1.6v9h-1.6zM262.52 253h1.6v9h-1.6zM264.78 253h1.6v9h-1.6zM267.04 253h1.6v9h-1.6zM269.3 253h1.6v9h-1.6zM271.56 253h1.6v9h-1.6zM273.82 253h1.6v9h-1.6zM276.08 253h1.6v9h-1.6zM278.34 253h1.6v9h-1.6zM280.6 253h1.6v9h-1.6zM282.86 253h1.6v9h-1.6zM285.12 253h1.6v9h-1.6zM287.38 253h1.6v9h-1.6zM289.64 253h1.6v9h-1.6zM291.9 253h1.6v9h-1.6zM294.16 253h1.6v9h-1.6zM296.42 253h1.6v9h-1.6zM298.68 253h1.6v9h-1.6zM300.94 253h1.6v9h-1.6zM303.2 253h1.6v9h-1.6zM305.46 253h1.6v9h-1.6zM307.72 253h1.6v9h-1.6zM309.98 253h1.6v9h-1.6zM312.24 253h1.6v9h-1.6zM314.5 253h1.6v9h-1.6zM316.76 253h1.6v9h-1.6zM319.02 253h1.6v9h-1.6zM321.28 253h1.6v9h-1.6zM323.54 253h1.6v9h-1.6zM325.8 253h1.6v9h-1.6zM328.06 253h1.6v9h-1.6zM330.32 253h1.6v9h-1.6zM332.58 253h1.6v9h-1.6zM334.84 253h1.6v9h-1.6zM337.1 253h1.6v9h-1.6zM339.36 253h1.6v9h-1.6zM341.62 253h1.6v9h-1.6zM343.88 253h1.6v9h-1.6zM346.14 253h1.6v9h-1.6zM348.4 253h1.6v9h-1.6zM350.66 253h1.6v9h-1.6zM352.92 253h1.6v9h-1.6zM355.18 253h1.6v9h-1.6zM357.44 253h1.6v9h-1.6zM359.7 253h1.6v9h-1.6zM361.96 253h1.6v9h-1.6zM364.22 253h1.6v9h-1.6zM366.48 253h1.6v9h-1.6zM368.74 253h1.6v9h-1.6zM371 253h1.6v9h-1.6zM373.26 253h1.6v9h-1.6zM375.52 253h1.6v9h-1.6zM377.78 253h1.6v9h-1.6zM380.04 253h1.6v9h-1.6zM382.3 253h1.6v9h-1.6zM384.56 253h1.6v9h-1.6zM386.82 253h1.6v9h-1.6zM389.08 253h1.6v9h-1.6zM391.34 253h1.6v9h-1.6zM393.6 253h1.6v9h-1.6zM395.86 253h1.6v9h-1.6zM398.12 253h1.6v9h-1.6zM400.38 253h1.6v9h-1.6zM402.64 253h1.6v9h-1.6zM404.9 253h1.6v9h-1.6zM407.16 253h1.6v9h-1.6zM409.42 253h1.6v9h-1.6zM411.68 253h1.6v9h-1.6zM413.94 253h1.6v9h-1.6zM416.2 253h1.6v9h-1.6zM418.46 253h1.6v9h-1.6zM420.72 253h1.6v9h-1.6zM422.98 253h1.6v9h-1.6zM425.24 253h1.6v9h-1.6zM427.5 253h1.6v9h-1.6zM429.76 253h1.6v9h-1.6zM432.02 253h1.6v9h-1.6zM434.28 253h1.6v9h-1.6zM436.54 253h1.6v9h-1.6zM438.8 253h1.6v9h-1.6zM441.06 253h1.6v9h-1.6zM443.32 253h1.6v9h-1.6zM445.58 253h1.6v9h-1.6zM447.84 253h1.6v9h-1.6zM450.1 253h1.6v9h-1.6zM452.36 253h1.6v9h-1.6zM454.62 253h1.6v9h-1.6zM456.88 253h1.6v9h-1.6zM459.14 253h1.6v9h-1.6zM461.4 253h1.6v9h-1.6zM463.66 253h1.6v9h-1.6zM465.92 253h1.6v9h-1.6zM468.18 253h1.6v9h-1.6zM470.44 253h1.6v9h-1.6zM472.7 253h1.6v9h-1.6zM474.96 253h1.6v9h-1.6zM477.22 253h1.6v9h-1.6zM479.48 253h1.6v9h-1.6zM481.74 253h1.6v9h-1.6zM484 253h1.6v9h-1.6zM486.26 253h1.6v9h-1.6zM488.52 253h1.6v9h-1.6zM490.78 253h1.6v9h-1.6zM493.04 253h1.6v9h-1.6zM495.3 253h1.6v9h-1.6zM497.56 253h1.6v9h-1.6zM499.82 253h1.6v9h-1.6zM502.08 253h1.6v9h-1.6zM504.34 253h1.6v9h-1.6zM506.6 253h1.6v9h-1.6zM508.86 253h1.6v9h-1.6zM511.12 253h1.6v9h-1.6z"/>
<path fill="#f9f9f9" d="M76.2 262.8h86.72v9h-86.72zM166 262.8h78.78v9h-78.78zM246.7 262.8h266.02v9h-266.02z"/>
<path fill="#f0f0f0" d="M76.2 262.8h1.6v9h-1.6zM78.44 262.8h1.6v9h-1.6zM80.68 262.8h1.6v9h-1.6zM82.92 262.8h1.6v9h-1.6zM85.16 262.8h1.6v9h-1.6zM87.4 262.8h1.6v9h-1.6zM89.64 262.8h1.6v9h-1.6zM91.88 262.8h1.6v9h-1.6zM94.12 262.8h1.6v9h-1.6zM96.36 262.8h1.6v9h-1.6zM98.6 262.8h1.6v9h-1.6zM100.84 262.8h1.6v9h-1.6zM103.08 262.8h1.6v9h-1.6zM105.32 262.8h1.6v9h-1.6zM107.56 262.8h1.6v9h-1.6zM109.8 262.8h1.6v9h-1.6zM112.04 262.8h1.6v9h-1.6zM114.28 262.8h1.6v9h-1.6zM116.52 262.8h1.6v9h-1.6zM118.76 262.8h1.6v9h-1.6zM121 262.8h1.6v9h-1.6zM123.24 262.8h1.6v9h-1.6zM125.48 262.8h1.6v9h-1.6zM127.72 262.8h1.6v9h-1.6zM129.96 262.8h1.6v9h-1.6zM132.2 262.8h1.6v9h-1.6zM134.44 262.8h1.6v9h-1.6zM136.68 262.8h1.6v9h-1.6zM138.92 262.8h1.6v9h-1.6zM141.16 262.8h1.6v9h-1.6zM143.4 262.8h1.6v9h-1.6zM145.64 262.8h1.6v9h-1.6zM147.88 262.8h1.6v9h-1.6zM150.12 262.8h1.6v9h-1.6zM152.36 262.8h1.6v9h-1.6zM154.6 262.8h1.6v9h-1.6zM156.84 262.8h1.6v9h-1.6zM159.08 262.8h1.6v9h-1.6zM161.32 262.8h1.6v9h-1.6zM166 262.8h1.6v9h-1.6zM168.27 262.8h1.6v9h-1.6zM170.54 262.8h1.6v9h-1.6zM172.81 262.8h1.6v9h-1.6zM175.08 262.8h1.6v9h-1.6zM177.35 262.8h1.6v9h-1.6zM179.62 262.8h1.6v9h-1.6zM181.89 262.8h1.6v9h-1.6zM184.16 262.8h1.6v9h-1.6zM186.43 262.8h1.6v9h-1.6zM188.7 262.8h1.6v9h-1.6zM190.97 262.8h1.6v9h-1.6zM193.24 262.8h1.6v9h-1.6zM195.51 262.8h1.6v9h-1.6zM197.78 262.8h1.6v9h-1.6zM200.05 262.8h1.6v9h-1.6zM202.32 262.8h1.6v9h-1.6zM204.59 262.8h1.6v9h-1.6zM206.86 262.8h1.6v9h-1.6zM209.13 262.8h1.6v9h-1.6zM211.4 262.8h1.6v9h-1.6zM213.67 262.8h1.6v9h-1.6zM215.94 262.8h1.6v9h-1.6zM218.21 262.8h1.6v9h-1.6zM220.48 262.8h1.6v9h-1.6zM222.75 262.8h1.6v9h-1.6zM225.02 262.8h1.6v9h-1.6zM227.29 262.8h1.6v9h-1.6zM229.56 262.8h1.6v9h-1.6zM231.83 262.8h1.6v9h-1.6zM234.1 262.8h1.6v9h-1.6zM236.37 262.8h1.6v9h-1.6zM238.64 262.8h1.6v9h-1.6zM240.91 262.8h1.6v9h-1.6zM243.18 262.8h1.6v9h-1.6zM246.7 262.8h1.6v9h-1.6zM248.96 262.8h1.6v9h-1.6zM251.22 262.8h1.6v9h-1.6zM253.48 262.8h1.6v9h-1.6zM255.74 262.8h1.6v9h-1.6zM258 262.8h1.6v9h-1.6zM260.26 262.8h1.6v9h-1.6zM262.52 262.8h1.6v9h-1.6zM264.78 262.8h1.6v9h-1.6zM267.04 262.8h1.6v9h-1.6zM269.3 262.8h1.6v9h-1.6zM271.56 262.8h1.6v9h-1.6zM273.82 262.8h1.6v9h-1.6zM276.08 262.8h1.6v9h-1.6zM278.34 262.8h1.6v9h-1.6zM280.6 262.8h1.6v9h-1.6zM282.86 262.8h1.6v9h-1.6zM285.12 262.8h1.6v9h-1.6zM287.38 262.8h1.6v9h-1.6zM289.64 262.8h1.6v9h-1.6zM291.9 262.8h1.6v9h-1.6zM294.16 262.8h1.6v9h-1.6zM296.42 262.8h1.6v9h-1.6zM298.68 262.8h1.6v9h-1.6zM300.94 262.8h1.6v9h-1.6zM303.2 262.8h1.6v9h-1.6zM305.46 262.8h1.6v9h-1.6zM307.72 262.8h1.6v9h-1.6zM309.98 262.8h1.6v9h-1.6zM312.24 262.8h1.6v9h-1.6zM314.5 262.8h1.6v9h-1.6zM316.76 262.8h1.6v9h-1.6zM319.02 262.8h1.6v9h-1.6zM321.28 262.8h1.6v9h-1.6zM323.54 262.8h1.6v9h-1.6zM325.8 262.8h1.6v9h-1.6zM328.06 262.8h1.6v9h-1.6zM330.32 262.8h1.6v9h-1.6zM332.58 262.8h1.6v9h-1.6zM334.84 262.8h1.6v9h-1.6zM337.1 262.8h1.6v9h-1.6zM339.36 262.8h1.6v9h-1.6zM341.62 262.8h1.6v9h-1.6zM343.88 262.8h1.6v9h-1.6zM346.14 262.8h1.6v9h-1.6zM348.4 262.8h1.6v9h-1.6zM350.66 262.8h1.6v9h-1.6zM352.92 262.8h1.6v9h-1.6zM355.18 262.8h1.6v9h-1.6zM357.44 262.8h1.6v9h-1.6zM359.7 262.8h1.6v9h-1.6zM361.96 262.8h1.6v9h-1.6zM364.22 262.8h1.6v9h-1.6zM366.48 262.8h1.6v9h-1.6zM368.74 262.8h1.6v9h-1.6zM371 262.8h1.6v9h-1.6zM373.26 262.8h1.6v9h-1.6zM375.52 262.8h1.6v9h-1.6zM377.78 262.8h1.6v9h-1.6zM380.04 262.8h1.6v9h-1.6zM382.3 262.8h1.6v9h-1.6zM384.56 262.8h1.6v9h-1.6zM386.82 262.8h1.6v9h-1.6zM389.08 262.8h1.6v9h-1.6zM391.34 262.8h1.6v9h-1.6zM393.6 262.8h1.6v9h-1.6zM395.86 262.8h1.6v9h-1.6zM398.12 262.8h1.6v9h-1.6zM400.38 262.8h1.6v9h-1.6zM402.64 262.8h1.6v9h-1.6zM404.9 262.8h1.6v9h-1.6zM407.16 262.8h1.6v9h-1.6zM409.42 262.8h1.6v9h-1.6zM411.68 262.8h1.6v9h-1.6zM413.94 262.8h1.6v9h-1.6zM416.2 262.8h1.6v9h-1.6zM418.46 262.8h1.6v9h-1.6zM420.72 262.8h1.6v9h-1.6zM422.98 262.8h1.6v9h-1.6zM425.24 262.8h1.6v9h-1.6zM427.5 262.8h1.6v9h-1.6zM429.76 262.8h1.6v9h-1.6zM432.02 262.8h1.6v9h-1.6zM434.28 262.8h1.6v9h-1.6zM436.54 262.8h1.6v9h-1.6zM438.8 262.8h1.6v9h-1.6zM441.06 262.8h1.6v9h-1.6zM443.32 262.8h1.6v9h-1.6zM445.58 262.8h1.6v9h-1.6zM447.84 262.8h1.6v9h-1.6zM450.1 262.8h1.6v9h-1.6zM452.36 262.8h1.6v9h-1.6zM454.62 262.8h1.6v9h-1.6zM456.88 262.8h1.6v9h-1.6zM459.14 262.8h1.6v9h-1.6zM461.4 262.8h1.6v9h-1.6zM463.66 262.8h1.6v9h-1.6zM465.92 262.8h1.6v9h-1.6zM468.18 262.8h1.6v9h-1.6zM470.44 262.8h1.6v9h-1.6zM472.7 262.8h1.6v9h-1.6zM474.96 262.8h1.6v9h-1.6zM477.22 262.8h1.6v9h-1.6zM479.48 262.8h1.6v9h-1.6zM481.74 262.8h1.6v9h-1.6zM484 262.8h1.6v9h-1.6zM486.26 262.8h1.6v9h-1.6zM488.52 262.8h1.6v9h-1.6zM490.78 262.8h1.6v9h-1.6zM493.04 262.8h1.6v9h-1.6zM495.3 262.8h1.6v9h-1.6zM497.56 262.8h1.6v9h-1.6zM499.82 262.8h1.6v9h-1.6zM502.08 262.8h1.6v9h-1.6zM504.34 262.8h1.6v9h-1.6zM506.6 262.8h1.6v9h-1.6zM508.86 262.8h1.6v9h-1.6zM511.12 262.8h1.6v9h-1.6z"/>
<path fill="#f9f9f9" d="M76.2 272.6h86.72v9h-86.72zM166 272.6h78.78v9h-78.78zM246.7 272.6h266.02v9h-266.02z"/>
<path fill="#f0f0f0" d="M76.2 272.6h1.6v9h-1.6zM78.44 272.6h1.6v9h-1.6zM80.68 272.6h1.6v9h-1.6zM82.92 272.6h1.6v9h-1.6zM85.16 272.6h1.6v9h-1.6zM87.4 272.6h1.6v9h-1.6zM89.64 272.6h1.6v9h-1.6zM91.88 272.6h1.6v9h-1.6zM94.12 272.6h1.6v9h-1.6zM96.36 272.6h1.6v9h-1.6zM98.6 272.6h1.6v9h-1.6zM100.84 272.6h1.6v9h-1.6zM103.08 272.6h1.6v9h-1.6zM105.32 272.6h1.6v9h-1.6zM107.56 272.6h1.6v9h-1.6zM109.8 272.6h1.6v9h-1.6zM112.04 272.6h1.6v9h-1.6zM114.28 272.6h1.6v9h-1.6zM116.52 272.6h1.6v9h-1.6zM118.76 272.6h1.6v9h-1.6zM121 272.6h1.6v9h-1.6zM123.24 272.6h1.6v9h-1.6zM125.48 272.6h1.6v9h-1.6zM127.72 272.6h1.6v9h-1.6zM129.96 272.6h1.6v9h-1.6zM132.2 272.6h1.6v9h-1.6zM134.44 272.6h1.6v9h-1.6zM136.68 272.6h1.6v9h-1.6zM138.92 272.6h1.6v9h-1.6zM141.16 272.6h1.6v9h-1.6zM143.4 272.6h1.6v9h-1.6zM145.64 272.6h1.6v9h-1.6zM147.88 272.6h1.6v9h-1.6zM150.12 272.6h1.6v9h-1.6zM152.36 272.6h1.6v9h-1.6zM154.6 272.6h1.6v9h-1.6zM156.84 272.6h1.6v9h-1.6zM159.08 272.6h1.6v9h-1.6zM161.32 272.6h1.6v9h-1.6zM166 272.6h1.6v9h-1.6zM168.27 272.6h1.6v9h-1.6zM170.54 272.6h1.6v9h-1.6zM172.81 272.6h1.6v9h-1.6zM175.08 272.6h1.6v9h-1.6zM177.35 272.6h1.6v9h-1.6zM179.62 272.6h1.6v9h-1.6zM181.89 272.6h1.6v9h-1.6zM184.16 272.6h1.6v9h-1.6zM186.43 272.6h1.6v9h-1.6zM188.7 272.6h1.6v9h-1.6zM190.97 272.6h1.6v9h-1.6zM193.24 272.6h1.6v9h-1.6zM195.51 272.6h1.6v9h-1.6zM197.78 272.6h1.6v9h-1.6zM200.05 272.6h1.6v9h-1.6zM202.32 272.6h1.6v9h-1.6zM204.59 272.6h1.6v9h-1.6zM206.86 272.6h1.6v9h-1.6zM209.13 272.6h1.6v9h-1.6zM211.4 272.6h1.6v9h-1.6zM213.67 272.6h1.6v9h-1.6zM215.94 272.6h1.6v9h-1.6zM218.21 272.6h1.6v9h-1.6zM220.48 272.6h1.6v9h-1.6zM222.75 272.6h1.6v9h-1.6zM225.02 272.6h1.6v9h-1.6zM227.29 272.6h1.6v9h-1.6zM229.56 272.6h1.6v9h-1.6zM231.83 272.6h1.6v9h-1.6zM234.1 272.6h1.6v9h-1.6zM236.37 272.6h1.6v9h-1.6zM238.64 272.6h1.6v9h-1.6zM240.91 272.6h1.6v9h-1.6zM243.18 272.6h1.6v9h-1.6zM246.7 272.6h1.6v9h-1.6zM248.96 272.6h1.6v9h-1.6zM251.22 272.6h1.6v9h-1.6zM253.48 272.6h1.6v9h-1.6zM255.74 272.6h1.6v9h-1.6zM258 272.6h1.6v9h-1.6zM260.26 272.6h1.6v9h-1.6zM262.52 272.6h1.6v9h-1.6zM264.78 272.6h1.6v9h-1.6zM267.04 272.6h1.6v9h-1.6zM269.3 272.6h1.6v9h-1.6zM271.56 272.6h1.6v9h-1.6zM273.82 272.6h1.6v9h-1.6zM276.08 272.6h1.6v9h-1.6zM278.34 272.6h1.6v9h-1.6zM280.6 272.6h1.6v9h-1.6zM282.86 272.6h1.6v9h-1.6zM285.12 272.6h1.6v9h-1.6zM287.38 272.6h1.6v9h-1.6zM289.64 272.6h1.6v9h-1.6zM291.9 272.6h1.6v9h-1.6zM294.16 272.6h1.6v9h-1.6zM296.42 272.6h1.6v9h-1.6zM298.68 272.6h1.6v9h-1.6zM300.94 272.6h1.6v9h-1.6zM303.2 272.6h1.6v9h-1.6zM305.46 272.6h1.6v9h-1.6zM307.72 272.6h1.6v9h-1.6zM309.98 272.6h1.6v9h-1.6zM312.24 272.6h1.6v9h-1.6zM314.5 272.6h1.6v9h-1.6zM316.76 272.6h1.6v9h-1.6zM319.02 272.6h1.6v9h-1.6zM321.28 272.6h1.6v9h-1.6zM323.54 272.6h1.6v9h-1.6zM325.8 272.6h1.6v9h-1.6zM328.06 272.6h1.6v9h-1.6zM330.32 272.6h1.6v9h-1.6zM332.58 272.6h1.6v9h-1.6zM334.84 272.6h1.6v9h-1.6zM337.1 272.6h1.6v9h-1.6zM339.36 272.6h1.6v9h-1.6zM341.62 272.6h1.6v9h-1.6zM343.88 272.6h1.6v9h-1.6zM346.14 272.6h1.6v9h-1.6zM348.4 272.6h1.6v9h-1.6zM350.66 272.6h1.6v9h-1.6zM352.92 272.6h1.6v9h-1.6zM355.18 272.6h1.6v9h-1.6zM357.44 272.6h1.6v9h-1.6zM359.7 272.6h1.6v9h-1.6zM361.96 272.6h1.6v9h-1.6zM364.22 272.6h1.6v9h-1.6zM366.48 272.6h1.6v9h-1.6zM368.74 272.6h1.6v9h-1.6zM371 272.6h1.6v9h-1.6zM373.26 272.6h1.6v9h-1.6zM375.52 272.6h1.6v9h-1.6zM377.78 272.6h1.6v9h-1.6zM380.04 272.6h1.6v9h-1.6zM382.3 272.6h1.6v9h-1.6zM384.56 272.6h1.6v9h-1.6zM386.82 272.6h1.6v9h-1.6zM389.08 272.6h1.6v9h-1.6zM391.34 272.6h1.6v9h-1.6zM393.6 272.6h1.6v9h-1.6zM395.86 272.6h1.6v9h-1.6zM398.12 272.6h1.6v9h-1.6zM400.38 272.6h1.6v9h-1.6zM402.64 272.6h1.6v9h-1.6zM404.9 272.6h1.6v9h-1.6zM407.16 272.6h1.6v9h-1.6zM409.42 272.6h1.6v9h-1.6zM411.68 272.6h1.6v9h-1.6zM413.94 272.6h1.6v9h-1.6zM416.2 272.6h1.6v9h-1.6zM418.46 272.6h1.6v9h-1.6zM420.72 272.6h1.6v9h-1.6zM422.98 272.6h1.6v9h-1.6zM425.24 272.6h1.6v9h-1.6zM427.5 272.6h1.6v9h-1.6zM429.76 272.6h1.6v9h-1.6zM432.02 272.6h1.6v9h-1.6zM434.28 272.6h1.6v9h-1.6zM436.54 272.6h1.6v9h-1.6zM438.8 272.6h1.6v9h-1.6zM441.06 272.6h1.6v9h-1.6zM443.32 272.6h1.6v9h-1.6zM445.58 272.6h1.6v9h-1.6zM447.84 272.6h1.6v9h-1.6zM450.1 272.6h1.6v9h-1.6zM452.36 272.6h1.6v9h-1.6zM454.62 272.6h1.6v9h-1.6zM456.88 272.6h1.6v9h-1.6zM459.14 272.6h1.6v9h-1.6zM461.4 272.6h1.6v9h-1.6zM463.66 272.6h1.6v9h-1.6zM465.92 272.6h1.6v9h-1.6zM468.18 272.6h1.6v9h-1.6zM470.44 272.6h1.6v9h-1.6zM472.7 272.6h1.6v9h-1.6zM474.96 272.6h1.6v9h-1.6zM477.22 272.6h1.6v9h-1.6zM479.48 272.6h1.6v9h-1.6zM481.74 272.6h1.6v9h-1.6zM484 272.6h1.6v9h-1.6zM486.26 272.6h1.6v9h-1.6zM488.52 272.6h1.6v9h-1.6zM490.78 272.6h1.6v9h-1.6zM493.04 272.6h1.6v9h-1.6zM495.3 272.6h1.6v9h-1.6zM497.56 272.6h1.6v9h-1.6zM499.82 272.6h1.6v9h-1.6zM502.08 272.6h1.6v9h-1.6zM504.34 272.6h1.6v9h-1.6zM506.6 272.6h1.6v9h-1.6zM508.86 272.6h1.6v9h-1.6zM511.12 272.6h1.6v9h-1.6z"/>
<path fill="#6a9234" d="M166 243.2h1.6v9.1h-1.6zM246.7 243.2h1.6v9.1h-1.6zM248.96 243.2h1.6v9.1h-1.6zM251.22 243.2h1.6v9.1h-1.6zM253.48 243.2h1.6v9.1h-1.6zM255.74 243.2h1.6v9.1h-1.6zM258 243.2h1.6v9.1h-1.6zM260.26 243.2h1.6v9.1h-1.6zM76.2 253h1.6v9h-1.6zM168.27 253h1.6v9h-1.6zM246.7 253h1.6v9h-1.6zM248.96 253h1.6v9h-1.6zM262.52 253h1.6v9h-1.6zM264.78 253h1.6v9h-1.6zM267.04 253h1.6v9h-1.6zM269.3 253h1.6v9h-1.6zM271.56 253h1.6v9h-1.6zM273.82 253h1.6v9h-1.6z"/>
<path fill="#ababab" d="M78.44 262.8h1.6v9h-1.6zM80.68 262.8h1.6v9h-1.6zM82.92 262.8h1.6v9h-1.6zM85.16 262.8h1.6v9h-1.6zM170.54 262.8h1.6v9h-1.6zM172.81 262.8h1.6v9h-1.6zM175.08 262.8h1.6v9h-1.6zM177.35 262.8h1.6v9h-1.6zM179.62 262.8h1.6v9h-1.6zM181.89 262.8h1.6v9h-1.6zM184.16 262.8h1.6v9h-1.6zM186.43 262.8h1.6v9h-1.6zM188.7 262.8h1.6v9h-1.6zM251.22 262.8h1.6v9h-1.6zM253.48 262.8h1.6v9h-1.6zM276.08 262.8h1.6v9h-1.6zM278.34 262.8h1.6v9h-1.6zM280.6 262.8h1.6v9h-1.6zM282.86 262.8h1.6v9h-1.6zM285.12 262.8h1.6v9h-1.6zM287.38 262.8h1.6v9h-1.6zM289.64 262.8h1.6v9h-1.6zM291.9 262.8h1.6v9h-1.6zM294.16 262.8h1.6v9h-1.6zM296.42 262.8h1.6v9h-1.6zM298.68 262.8h1.6v9h-1.6zM300.94 262.8h1.6v9h-1.6zM303.2 262.8h1.6v9h-1.6zM305.46 262.8h1.6v9h-1.6zM307.72 262.8h1.6v9h-1.6zM87.4 272.6h1.6v9h-1.6zM170.54 272.6h1.6v9h-1.6zM175.08 272.6h1.6v9h-1.6zM190.97 272.6h1.6v9h-1.6zM253.48 272.6h1.6v9h-1.6zM255.74 272.6h1.6v9h-1.6zM262.52 272.6h1.6v9h-1.6zM294.16 272.6h1.6v9h-1.6zM296.42 272.6h1.6v9h-1.6zM298.68 272.6h1.6v9h-1.6zM300.94 272.6h1.6v9h-1.6zM309.98 272.6h1.6v9h-1.6zM312.24 272.6h1.6v9h-1.6zM314.5 272.6h1.6v9h-1.6zM316.76 272.6h1.6v9h-1.6zM319.02 272.6h1.6v9h-1.6zM321.28 272.6h1.6v9h-1.6zM323.54 272.6h1.6v9h-1.6zM325.8 272.6h1.6v9h-1.6zM328.06 272.6h1.6v9h-1.6zM330.32 272.6h1.6v9h-1.6zM332.58 272.6h1.6v9h-1.6zM334.84 272.6h1.6v9h-1.6zM337.1 272.6h1.6v9h-1.6zM339.36 272.6h1.6v9h-1.6zM341.62 272.6h1.6v9h-1.6zM343.88 272.6h1.6v9h-1.6zM346.14 272.6h1.6v9h-1.6zM348.4 272.6h1.6v9h-1.6zM350.66 272.6h1.6v9h-1.6zM352.92 272.6h1.6v9h-1.6z"/>
<path fill="#c10000" d="M76 231h12.8v11.4h-12.8z"/>
<text x="82.5" y="239.6" font-size="6.6" text-anchor="middle" textLength="12.2" lengthAdjust="spacingAndGlyphs" fill="#ffffff">15%</text>
<path fill="#c10000" d="M165.6 231h27.4v11.4h-27.4z"/>
<text x="179.5" y="239.6" font-size="6.6" text-anchor="middle" textLength="12.2" lengthAdjust="spacingAndGlyphs" fill="#ffffff">34%</text>
<path fill="#c10000" d="M246.2 231h108.8v11.4h-108.8z"/>
<text x="300.6" y="239.6" font-size="6.6" text-anchor="middle" textLength="12.2" lengthAdjust="spacingAndGlyphs" fill="#ffffff">41%</text>
<text x="74.3" y="239.3" font-size="7.8" text-anchor="end" textLength="31.3" lengthAdjust="spacingAndGlyphs" fill="#262626" stroke="#262626" stroke-width="0.06">Total new</text>
<text x="74.3" y="250" font-size="7.8" text-anchor="end" font-style="italic" textLength="16" lengthAdjust="spacingAndGlyphs" fill="#262626" stroke="#262626" stroke-width="0.06">TP53</text>
<text x="74.3" y="259.8" font-size="7.8" text-anchor="end" font-style="italic" textLength="24.5" lengthAdjust="spacingAndGlyphs" fill="#262626" stroke="#262626" stroke-width="0.06">PPM1D</text>
<text x="74.3" y="269.4" font-size="7.8" text-anchor="end" font-style="italic" textLength="50.3" lengthAdjust="spacingAndGlyphs" fill="#262626" stroke="#262626" stroke-width="0.06">DNMT3A/TET2</text>
<text x="74.3" y="278.6" font-size="7.8" text-anchor="end" textLength="19.4" lengthAdjust="spacingAndGlyphs" fill="#262626" stroke="#262626" stroke-width="0.06">Other</text>
<path fill="#000" d="M0 0h520v1.1h-520zM0 0h1.1v289h-1.1zM518.7 0h1.3v289h-1.3zM0 287.6h520v1.4h-520z"/>
</svg>
</body></html>
